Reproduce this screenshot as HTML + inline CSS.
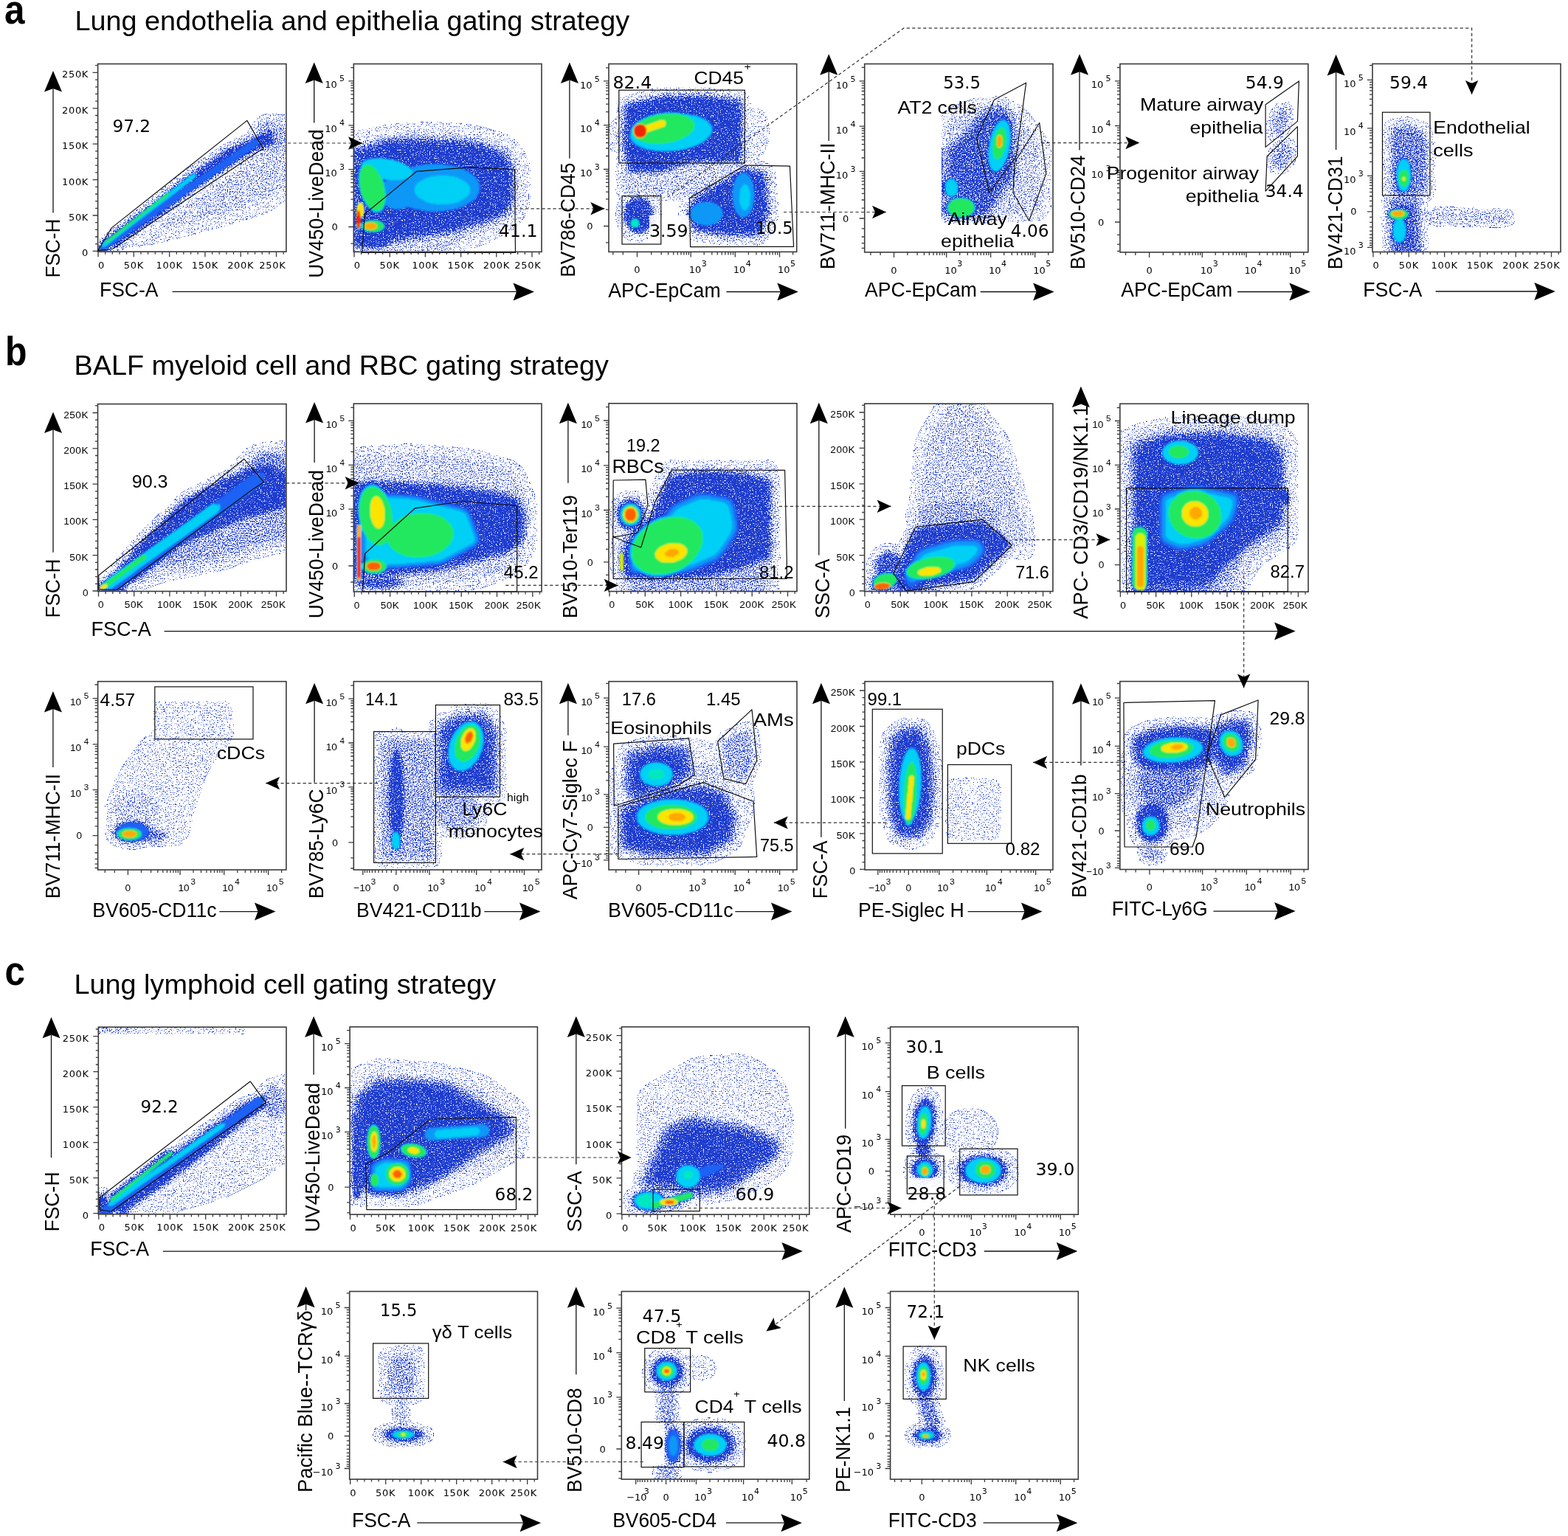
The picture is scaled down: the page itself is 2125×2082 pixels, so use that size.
<!DOCTYPE html>
<html><head><meta charset="utf-8"><title>Gating strategy</title><style>html,body{margin:0;padding:0;background:#fff;width:2125px;height:2082px;overflow:hidden}svg{display:block}</style></head><body>
<svg xmlns="http://www.w3.org/2000/svg" width="2125" height="2082" viewBox="0 0 2125 2082" font-family="'Liberation Sans', Arial, Helvetica, sans-serif">
<defs>
<filter id="spk" filterUnits="userSpaceOnUse" x="0" y="0" width="2125" height="2082" color-interpolation-filters="sRGB">
<feGaussianBlur in="SourceGraphic" stdDeviation="2" result="g"/>
<feColorMatrix in="g" type="matrix" values="0 0 0 0 0  0 0 0 0 0  0 0 0 0 0  1 0 0 0 0" result="ga"/>
<feTurbulence type="fractalNoise" baseFrequency="0.62" numOctaves="2" seed="11" result="n"/>
<feColorMatrix in="n" type="matrix" values="0 0 0 0 0  0 0 0 0 0  0 0 0 0 0  1 0 0 0 0" result="na"/>
<feComposite in="ga" in2="na" operator="arithmetic" k1="0" k2="1" k3="-1" k4="0" result="d"/>
<feComponentTransfer in="d" result="m"><feFuncA type="linear" slope="9" intercept="0"/></feComponentTransfer>
<feFlood flood-color="#1d3ccf" result="f"/>
<feComposite in="f" in2="m" operator="in"/>
</filter>
<filter id="sm" x="-2%" y="-2%" width="104%" height="104%"><feGaussianBlur stdDeviation="1.1"/></filter>
</defs>
<rect width="2125" height="2082" fill="#fff"/>
<clipPath id="fr"><rect x="133.4" y="87.4" width="253.7" height="253"/><rect x="480.1" y="87.4" width="253.1" height="253.2"/><rect x="825.8" y="87.4" width="253.1" height="253.2"/><rect x="1172.5" y="87.4" width="253.7" height="253.7"/><rect x="1518.7" y="87.4" width="253.3" height="253.7"/><rect x="1860.8" y="87.3" width="253.4" height="253.4"/><rect x="133.3" y="548.4" width="253.9" height="252.3"/><rect x="480.1" y="548" width="253.1" height="253.2"/><rect x="825.8" y="547.6" width="253.4" height="253.2"/><rect x="1172.4" y="548" width="253.7" height="252.8"/><rect x="1518.6" y="548.1" width="253.6" height="253.3"/><rect x="133.4" y="924.5" width="253.7" height="253.7"/><rect x="480.1" y="924.5" width="253.1" height="253.7"/><rect x="825.8" y="924.5" width="253.4" height="253.7"/><rect x="1172.8" y="924.5" width="253.3" height="253.7"/><rect x="1518.6" y="924.4" width="253.6" height="253.3"/><rect x="134.1" y="1393" width="253.1" height="252.1"/><rect x="474.9" y="1392.7" width="252.7" height="252.7"/><rect x="843.3" y="1392.7" width="252.7" height="252.7"/><rect x="1207.4" y="1392.7" width="253.1" height="252.7"/><rect x="474.5" y="1751.3" width="253.2" height="253"/><rect x="843.1" y="1751.3" width="252.9" height="253"/><rect x="1207.4" y="1751.3" width="253.1" height="253"/></clipPath>
<g clip-path="url(#fr)"><g filter="url(#spk)"><path d="M386 160 377 161 374 159 369 159 367 158 366 159 361 159 355 162 349 168 338 185 304 201 286 214 252 236 196 283 134 331 134 339 148 339 149 338 150 339 157 339 172 328 174 328 176 330 189 330 190 329 209 326 214 324 218 324 223 322 227 322 228 321 239 319 243 317 266 312 270 310 289 306 293 304 303 302 310 299 313 299 320 296 323 296 330 293 333 293 343 289 346 289 362 283 381 269 386 268z" fill="rgb(102,102,102)"/><path d="M386 173 380 166 372 162 363 162 358 164 352 169 349 174 348 180 345 183 306 201 250 239 200 281 152 318 143 326 134 332 134 335 135 336 134 339 147 339 149 337 157 337 161 335 211 300 266 258 335 214 337 215 331 225 323 233 268 269 222 304 219 307 219 309 226 309 227 308 231 308 232 307 247 304 251 302 289 293 323 282 326 282 333 279 336 279 351 274 359 270 374 258 378 256 386 255z" fill="rgb(117,117,117)"/><path d="M384 175 377 167 373 165 366 164 358 167 351 175 350 181 348 183 346 183 331 191 329 191 316 198 314 198 306 202 249 241 199 283 141 327 137 331 136 335 134 337 134 339 145 339 149 336 157 336 211 299 266 257 301 234 304 233 318 223 343 208 356 202 359 202 366 205 373 204 377 202 382 197 385 191 386 183 385 182z" fill="rgb(133,133,133)"/><path d="M370 178 369 177 365 177 359 179 342 187 340 187 305 204 287 217 256 237 221 266 140 328 137 331 137 334 134 338 135 339 144 339 150 335 157 335 162 331 209 299 264 257 279 247 282 246 316 223 346 205 372 195 373 194 373 190 372 189z" fill="rgb(148,148,148)"/><path d="M369 179 368 178 365 178 357 182 352 183 315 201 309 203 261 235 231 259 224 263 179 299 140 328 134 338 136 339 143 339 150 334 156 334 200 303 207 299 262 257 283 243 286 242 320 219 330 214 347 203 349 203 352 201 371 194 372 191 371 190z" fill="rgb(166,166,166)"/><path d="M368 181 367 180 364 180 356 184 351 185 307 206 265 235 260 236 139 329 137 332 137 334 134 337 136 339 143 339 151 333 157 332 210 295 241 271 308 225 311 224 319 218 344 203 363 195 368 194 370 192z" fill="rgb(184,184,184)"/><path d="M708 211 697 196 688 188 675 183 672 183 654 177 651 177 642 174 636 174 635 173 612 172 611 171 598 171 597 170 552 171 551 172 528 173 527 174 522 174 521 175 517 175 516 176 512 176 511 177 507 177 506 178 502 178 501 179 497 179 496 180 492 180 486 182 481 182 481 339 630 339 634 334 638 332 659 325 692 308 701 299 708 289 713 277 713 269 714 268 714 231 713 230 713 222z" fill="rgb(102,102,102)"/><path d="M700 216 688 200 681 195 669 191 666 191 662 189 659 189 655 187 652 187 648 185 640 184 639 183 632 183 631 182 591 180 590 179 542 181 541 182 525 183 524 184 500 188 499 189 481 193 481 339 608 339 609 336 612 333 623 327 656 316 682 303 688 299 693 294 700 284 704 274 704 226z" fill="rgb(117,117,117)"/><path d="M481 198 481 337 494 337 495 336 498 337 511 337 512 336 519 336 520 335 527 334 530 332 548 329 549 328 554 328 555 327 566 326 573 324 579 324 580 323 586 323 587 322 593 322 600 320 606 320 607 319 612 319 613 318 620 317 624 315 627 315 641 310 654 307 686 293 690 289 698 275 700 269 700 249 699 248 699 230 695 218 685 204 679 201 671 199 668 197 657 194 654 192 645 189 635 188 634 187 617 187 616 186 599 186 598 185 530 185 529 186 525 186 521 188 518 188 514 190 511 190 507 192 504 192 500 194 497 194 493 196 490 196 486 198z" fill="rgb(133,133,133)"/><path d="M481 201 481 334 488 334 489 335 495 335 496 336 513 336 514 335 520 335 521 334 524 334 532 329 542 328 543 327 558 325 559 324 564 324 565 323 571 323 578 321 584 321 585 320 591 320 592 319 610 317 611 316 615 316 623 313 626 313 640 308 643 308 650 305 653 305 685 291 690 285 693 278 696 274 698 268 697 232 696 231 696 226 693 219 686 208 678 203 670 201 667 199 653 195 644 191 631 190 630 189 594 188 593 187 531 187 530 188 526 188 522 190 519 190 515 192 512 192 508 194 505 194 501 196 498 196 494 198 491 198 484 201z" fill="rgb(148,148,148)"/><path d="M481 205 481 331 488 334 492 334 493 335 516 335 517 334 524 333 528 331 531 327 549 324 555 322 560 322 561 321 566 321 567 320 573 320 580 318 586 318 587 317 593 317 594 316 612 314 634 307 637 307 641 305 644 305 661 299 683 289 688 283 695 269 694 229 693 228 693 225 685 211 678 206 641 193 636 193 635 192 619 192 618 191 601 191 600 190 529 190 507 197 504 197 500 199 497 199z" fill="rgb(166,166,166)"/><path d="M481 330 486 333 494 334 495 335 514 335 515 334 519 334 520 333 523 333 529 329 529 326 526 323 527 322 532 322 533 321 537 321 538 320 542 320 548 318 553 318 559 316 565 316 572 314 578 314 579 313 585 313 586 312 592 312 599 310 611 309 652 297 678 286 681 284 685 278 690 267 689 231 684 219 678 212 640 198 634 198 633 197 616 197 615 196 598 196 597 195 531 195 492 206 490 208 489 219 487 222 487 228 485 233 485 252 486 253 487 261 489 265 489 272 485 275 483 280 483 307 484 308 484 311 486 313 488 311 489 312 489 321 481 325z" fill="rgb(184,184,184)"/><path d="M841 139 840 141 840 146 839 147 839 163 830 172 826 179 826 191 829 197 839 206 841 219 842 220 842 223 840 226 840 230 839 231 839 256 841 262 847 267 847 269 844 272 840 282 839 296 844 311 851 319 859 323 868 324 875 322 880 319 887 311 891 301 892 287 891 286 891 282 889 276 884 269 885 268 929 268 930 269 930 274 925 283 924 292 925 293 925 296 929 302 929 307 930 308 931 315 936 320 941 322 967 325 968 326 974 326 975 327 982 327 983 328 1025 328 1033 325 1036 322 1043 309 1043 307 1048 298 1050 292 1050 273 1049 272 1049 262 1048 261 1048 250 1047 249 1046 235 1045 232 1041 227 1034 224 1031 224 1025 219 1013 218 1012 216 1013 215 1013 198 1014 197 1018 204 1022 207 1027 207 1029 206 1033 201 1037 190 1037 182 1038 181 1037 169 1033 158 1031 155 1027 152 1022 152 1020 153 1016 158 1014 162 1013 161 1013 141 1011 134 1007 130 1000 129 999 128 994 128 993 127 966 124 965 123 896 123 895 124 886 125 872 129 868 129 863 131 850 133 845 135z" fill="rgb(102,102,102)"/><path d="M842 142 842 147 841 148 841 169 837 173 834 178 833 188 836 195 840 199 841 209 842 210 842 214 843 215 843 219 845 225 845 235 844 236 845 257 848 261 857 264 849 270 844 278 842 285 842 298 843 299 843 302 845 307 852 316 860 320 864 320 865 321 871 320 879 316 887 305 889 298 889 285 888 284 888 281 882 270 874 264 875 263 935 263 936 264 933 269 932 278 928 284 927 291 928 292 928 295 932 301 932 309 933 312 938 318 945 320 950 320 951 321 978 324 979 325 1026 325 1031 323 1034 320 1046 296 1047 289 1048 288 1044 238 1041 231 1035 227 1023 225 1022 224 1017 224 1016 223 1009 223 1008 222 1010 219 1010 212 1011 211 1011 145 1010 144 1010 137 1006 132 999 130 993 130 992 129 986 129 985 128 979 128 978 127 972 127 971 126 965 126 964 125 897 125 896 126 892 126 882 129 878 129 877 130 873 130 868 132 851 135 846 137z" fill="rgb(117,117,117)"/><path d="M861 265 852 270 848 275 844 285 844 298 848 308 852 313 861 318 870 318 879 313 883 308 887 298 887 285 883 275 879 270 870 265zM1040 234 1036 230 1030 228 1026 228 1020 226 1014 226 1013 225 1006 226 1001 228 999 230 994 232 992 234 942 262 936 268 934 275 934 279 930 285 930 294 934 300 934 306 936 313 942 317 960 319 961 320 967 320 968 321 974 321 975 322 982 322 983 323 1024 323 1029 321 1034 316 1045 291 1044 261 1043 260 1042 240zM844 143 844 146 843 147 843 172 839 180 839 189 842 194 842 204 843 205 848 232 852 236 856 236 857 237 891 237 892 236 898 236 938 223 1000 223 1006 221 1008 218 1008 215 1009 214 1009 142 1008 141 1008 137 1003 133 994 132 993 131 987 131 986 130 980 130 979 129 973 129 972 128 966 128 965 127 896 127 895 128 891 128 886 130 882 130 877 132 873 132 872 133 868 133 863 135 848 138z" fill="rgb(133,133,133)"/><path d="M862 267 855 270 851 274 847 281 845 292 846 293 847 302 851 309 855 313 859 315 869 316 876 313 880 309 884 302 886 291 885 290 884 281 880 274 876 270 872 268zM1038 236 1035 233 1027 230 1022 230 1016 228 1005 229 973 248 968 250 966 252 961 254 959 256 954 258 940 267 937 273 937 278 932 285 932 294 937 301 937 308 939 312 945 315 971 318 972 319 979 319 980 320 1025 320 1027 319 1032 314 1041 295 1042 288 1043 287 1042 269 1041 268 1041 257 1040 256 1040 246 1039 245zM846 144 846 148 845 149 845 176 844 177 844 203 845 204 850 231 854 234 859 234 860 235 888 235 889 234 897 234 938 221 997 221 998 220 1003 220 1006 217 1006 212 1007 211 1007 145 1006 144 1006 139 1005 137 1002 135 993 134 992 133 986 133 985 132 979 132 978 131 972 131 971 130 965 130 964 129 897 129 896 130 887 131 873 135 869 135 864 137 855 138 849 140z" fill="rgb(148,148,148)"/><path d="M865 268 858 270 855 272 850 278 847 285 847 298 850 305 855 311 860 314 866 315 873 313 876 311 881 305 884 298 884 285 881 278 876 272 871 269zM1034 236 1030 234 1017 232 1016 231 1005 231 998 237 993 239 991 241 986 243 984 245 979 247 972 252 945 267 941 271 940 277 935 282 933 287 934 295 940 302 940 307 941 309 946 312 964 314 965 315 971 315 972 316 978 316 979 317 1024 317 1029 313 1037 297 1040 287 1038 257 1037 256 1037 245zM848 146 846 200 847 201 847 206 848 207 852 229 856 232 895 232 919 224 922 224 932 220 940 219 941 218 1001 218 1004 215 1004 141 1003 139 1000 137 990 136 989 135 983 135 982 134 976 134 969 132 962 132 961 131 900 131 899 132 894 132 893 133 889 133 875 137 871 137 870 138 853 141 851 142z" fill="rgb(166,166,166)"/><path d="M865 269 858 271 855 273 851 278 848 285 848 298 851 305 855 310 860 313 866 314 873 312 876 310 880 305 883 298 883 285 880 278 876 273 871 270zM1031 239 1027 237 1014 235 1009 232 1006 232 1002 234 998 238 995 243 990 245 988 247 983 249 976 254 971 256 946 271 944 275 941 277 935 284 934 292 936 297 944 304 945 307 950 309 956 309 957 310 963 310 964 311 970 311 971 312 977 312 978 313 986 313 987 314 1019 314 1020 313 1023 313 1027 309 1036 288 1036 277 1035 276 1033 244zM851 147 849 200 850 201 850 206 851 207 854 225 857 229 895 229 925 219 928 219 935 216 940 216 941 215 999 215 1001 213 1001 142 999 140 990 139 989 138 983 138 982 137 976 137 975 136 969 136 968 135 962 135 961 134 900 134 899 135 894 135 889 137 885 137 884 138 880 138 875 140 871 140 866 142 854 144z" fill="rgb(184,184,184)"/><path d="M1364 136 1361 135 1351 135 1343 138 1342 137 1325 137 1324 138 1321 138 1307 144 1305 144 1295 149 1293 149 1287 152 1281 157 1281 297 1287 297 1288 298 1335 298 1336 297 1379 297 1380 296 1395 296 1396 295 1404 295 1410 293 1417 287 1420 279 1420 206 1417 196 1412 187 1391 157 1382 148 1377 145 1373 144z" fill="rgb(102,102,102)"/><path d="M1364 140 1359 138 1352 138 1339 142 1336 144 1326 144 1325 145 1322 145 1319 147 1314 148 1299 155 1297 155 1290 159 1286 163 1283 171 1283 193 1281 195 1281 297 1343 297 1348 291 1362 291 1363 290 1378 290 1379 289 1401 288 1408 285 1411 281 1412 278 1412 205 1411 204 1411 201 1408 194 1385 161 1377 154 1372 147z" fill="rgb(117,117,117)"/><path d="M1361 142 1353 141 1337 146 1329 150 1319 160 1307 175 1292 189 1281 201 1281 293 1285 297 1338 297 1344 292 1362 263 1373 250 1379 240 1379 237 1380 236 1380 200 1379 199 1379 168 1378 167 1378 162 1373 153z" fill="rgb(133,133,133)"/><path d="M1358 145 1348 146 1337 150 1330 154 1323 161 1311 176 1286 200 1284 204 1284 211 1283 212 1283 243 1281 246 1281 263 1283 266 1283 274 1281 277 1281 286 1282 288 1290 295 1296 297 1309 297 1313 295 1331 295 1337 293 1343 287 1356 265 1375 240 1376 237 1376 187 1375 186 1375 166 1374 165 1374 162 1370 155 1362 147z" fill="rgb(148,148,148)"/><path d="M1358 151 1350 151 1341 154 1332 159 1309 186 1291 202 1289 206 1289 240 1284 243 1281 247 1281 262 1284 266 1289 269 1282 277 1282 286 1287 292 1292 295 1301 296 1302 297 1304 296 1310 296 1315 294 1320 290 1328 290 1335 288 1344 276 1354 259 1370 238 1371 235 1371 174 1370 173 1369 164 1365 157z" fill="rgb(166,166,166)"/><path d="M1283 277 1282 283 1284 288 1288 292 1298 296 1307 296 1317 292 1321 288 1323 283 1323 280 1321 275 1317 271 1307 267 1294 268 1288 271zM1287 242 1285 243 1281 248 1281 261 1285 266 1287 267 1292 267 1294 266 1298 261 1299 251 1297 246 1292 242zM1362 160 1358 160 1352 164 1344 178 1341 187 1341 191 1339 197 1339 205 1338 206 1338 215 1339 216 1340 226 1343 232 1347 235 1351 235 1357 231 1365 217 1368 208 1368 204 1370 198 1370 190 1371 189 1371 180 1370 179 1369 169 1366 163z" fill="rgb(184,184,184)"/><path d="M1746 191 1739 191 1732 195 1724 206 1722 212 1722 224 1724 228 1729 232 1736 232 1743 228 1751 217 1753 211 1753 199 1751 195zM1743 142 1738 142 1733 145 1728 151 1723 161 1723 164 1721 169 1721 179 1723 184 1726 187 1731 187 1736 184 1741 178 1746 168 1746 165 1748 160 1748 150 1746 145z" fill="rgb(102,102,102)"/><path d="M1746 194 1741 193 1734 196 1729 201 1726 206 1724 212 1724 222 1725 225 1729 229 1734 230 1741 227 1746 222 1749 217 1751 211 1751 201 1750 198zM1742 145 1737 145 1735 146 1730 151 1725 160 1723 167 1723 179 1727 184 1732 184 1734 183 1739 178 1744 169 1746 162 1746 150z" fill="rgb(117,117,117)"/><path d="M1743 195 1734 198 1731 201 1726 210 1726 214 1725 215 1726 223 1732 228 1741 225 1744 222 1749 213 1749 209 1750 208 1749 200zM1741 147 1735 148 1730 153 1726 161 1724 168 1724 176 1725 179 1728 182 1734 181 1739 176 1743 168 1745 161 1745 153 1744 150z" fill="rgb(133,133,133)"/><path d="M1881 170 1878 179 1878 244 1879 245 1879 257 1880 258 1880 264 1881 265 1879 267 1877 273 1877 286 1875 290 1877 295 1877 339 1932 339 1932 326 1931 325 1931 302 1932 301 2042 304 2048 299 2049 295 2046 294 2046 291 2043 288 2037 288 2036 287 1998 287 1997 286 1931 285 1930 284 1929 271 1933 269 1939 263 1941 256 1941 201 1940 200 1940 194 1935 176 1933 173 1928 169 1907 163 1900 163 1899 164 1890 165 1883 168z" fill="rgb(102,102,102)"/><path d="M1883 173 1881 180 1881 244 1882 245 1882 257 1883 258 1883 264 1884 266 1880 271 1879 286 1877 289 1877 292 1879 295 1879 339 1930 339 1930 333 1929 332 1929 309 1928 308 1928 301 1929 300 2043 302 2047 298 2047 295 2045 294 2045 292 2042 289 2033 289 2032 288 1995 288 1994 287 1929 286 1927 284 1927 272 1926 269 1932 266 1935 263 1938 255 1938 201 1937 200 1937 195 1936 194 1936 190 1935 189 1932 177 1925 171 1912 167 1907 167 1906 166 1900 166 1899 167 1890 168z" fill="rgb(117,117,117)"/><path d="M1894 170 1889 172 1885 176 1885 179 1884 180 1884 221 1883 222 1883 228 1884 229 1885 257 1886 258 1886 263 1889 267 1884 269 1882 272 1882 285 1878 290 1879 293 1882 296 1882 339 1928 339 1927 336 1927 312 1926 311 1925 274 1924 271 1921 268 1928 265 1932 262 1935 255 1935 201 1934 200 1933 190 1930 180 1926 175 1919 172 1907 170 1906 169z" fill="rgb(133,133,133)"/><path d="M1887 271 1884 276 1884 284 1880 288 1880 293 1884 297 1884 339 1925 339 1924 306 1923 305 1923 282 1922 281 1922 274 1921 272 1916 270 1890 270zM1897 174 1892 176 1889 179 1889 188 1888 189 1888 239 1889 240 1890 259 1891 262 1894 264 1918 264 1924 262 1927 260 1930 256 1930 197 1928 192 1928 188 1926 182 1920 177 1910 175 1909 174z" fill="rgb(148,148,148)"/><path d="M1892 277 1891 278 1891 282 1884 285 1880 290 1881 293 1884 296 1888 297 1890 299 1887 305 1887 320 1891 328 1891 339 1919 339 1919 336 1918 335 1918 311 1917 310 1917 287 1916 286 1916 278 1915 277zM1900 213 1896 217 1892 228 1892 247 1896 258 1900 262 1905 262 1909 258 1913 247 1913 228 1909 217 1905 213z" fill="rgb(166,166,166)"/><path d="M1890 283 1883 286 1881 289 1881 292 1883 295 1890 298 1887 307 1887 318 1888 319 1888 322 1893 329 1898 330 1903 326 1906 318 1906 307 1905 306 1905 303 1902 298 1909 294 1910 289 1908 286 1901 283zM1900 214 1896 218 1894 222 1894 225 1892 230 1892 245 1896 257 1900 261 1905 261 1909 257 1911 253 1911 250 1913 245 1913 230 1909 218 1905 214z" fill="rgb(184,184,184)"/><path d="M386 602 351 605 341 609 336 613 312 640 284 653 282 655 259 666 257 668 247 673 192 727 143 783 134 791 134 799 188 799 190 796 196 793 223 784 306 767 353 751 356 751 360 749 363 749 372 746 385 745 386 746 386 752z" fill="rgb(102,102,102)"/><path d="M386 607 359 609 358 610 348 611 344 613 320 638 310 643 308 643 248 674 194 727 145 783 136 791 134 794 134 799 173 799 176 795 185 790 200 787 222 779 239 776 240 775 244 775 245 774 249 774 250 773 254 773 255 772 259 772 260 771 264 771 265 770 269 770 270 769 274 769 275 768 279 768 280 767 284 767 285 766 289 766 290 765 294 765 315 758 318 758 346 748 349 748 359 744 376 741 377 740 385 740 386 739z" fill="rgb(117,117,117)"/><path d="M386 617 381 618 375 614 368 613 367 612 362 612 361 613 354 614 344 621 341 625 338 632 336 632 320 640 309 644 249 675 195 728 154 775 145 784 137 790 134 795 134 799 171 799 175 794 191 785 216 766 217 767 216 769 223 769 228 767 232 767 233 766 237 766 238 765 242 765 243 764 247 764 248 763 252 763 253 762 257 762 258 761 292 755 316 747 319 747 347 737 350 737 357 734 374 731 375 730 386 729zM216 766 217 765 218 766 217 767zM217 765 218 764 219 765 218 766z" fill="rgb(133,133,133)"/><path d="M380 620 373 616 370 616 369 615 356 616 349 620 345 624 340 633 335 634 317 643 306 647 249 677 197 728 156 775 150 781 137 791 134 796 134 799 168 799 172 794 194 781 251 738 329 704 350 699 351 698 354 698 355 697 358 697 362 695 385 690 386 691 386 707 386 627z" fill="rgb(148,148,148)"/><path d="M386 640 379 637 370 631 359 631 358 632 351 632 350 633 340 634 312 647 310 647 255 675 249 679 201 726 155 778 144 785 143 787 135 794 134 796 135 799 166 799 171 793 190 782 248 738 327 703 344 699 348 697 367 693 371 691 386 688z" fill="rgb(166,166,166)"/><path d="M386 641 383 641 368 632 339 636 323 644 312 648 255 677 234 696 197 733 162 773 146 784 137 792 135 795 135 799 164 799 164 797 168 793 191 779 248 736 279 722 281 722 288 718 297 715 304 711 313 708 327 701 337 699 349 695 352 695 353 694 356 694 357 693 360 693 361 692 364 692 368 690 371 690 380 687 385 687 386 686z" fill="rgb(184,184,184)"/><path d="M481 611 481 800 615 800 617 798 625 797 626 796 646 794 670 786 697 774 708 764 718 749 722 740 722 736 723 735 723 682 722 681 722 677 720 671 707 642 703 636 697 631 691 628 682 625 679 625 672 622 669 622 662 619 659 619 652 616 640 614 639 613 634 613 633 612 624 612 623 611 601 610 600 609 590 609 589 608 579 608 578 607 565 607 564 606 535 607 534 608 519 608 518 609 504 609 503 610z" fill="rgb(102,102,102)"/><path d="M481 620 481 800 530 800 531 798 541 797 554 792 647 785 660 781 691 768 703 757 709 748 713 740 714 734 716 730 719 701 718 700 717 692 715 689 713 676 710 670 710 668 697 642 692 638 677 632 674 632 657 626 654 626 650 624 638 622 637 621 622 620 621 619 610 619 609 618 599 618 598 617 587 617 586 616 576 616 575 615 538 615 537 616 507 617 506 618 494 618 493 619 484 619z" fill="rgb(117,117,117)"/><path d="M481 651 481 785 482 786 481 787 481 792 486 795 489 795 494 797 499 797 500 798 529 798 530 797 535 797 536 796 543 795 549 791 549 788 543 784 545 782 554 782 555 781 564 781 565 780 574 780 575 779 584 779 585 778 600 777 601 776 605 776 609 774 616 773 620 771 627 770 631 768 638 767 642 765 657 762 661 760 680 756 689 753 705 742 711 736 713 732 714 722 715 721 715 713 716 712 716 697 707 675 703 671 699 669 692 667 688 667 683 665 679 665 674 663 670 663 665 661 661 661 660 660 645 659 644 658 637 658 636 657 628 657 627 656 619 656 618 655 611 655 610 654 602 654 601 653 590 653 589 652 576 652 575 651 562 651 561 650 548 650 547 649 532 649 531 648 512 649 508 647 498 647 493 650 483 650z" fill="rgb(133,133,133)"/><path d="M481 653 481 783 483 784 484 787 483 788 483 791 490 795 498 796 499 797 509 797 510 798 530 797 531 796 539 795 546 791 546 788 539 784 531 783 530 782 531 781 602 774 610 771 617 770 621 768 628 767 632 765 639 764 643 762 681 753 694 747 702 741 710 732 711 725 712 724 713 706 714 705 713 696 705 677 701 673 697 671 685 669 680 667 676 667 671 665 662 664 661 663 656 663 655 662 631 660 630 659 622 659 621 658 605 657 604 656 594 656 593 655 553 653 552 652 538 652 537 651 516 651 515 652 511 652 507 650 500 650 492 653z" fill="rgb(148,148,148)"/><path d="M481 657 481 779 483 780 483 786 485 788 485 790 488 793 493 795 504 796 505 797 524 797 525 796 531 796 532 795 539 794 541 793 544 789 539 785 532 784 531 783 525 783 524 782 505 782 504 783 498 783 491 785 490 784 490 781 491 780 498 780 499 779 518 779 519 778 536 778 537 777 548 777 549 776 558 776 559 775 568 775 569 774 578 774 579 773 588 773 589 772 601 771 602 770 613 768 617 766 624 765 628 763 635 762 639 760 642 760 643 759 654 757 658 755 684 749 690 746 701 738 706 733 708 729 709 717 710 716 710 707 711 706 710 697 703 679 700 676 693 673 685 672 684 671 676 670 666 667 662 667 661 666 656 666 655 665 631 663 630 662 623 662 622 661 614 661 613 660 605 660 604 659 595 659 594 658 581 658 580 657 567 657 566 656 553 656 552 655 539 655 538 654 515 654 512 655 509 653 499 653 492 656z" fill="rgb(166,166,166)"/><path d="M483 786 485 788 488 788 490 786 490 777 491 776 496 776 500 778 509 779 510 778 515 778 524 774 542 774 543 773 555 773 556 772 592 770 614 763 628 760 632 758 635 758 636 757 647 755 651 753 654 753 655 752 658 752 659 751 662 751 663 750 684 745 691 741 701 733 704 728 705 719 706 718 706 710 707 709 707 700 703 688 700 682 696 678 686 676 685 675 681 675 676 673 672 673 667 671 658 670 657 669 633 667 632 666 625 666 624 665 616 665 615 664 608 664 607 663 598 663 597 662 557 660 556 659 543 659 542 658 515 658 507 654 498 655 493 659 486 662 485 664 485 673 481 682 481 746 483 750z" fill="rgb(184,184,184)"/><path d="M834 681 830 691 830 704 834 714 841 721 836 728 831 740 830 749 829 750 829 759 830 760 830 765 834 774 836 784 839 788 839 799 1051 799 1051 760 1053 755 1053 652 1050 646 1050 637 1045 630 1040 628 910 628 903 631 898 637 877 685 875 681 867 673 860 670 849 670 842 673z" fill="rgb(102,102,102)"/><path d="M836 683 833 689 833 693 832 694 833 706 838 715 847 722 840 733 836 746 836 761 837 762 838 778 841 785 844 788 844 799 1046 799 1046 763 1050 757 1050 747 1051 746 1051 661 1050 660 1050 651 1045 644 1045 640 1042 635 1038 633 967 633 966 632 912 633 907 635 903 639 887 673 887 675 882 684 882 686 877 694 876 693 876 689 871 680 865 675 860 673 854 672 853 673 846 674 841 677z" fill="rgb(117,117,117)"/><path d="M1047 650 1043 646 1038 644 1021 641 1011 638 1007 638 1006 637 1001 637 1000 636 946 634 945 635 939 635 934 637 930 637 929 638 912 641 904 645 894 663 894 665 889 674 889 676 884 685 884 687 879 696 879 698 877 700 875 699 874 689 871 683 866 678 860 675 849 675 843 678 838 683 835 689 834 702 838 712 843 717 852 721 846 730 841 743 841 749 840 750 840 773 841 774 842 781 844 784 854 790 854 799 1036 799 1036 765 1043 762 1048 755 1048 653z" fill="rgb(133,133,133)"/><path d="M1045 652 1041 648 1036 646 1023 644 1022 643 1009 641 1008 640 1004 640 1003 639 996 639 995 638 943 637 942 638 937 638 932 640 928 640 923 642 911 644 907 646 902 652 880 701 873 706 872 705 873 703 873 692 870 685 867 681 860 677 857 677 856 676 849 677 841 682 836 692 836 703 839 710 842 714 849 718 856 719 857 721 852 727 847 738 844 742 844 748 840 750 840 773 844 775 844 778 848 783 855 786 880 787 881 788 919 787 920 786 929 786 934 784 956 784 957 783 964 783 965 782 996 775 1000 773 1003 773 1041 760 1044 757 1046 751 1046 657 1045 656zM856 719 857 718 858 719 857 720z" fill="rgb(148,148,148)"/><path d="M1042 653 1037 649 1029 648 1019 645 1015 645 1014 644 1010 644 1005 642 999 642 998 641 980 641 979 640 941 640 940 641 936 641 931 643 927 643 926 644 922 644 921 645 909 648 904 654 882 703 872 709 869 712 868 710 870 708 872 703 872 692 868 684 862 679 859 678 850 678 847 679 841 684 837 692 837 703 841 711 847 716 850 717 859 717 862 716 863 717 852 732 850 739 847 743 846 749 845 750 844 749 841 749 840 750 840 773 841 774 844 774 845 773 847 775 847 778 849 780 861 784 878 784 879 785 886 785 887 786 894 786 895 785 902 785 903 784 922 784 923 783 929 783 934 781 959 781 960 780 965 780 966 779 997 772 1039 758 1042 755 1043 752 1043 656zM862 716 863 715 864 716 863 717zM863 715 864 714 865 715 864 716zM867 712 868 711 869 712 868 713z" fill="rgb(166,166,166)"/><path d="M841 749 840 750 840 773 841 774 844 774 845 773 845 750 844 749zM850 679 844 682 840 687 838 692 838 703 842 711 847 715 850 716 859 716 865 713 869 708 871 703 871 692 867 684 862 680 859 679zM1039 654 1033 651 1029 651 1024 649 1020 649 1019 648 1015 648 1014 647 1006 646 1005 645 1000 645 999 644 956 643 955 642 941 643 940 644 936 644 935 645 931 645 926 647 914 649 910 651 908 653 902 665 902 667 897 676 897 678 892 687 892 689 887 698 886 702 868 714 859 724 852 736 850 743 850 747 849 748 849 774 850 776 857 781 877 782 883 784 899 784 906 782 919 782 920 781 933 780 937 778 960 778 961 777 965 777 966 776 997 769 1038 755 1040 751 1040 656z" fill="rgb(184,184,184)"/><path d="M1330 548 1271 548 1270 554 1265 564 1254 581 1247 595 1244 605 1243 618 1242 619 1242 628 1241 629 1241 639 1240 640 1240 650 1239 651 1239 661 1238 662 1238 672 1237 673 1237 684 1236 685 1236 690 1232 696 1232 703 1237 711 1234 714 1222 740 1222 742 1219 746 1212 742 1201 741 1191 745 1184 752 1179 765 1179 774 1181 780 1178 783 1175 790 1176 796 1179 799 1289 799 1296 796 1314 794 1321 792 1326 789 1371 749 1382 754 1389 754 1394 751 1397 745 1397 740 1398 739 1397 717 1396 716 1395 701 1394 700 1394 696 1393 695 1391 684 1380 650 1380 647 1377 640 1377 637 1374 630 1374 627 1371 620 1371 617 1362 595 1353 582 1335 560 1331 553z" fill="rgb(102,102,102)"/><path d="M1318 548 1282 548 1280 557 1262 586 1256 598 1253 608 1252 622 1251 623 1251 633 1250 634 1250 644 1249 645 1249 655 1248 656 1248 666 1247 667 1247 677 1246 678 1246 689 1243 691 1240 696 1240 703 1244 709 1239 712 1234 718 1234 720 1220 750 1214 746 1207 744 1202 744 1195 746 1186 754 1182 764 1182 775 1184 780 1181 782 1177 790 1178 795 1180 798 1182 799 1277 799 1279 797 1287 796 1288 795 1318 791 1324 788 1371 746 1374 739 1375 740 1382 741 1386 738 1387 736 1387 731 1388 730 1388 725 1387 724 1387 712 1386 711 1385 699 1359 611 1354 600 1348 591 1321 557z" fill="rgb(117,117,117)"/><path d="M1352 694 1347 689 1337 684 1323 680 1308 679 1307 678 1292 678 1291 679 1276 680 1262 684 1252 689 1246 696 1246 703 1252 710 1247 712 1243 712 1237 717 1220 754 1216 750 1210 747 1199 747 1193 750 1188 755 1184 764 1184 775 1186 779 1181 784 1179 788 1179 793 1181 797 1183 799 1207 799 1208 798 1210 799 1268 799 1269 797 1276 795 1314 790 1322 787 1360 754 1371 742 1371 735 1367 728 1344 712 1347 710 1353 703 1353 696z" fill="rgb(133,133,133)"/><path d="M1368 733 1366 730 1360 725 1335 708 1328 705 1300 707 1299 708 1290 708 1289 709 1281 709 1280 710 1273 710 1272 711 1265 711 1264 712 1256 712 1255 713 1244 714 1238 719 1225 748 1225 750 1221 757 1214 751 1210 749 1199 749 1195 751 1189 757 1186 764 1186 775 1188 779 1182 785 1180 789 1180 792 1182 795 1182 797 1185 799 1204 799 1210 796 1212 797 1212 799 1258 799 1261 796 1273 794 1274 793 1280 793 1281 792 1301 790 1308 788 1314 788 1324 783 1368 743 1369 741z" fill="rgb(148,148,148)"/><path d="M1367 737 1366 734 1362 729 1334 710 1327 707 1301 709 1300 710 1291 710 1290 711 1283 711 1282 712 1274 712 1273 713 1266 713 1265 714 1245 716 1240 720 1223 758 1223 760 1221 762 1219 758 1213 752 1208 750 1198 751 1190 758 1187 765 1187 774 1189 779 1182 786 1181 789 1182 796 1186 799 1202 799 1208 797 1214 792 1215 793 1215 799 1250 799 1254 795 1261 793 1272 792 1279 790 1285 790 1286 789 1292 789 1293 788 1299 788 1300 787 1306 787 1307 786 1313 786 1319 784 1348 758 1357 751 1366 742z" fill="rgb(166,166,166)"/><path d="M1364 736 1358 729 1329 710 1314 710 1313 711 1294 712 1293 713 1285 713 1284 714 1277 714 1276 715 1269 715 1268 716 1252 717 1251 718 1244 719 1239 727 1236 736 1232 743 1229 752 1219 773 1217 780 1216 781 1215 779 1209 776 1198 776 1192 778 1187 781 1182 788 1183 797 1186 799 1201 799 1209 796 1212 794 1216 789 1217 790 1217 799 1244 799 1248 794 1253 792 1315 783 1323 778 1340 762 1357 748 1364 741z" fill="rgb(184,184,184)"/><path d="M1749 592 1737 580 1724 574 1712 573 1711 572 1702 572 1701 571 1693 571 1692 570 1683 570 1682 569 1673 569 1672 568 1663 568 1662 567 1626 567 1625 568 1603 568 1602 569 1580 570 1579 571 1575 571 1574 572 1543 579 1539 581 1536 581 1519 589 1519 800 1688 800 1688 796 1690 790 1701 769 1711 759 1744 739 1751 732 1754 725 1754 720 1755 719 1755 609 1754 608 1754 603 1752 597z" fill="rgb(102,102,102)"/><path d="M1742 594 1735 587 1729 583 1720 580 1696 578 1695 577 1686 577 1685 576 1676 576 1675 575 1666 575 1665 574 1652 574 1651 573 1585 576 1584 577 1574 578 1573 579 1554 583 1550 585 1543 586 1530 592 1526 597 1524 604 1524 800 1681 800 1681 795 1684 789 1684 787 1697 763 1705 755 1742 732 1747 724 1747 721 1748 720 1748 682 1750 679 1750 670 1748 667 1748 608 1747 607 1747 603z" fill="rgb(117,117,117)"/><path d="M1740 607 1730 598 1718 591 1710 590 1709 589 1704 589 1703 588 1684 586 1683 585 1663 583 1662 582 1654 582 1653 581 1583 584 1582 585 1578 585 1577 586 1566 588 1548 594 1545 594 1536 598 1532 603 1532 606 1531 607 1531 800 1660 800 1660 798 1667 790 1672 782 1682 761 1686 755 1697 744 1731 723 1742 710 1743 707 1743 687 1746 684 1749 678 1749 671 1746 665 1743 662 1743 614z" fill="rgb(133,133,133)"/><path d="M1738 610 1730 602 1717 594 1709 593 1708 592 1703 592 1702 591 1675 588 1668 586 1662 586 1661 585 1651 585 1650 584 1584 587 1583 588 1579 588 1578 589 1567 591 1549 597 1546 597 1539 600 1536 603 1534 609 1534 719 1532 724 1532 790 1535 797 1535 800 1637 800 1638 797 1671 762 1698 739 1734 715 1737 712 1740 705 1740 687 1746 682 1748 677 1748 672 1746 667 1740 662 1740 616z" fill="rgb(148,148,148)"/><path d="M1734 611 1724 602 1714 597 1699 595 1698 594 1692 594 1691 593 1685 593 1684 592 1678 592 1677 591 1671 591 1664 589 1657 589 1656 588 1632 588 1631 589 1589 590 1588 591 1577 592 1573 594 1566 595 1562 597 1559 597 1555 599 1552 599 1543 602 1538 608 1538 715 1534 719 1533 722 1533 792 1534 795 1539 800 1609 800 1611 798 1614 798 1615 797 1628 796 1634 794 1637 792 1669 759 1690 741 1703 731 1732 712 1736 706 1737 687 1742 685 1745 682 1747 677 1747 672 1745 667 1742 664 1737 662 1737 621 1736 620 1736 615z" fill="rgb(166,166,166)"/><path d="M1729 612 1719 604 1712 601 1702 600 1701 599 1695 599 1694 598 1688 598 1687 597 1681 597 1674 595 1668 595 1667 594 1661 594 1660 593 1651 593 1650 592 1585 595 1584 596 1580 596 1568 600 1565 600 1561 602 1554 603 1546 606 1543 609 1542 612 1542 713 1535 718 1533 724 1533 790 1535 796 1540 800 1551 800 1555 795 1557 794 1562 794 1563 793 1582 792 1583 791 1598 791 1599 790 1620 790 1621 789 1631 789 1634 788 1645 778 1659 762 1689 736 1701 727 1726 711 1730 707 1732 703 1732 688 1735 686 1741 685 1746 679 1746 670 1745 668 1739 663 1733 663 1732 662 1732 618z" fill="rgb(184,184,184)"/><path d="M306 956 304 955 217 955 213 958 212 960 212 995 200 1003 195 1008 170 1042 158 1065 158 1067 153 1078 152 1084 150 1086 147 1094 147 1105 151 1114 151 1118 147 1124 147 1131 149 1135 154 1140 162 1144 169 1146 183 1147 184 1146 194 1145 198 1143 237 1142 243 1140 249 1134 253 1124 253 1121 254 1120 259 1097 262 1090 262 1087 275 1049 281 1037 287 1028 306 1005 312 994 312 983 310 980 310 965 309 964 309 960z" fill="rgb(102,102,102)"/><path d="M156 1086 152 1096 152 1103 153 1104 153 1107 158 1115 151 1122 150 1130 151 1133 157 1139 169 1144 184 1145 185 1144 190 1144 195 1142 216 1141 223 1139 230 1134 230 1131 227 1128 216 1124 210 1124 206 1120 213 1113 216 1107 217 1096 213 1086 203 1077 192 1073 177 1073 166 1077z" fill="rgb(117,117,117)"/><path d="M152 1126 153 1132 157 1137 164 1141 171 1143 188 1143 193 1141 209 1141 210 1140 215 1140 222 1138 227 1134 227 1131 224 1128 215 1125 207 1124 204 1120 199 1116 188 1112 171 1112 164 1114 157 1118 153 1123z" fill="rgb(133,133,133)"/><path d="M154 1126 154 1129 156 1133 160 1137 168 1141 172 1141 173 1142 186 1142 192 1140 210 1140 211 1139 215 1139 221 1137 224 1135 225 1133 224 1130 221 1128 215 1126 211 1126 210 1125 205 1125 203 1122 196 1116 186 1113 173 1113 163 1116 156 1122z" fill="rgb(148,148,148)"/><path d="M156 1125 157 1133 160 1136 172 1141 187 1141 188 1140 191 1140 200 1135 203 1130 203 1125 200 1120 191 1115 188 1115 187 1114 172 1114 171 1115 168 1115 159 1120z" fill="rgb(166,166,166)"/><path d="M157 1125 157 1131 161 1136 167 1139 175 1140 176 1141 183 1141 184 1140 192 1139 196 1137 202 1130 202 1125 196 1118 189 1115 184 1115 183 1114 176 1114 175 1115 167 1116 163 1118z" fill="rgb(184,184,184)"/><path d="M664 961 657 958 642 958 641 959 622 960 615 962 593 975 588 980 585 986 585 991 583 996 543 996 540 992 537 991 535 992 532 996 519 996 516 997 512 1001 511 1004 511 1163 512 1166 516 1170 523 1172 581 1172 582 1171 586 1171 591 1168 594 1159 594 1125 595 1124 601 1128 610 1131 617 1131 618 1132 629 1131 642 1126 653 1116 656 1111 658 1104 658 1095 655 1086 656 1085 668 1085 676 1082 679 1079 682 1071 682 993 681 992 680 985 670 967z" fill="rgb(102,102,102)"/><path d="M661 963 655 961 632 962 631 963 623 963 612 967 597 976 590 983 588 988 588 994 586 1001 581 999 523 999 522 1000 519 1000 515 1004 515 1007 514 1008 514 1159 517 1166 521 1168 583 1168 586 1167 589 1164 590 1161 590 1115 591 1114 592 1116 599 1122 612 1127 627 1127 634 1125 640 1122 647 1116 651 1110 653 1104 653 1095 651 1089 647 1083 648 1082 666 1082 667 1081 670 1081 676 1077 679 1069 679 994 678 993 677 986 668 970zM591 1078 594 1080 591 1085 590 1084 590 1079z" fill="rgb(117,117,117)"/><path d="M522 1004 519 1007 519 1013 518 1014 518 1153 519 1154 519 1160 522 1163 525 1164 579 1164 584 1162 586 1157 586 1010 585 1007 582 1004 576 1004 575 1003 529 1003 528 1004zM655 964 630 965 629 966 623 966 617 968 598 979 593 984 591 988 591 992 590 993 590 1067 592 1074 595 1077 599 1078 601 1080 596 1084 591 1092 590 1095 590 1104 593 1111 597 1116 601 1119 610 1123 613 1123 614 1124 625 1124 626 1123 629 1123 638 1119 642 1116 646 1111 649 1104 649 1095 646 1088 643 1084 638 1080 639 1079 666 1079 671 1077 674 1074 676 1069 676 994 675 993 674 986 666 972 660 966z" fill="rgb(133,133,133)"/><path d="M538 1012 535 1014 532 1021 532 1024 530 1029 530 1034 529 1035 528 1054 527 1055 527 1104 528 1105 529 1124 531 1131 530 1133 530 1146 533 1152 536 1154 540 1152 543 1146 543 1135 544 1134 545 1125 546 1124 547 1105 548 1104 548 1055 547 1054 547 1043 546 1042 546 1035 545 1034 545 1029 544 1028 543 1021 540 1014zM658 969 656 968 635 968 634 969 621 970 604 979 596 986 594 990 594 1069 596 1073 599 1075 603 1075 604 1076 662 1076 663 1075 667 1075 671 1072 673 1065 673 998 672 997 672 991 664 975z" fill="rgb(148,148,148)"/><path d="M539 1017 536 1017 535 1018 531 1030 530 1041 529 1042 529 1051 528 1052 528 1071 527 1072 528 1107 529 1108 530 1124 532 1130 530 1136 530 1143 533 1151 536 1153 540 1151 543 1143 543 1136 542 1134 544 1129 545 1118 546 1117 547 1088 548 1087 546 1042 545 1041 545 1035 544 1034 543 1026zM656 973 654 972 634 972 633 973 622 974 605 983 599 989 598 991 598 1067 600 1070 606 1072 660 1072 661 1071 665 1071 668 1068 668 1064 669 1063 669 998 668 997 667 989 663 981z" fill="rgb(166,166,166)"/><path d="M538 1019 535 1021 532 1029 531 1038 530 1039 530 1046 529 1047 529 1058 528 1059 528 1100 529 1101 530 1120 532 1127 530 1142 532 1149 535 1152 538 1152 541 1149 543 1142 542 1131 543 1130 544 1121 545 1120 546 1101 547 1100 547 1059 546 1058 546 1047 545 1046 545 1039 544 1038 543 1029 541 1023zM644 976 634 976 631 977 622 983 610 989 606 994 605 997 605 1060 606 1062 609 1064 658 1064 661 1061 661 996 660 995 660 992 655 983 652 980 650 980z" fill="rgb(184,184,184)"/><path d="M1021 987 1018 984 1012 983 1003 986 980 997 975 1003 974 1006 974 1016 973 1017 966 1013 949 1007 945 1007 939 1005 933 1005 932 1004 926 1004 925 1003 906 1002 905 1001 886 1001 885 1002 881 1002 851 1011 846 1014 841 1021 840 1031 839 1032 839 1038 834 1044 826 1059 826 1110 832 1121 832 1144 835 1152 840 1157 844 1159 874 1168 878 1168 879 1169 910 1169 911 1168 949 1168 950 1167 958 1167 965 1165 977 1159 995 1148 999 1144 1003 1136 1005 1124 1013 1110 1017 1096 1018 1081 1017 1080 1016 1068 1013 1060 1018 1053 1027 1032 1027 1019 1026 1018 1025 1003 1024 1002 1023 991z" fill="rgb(102,102,102)"/><path d="M1018 989 1015 987 1007 988 983 999 979 1003 977 1009 977 1013 978 1014 978 1027 979 1028 979 1039 978 1040 975 1037 966 1033 953 1033 944 1037 943 1036 943 1031 942 1030 942 1026 941 1025 941 1021 939 1015 937 1012 932 1008 925 1007 924 1006 903 1005 902 1004 887 1004 886 1005 882 1005 878 1007 871 1008 867 1010 864 1010 849 1016 846 1019 843 1026 842 1050 841 1051 841 1068 844 1076 849 1082 850 1085 839 1092 837 1095 835 1102 835 1142 837 1149 845 1156 857 1160 860 1160 867 1163 870 1163 875 1165 880 1165 881 1166 905 1166 906 1165 945 1165 946 1164 957 1164 964 1162 991 1147 997 1141 1000 1135 1002 1120 1003 1119 1003 1108 1000 1098 997 1093 994 1084 989 1075 984 1070 986 1066 986 1057 988 1056 998 1059 1007 1059 1012 1056 1019 1043 1024 1029 1024 1022 1023 1021 1021 999z" fill="rgb(117,117,117)"/><path d="M849 1020 846 1026 846 1032 845 1033 844 1068 847 1075 855 1086 846 1090 842 1093 838 1101 838 1142 840 1148 844 1152 860 1158 863 1158 867 1160 870 1160 879 1163 950 1162 951 1161 958 1161 972 1155 974 1153 989 1145 995 1139 997 1135 998 1127 999 1126 999 1121 1000 1120 1000 1107 997 1098 994 1093 994 1091 987 1077 983 1073 973 1068 952 1061 940 1061 933 1063 927 1063 926 1062 935 1056 939 1052 941 1048 941 1036 940 1035 938 1021 936 1016 931 1011 924 1009 916 1009 915 1008 887 1007 855 1016zM925 1063 926 1062 927 1063 926 1064zM1014 992 1008 992 1000 996 998 996 986 1002 982 1006 981 1016 982 1017 983 1042 984 1043 985 1050 989 1053 996 1054 997 1055 1006 1055 1010 1052 1018 1036 1020 1030 1020 1020 1019 1019 1019 1013 1018 1012 1017 998z" fill="rgb(133,133,133)"/><path d="M851 1024 849 1029 849 1037 848 1038 847 1065 848 1066 848 1069 853 1078 858 1083 863 1086 846 1094 842 1099 842 1102 841 1103 841 1140 843 1146 847 1150 861 1155 864 1155 868 1157 871 1157 875 1159 880 1159 881 1160 945 1159 946 1158 957 1158 963 1156 978 1148 990 1140 993 1136 995 1130 996 1119 997 1118 997 1109 991 1092 985 1080 980 1075 964 1068 950 1064 942 1064 941 1065 935 1065 934 1066 916 1068 915 1069 912 1069 911 1068 932 1054 937 1048 938 1039 937 1038 935 1023 933 1018 929 1014 922 1013 921 1012 890 1010 889 1011 884 1011 857 1019z" fill="rgb(148,148,148)"/><path d="M993 1107 982 1082 978 1078 959 1070 952 1068 939 1068 938 1069 933 1069 932 1070 926 1070 925 1071 903 1074 889 1079 867 1089 865 1089 860 1092 858 1092 850 1096 846 1100 845 1102 845 1141 848 1146 854 1149 878 1156 924 1156 925 1155 953 1155 954 1154 958 1154 981 1142 989 1135 991 1131 992 1122 993 1121zM929 1020 927 1018 921 1016 890 1014 858 1023 854 1027 853 1030 852 1053 851 1054 851 1064 855 1074 861 1080 864 1081 871 1080 900 1070 928 1052 932 1048 934 1044 932 1028z" fill="rgb(166,166,166)"/><path d="M989 1110 984 1096 979 1086 974 1081 970 1079 949 1072 943 1072 942 1073 936 1073 929 1075 911 1077 878 1087 868 1093 851 1101 849 1106 849 1138 851 1142 856 1145 877 1151 881 1151 882 1152 945 1151 946 1150 955 1150 967 1145 969 1143 979 1138 985 1133 988 1124zM923 1027 920 1024 915 1024 914 1023 889 1022 864 1029 861 1032 861 1035 860 1036 860 1049 859 1050 859 1064 862 1070 865 1072 870 1072 883 1067 898 1066 908 1061 912 1056 913 1053 923 1046 926 1041 925 1032z" fill="rgb(184,184,184)"/><path d="M1290 1062 1287 1067 1287 1080 1286 1081 1286 1113 1287 1114 1287 1127 1288 1130 1291 1133 1298 1135 1340 1135 1347 1133 1350 1130 1352 1123 1352 1071 1350 1064 1347 1061 1344 1060 1331 1060 1330 1059 1294 1060zM1226 978 1218 981 1210 987 1201 996 1199 1000 1198 1012 1197 1013 1197 1025 1196 1026 1196 1094 1197 1095 1197 1102 1200 1110 1200 1113 1206 1131 1209 1137 1216 1142 1220 1142 1221 1143 1224 1143 1229 1146 1236 1147 1237 1146 1240 1146 1246 1142 1249 1142 1253 1140 1259 1133 1269 1114 1271 1107 1272 1082 1273 1081 1273 1049 1272 1048 1271 1032 1270 1031 1270 1024 1269 1023 1269 1016 1268 1015 1267 1007 1257 986 1252 981 1248 979 1245 979 1244 978z" fill="rgb(102,102,102)"/><path d="M1225 981 1220 983 1208 992 1203 998 1201 1003 1200 1021 1199 1022 1199 1034 1198 1035 1199 1098 1200 1099 1201 1107 1207 1123 1207 1126 1211 1135 1214 1138 1219 1140 1246 1140 1251 1138 1255 1134 1260 1126 1268 1109 1269 1087 1270 1086 1270 1071 1271 1070 1271 1055 1270 1054 1270 1046 1269 1045 1269 1038 1268 1037 1268 1030 1267 1029 1267 1021 1266 1020 1265 1010 1259 997 1259 995 1255 988 1250 983 1245 981z" fill="rgb(117,117,117)"/><path d="M1227 983 1220 986 1213 991 1206 998 1203 1005 1202 1026 1201 1027 1201 1093 1202 1094 1202 1101 1205 1109 1205 1112 1213 1133 1216 1136 1223 1138 1242 1138 1249 1136 1254 1131 1259 1123 1265 1110 1266 1097 1267 1096 1267 1081 1268 1080 1268 1050 1267 1049 1267 1041 1266 1040 1266 1033 1265 1032 1263 1012 1260 1003 1253 989 1250 986 1242 983z" fill="rgb(133,133,133)"/><path d="M1227 986 1222 988 1215 993 1208 1000 1206 1005 1205 1023 1204 1024 1204 1038 1203 1039 1203 1050 1204 1051 1204 1096 1205 1097 1206 1106 1215 1131 1217 1133 1222 1135 1243 1135 1248 1133 1252 1129 1258 1119 1263 1107 1264 1084 1265 1083 1265 1067 1266 1066 1265 1048 1264 1047 1264 1040 1263 1039 1263 1031 1262 1030 1262 1023 1261 1022 1260 1011 1252 993 1248 988 1243 986z" fill="rgb(148,148,148)"/><path d="M1229 989 1219 994 1211 1002 1209 1007 1208 1028 1207 1029 1207 1091 1208 1092 1209 1104 1213 1114 1215 1123 1218 1129 1225 1132 1240 1132 1241 1131 1245 1131 1250 1126 1259 1109 1259 1106 1260 1105 1260 1095 1261 1094 1261 1079 1262 1078 1262 1051 1261 1050 1261 1043 1260 1042 1260 1034 1259 1033 1257 1013 1251 1000 1251 998 1248 993 1244 990 1241 990 1240 989z" fill="rgb(166,166,166)"/><path d="M1228 996 1222 1000 1217 1005 1215 1010 1214 1034 1213 1035 1214 1097 1223 1124 1225 1125 1241 1125 1245 1122 1253 1106 1253 1102 1254 1101 1254 1088 1255 1087 1256 1055 1255 1054 1255 1047 1254 1046 1252 1022 1251 1021 1251 1016 1249 1009 1244 999 1241 996z" fill="rgb(184,184,184)"/><path d="M1696 971 1692 969 1683 969 1682 968 1663 969 1652 973 1641 979 1629 978 1628 977 1616 977 1615 976 1590 976 1589 977 1567 979 1566 980 1561 980 1552 983 1534 992 1529 997 1527 1002 1527 1021 1524 1025 1519 1037 1519 1082 1524 1094 1533 1107 1532 1117 1533 1118 1533 1124 1535 1131 1541 1141 1546 1146 1551 1149 1546 1155 1546 1160 1550 1165 1558 1168 1565 1168 1573 1165 1577 1160 1577 1155 1572 1149 1577 1146 1582 1141 1587 1133 1604 1132 1620 1127 1636 1117 1647 1106 1655 1094 1659 1085 1661 1075 1662 1074 1662 1069 1663 1068 1663 1059 1669 1057 1690 1046 1694 1042 1697 1036 1703 1010 1704 1009 1704 1005 1705 1004 1705 994 1704 993 1704 988 1703 987 1703 983 1701 977z" fill="rgb(102,102,102)"/><path d="M1548 1155 1548 1160 1549 1162 1556 1166 1567 1166 1573 1163 1575 1160 1575 1155 1574 1153 1567 1149 1556 1149 1550 1152zM1694 973 1688 971 1668 971 1667 972 1662 972 1644 980 1641 983 1632 980 1608 979 1607 978 1597 978 1596 979 1587 979 1586 980 1564 982 1554 985 1545 990 1539 992 1531 999 1530 1001 1530 1026 1531 1027 1532 1035 1527 1050 1527 1069 1531 1083 1539 1097 1535 1111 1536 1124 1540 1134 1548 1143 1556 1147 1567 1147 1575 1143 1581 1137 1588 1122 1604 1121 1613 1118 1626 1111 1638 1100 1643 1093 1648 1083 1652 1069 1652 1052 1653 1051 1656 1054 1661 1056 1667 1055 1687 1045 1692 1040 1696 1030 1696 1027 1701 1010 1701 1006 1702 1005 1702 992 1701 991 1700 982 1698 977z" fill="rgb(117,117,117)"/><path d="M1549 1156 1550 1161 1556 1165 1567 1165 1571 1163 1574 1159 1573 1154 1567 1150 1556 1150 1552 1152zM1694 976 1690 974 1664 974 1647 981 1642 986 1636 983 1617 982 1616 981 1590 981 1589 982 1567 984 1566 985 1561 985 1555 987 1537 996 1534 999 1532 1003 1533 1030 1536 1036 1545 1043 1542 1046 1540 1052 1540 1072 1543 1081 1549 1088 1542 1096 1538 1106 1538 1123 1542 1133 1548 1140 1555 1144 1563 1145 1572 1142 1578 1137 1581 1133 1585 1123 1585 1106 1583 1100 1586 1098 1589 1098 1598 1094 1614 1083 1619 1078 1630 1059 1630 1057 1632 1054 1632 1044 1636 1042 1643 1036 1645 1036 1656 1051 1660 1053 1665 1053 1684 1044 1689 1040 1693 1032 1693 1029 1699 1008 1699 1004 1700 1003 1700 995 1699 994 1698 984z" fill="rgb(133,133,133)"/><path d="M1690 977 1686 977 1685 976 1670 976 1669 977 1664 977 1653 982 1651 982 1648 984 1643 990 1639 987 1632 985 1608 984 1607 983 1597 983 1596 984 1588 984 1587 985 1565 987 1555 990 1539 998 1535 1003 1535 1025 1536 1026 1536 1030 1541 1037 1556 1046 1550 1048 1548 1050 1546 1056 1546 1070 1547 1071 1547 1074 1549 1079 1556 1087 1548 1092 1544 1097 1540 1106 1540 1112 1539 1113 1541 1126 1548 1137 1557 1142 1566 1142 1571 1140 1577 1135 1582 1126 1583 1117 1584 1116 1583 1106 1577 1094 1578 1093 1587 1092 1596 1088 1609 1079 1615 1073 1619 1067 1624 1056 1624 1049 1621 1047 1619 1047 1618 1046 1619 1045 1622 1045 1631 1042 1645 1031 1656 1047 1661 1050 1668 1049 1682 1042 1687 1038 1690 1032 1690 1029 1692 1025 1692 1022 1696 1009 1696 1005 1697 1004 1697 993 1696 992 1694 981z" fill="rgb(148,148,148)"/><path d="M1556 1089 1552 1091 1545 1098 1543 1102 1541 1109 1541 1120 1545 1131 1552 1138 1556 1140 1567 1140 1571 1138 1578 1131 1580 1127 1582 1120 1582 1109 1578 1098 1571 1091 1567 1089zM1691 983 1687 980 1666 980 1651 986 1647 991 1647 996 1646 997 1640 991 1636 989 1633 989 1632 988 1622 988 1621 987 1608 987 1607 986 1596 986 1595 987 1587 987 1586 988 1579 988 1578 989 1571 989 1570 990 1561 991 1543 999 1538 1004 1538 1025 1539 1026 1539 1029 1541 1033 1546 1037 1562 1045 1604 1045 1605 1044 1622 1042 1628 1040 1640 1032 1644 1028 1646 1024 1650 1033 1657 1043 1661 1046 1666 1046 1683 1037 1686 1033 1691 1012 1692 1011 1692 1008 1693 1007 1693 1002 1694 1001z" fill="rgb(166,166,166)"/><path d="M1557 1090 1551 1093 1547 1097 1544 1102 1542 1108 1542 1121 1545 1129 1551 1136 1557 1139 1566 1139 1572 1136 1576 1132 1579 1127 1581 1121 1581 1108 1578 1100 1572 1093 1566 1090zM1645 1003 1643 999 1639 995 1633 992 1612 991 1611 990 1594 990 1593 991 1585 991 1584 992 1564 994 1558 996 1544 1003 1542 1005 1541 1008 1542 1026 1543 1029 1550 1035 1559 1040 1566 1041 1567 1042 1596 1042 1597 1041 1605 1041 1606 1040 1612 1040 1613 1039 1622 1038 1631 1034 1640 1027 1642 1024 1644 1017 1644 1012 1645 1011zM1683 986 1669 986 1668 987 1665 987 1659 990 1657 990 1653 995 1652 1003 1651 1004 1652 1006 1652 1011 1653 1012 1653 1024 1657 1032 1660 1036 1664 1039 1676 1034 1681 1028 1682 1021 1685 1016 1685 1012 1686 1011 1685 1009 1687 1004 1687 993 1686 992 1686 989z" fill="rgb(184,184,184)"/><path d="M386 1461 378 1462 365 1467 356 1475 351 1483 340 1488 338 1488 333 1491 331 1491 322 1496 287 1522 240 1554 233 1560 229 1561 154 1620 148 1626 145 1618 141 1614 138 1614 135 1617 135 1644 233 1644 236 1640 242 1637 254 1633 257 1633 261 1631 264 1631 268 1629 271 1629 275 1627 278 1627 282 1625 285 1625 289 1623 292 1623 303 1619 355 1593 364 1587 378 1575 382 1573 385 1573 386 1572zM135 1396 135 1397 329 1397 329 1396z" fill="rgb(102,102,102)"/><path d="M382 1475 377 1471 374 1470 366 1471 361 1475 356 1484 351 1484 326 1495 285 1525 238 1557 234 1561 231 1560 186 1596 153 1621 149 1625 148 1628 143 1617 141 1616 136 1617 135 1619 135 1644 176 1644 180 1639 227 1607 280 1567 329 1527 356 1507 358 1508 361 1514 366 1518 374 1519 380 1516 386 1507 386 1482zM135 1396 135 1397 189 1397 189 1396z" fill="rgb(117,117,117)"/><path d="M382 1479 378 1475 374 1473 369 1473 365 1475 357 1485 349 1486 325 1497 235 1561 230 1561 218 1571 151 1623 150 1626 147 1629 144 1620 141 1617 138 1617 135 1620 135 1644 174 1644 178 1639 225 1607 261 1580 327 1527 358 1504 361 1510 365 1514 369 1516 374 1516 378 1514 382 1510 386 1500 386 1489z" fill="rgb(133,133,133)"/><path d="M359 1485 358 1484 354 1487 348 1487 345 1490 343 1490 326 1498 236 1562 230 1561 150 1624 150 1626 147 1630 145 1627 145 1624 143 1620 140 1618 137 1619 135 1622 135 1641 136 1642 135 1644 150 1644 153 1642 156 1644 172 1644 177 1638 227 1604 281 1563 330 1523 361 1501 364 1498 364 1495 363 1493 360 1491z" fill="rgb(148,148,148)"/><path d="M358 1485 356 1485 353 1488 349 1487 341 1493 327 1499 299 1520 292 1524 236 1564 234 1561 230 1561 188 1595 150 1624 150 1627 148 1628 147 1631 145 1630 145 1625 143 1621 140 1619 137 1620 135 1623 135 1640 136 1641 135 1644 149 1644 154 1640 160 1642 161 1644 170 1644 176 1637 230 1600 234 1596 276 1565 325 1525 361 1499 363 1496 359 1492 359 1487zM208 1585 209 1584 210 1585 209 1586zM213 1581 214 1580 215 1581 214 1582zM218 1577 219 1576 220 1577 219 1578zM223 1573 224 1572 225 1573 224 1574zM234 1564 235 1563 236 1564 235 1565z" fill="rgb(166,166,166)"/><path d="M358 1485 356 1485 353 1488 350 1487 347 1488 337 1496 326 1502 298 1523 244 1560 232 1570 219 1579 217 1578 234 1564 234 1561 233 1562 232 1561 229 1562 154 1621 150 1625 150 1627 148 1628 147 1631 145 1630 145 1626 143 1622 141 1620 138 1620 135 1624 135 1639 136 1640 135 1644 149 1644 155 1639 163 1640 167 1644 174 1636 224 1602 273 1565 322 1525 360 1497 360 1495 358 1493 359 1491zM208 1585 209 1584 210 1585 209 1586zM209 1584 210 1583 211 1584 210 1585zM211 1583 212 1582 213 1583 212 1584zM212 1582 213 1581 214 1582 213 1583zM213 1581 214 1580 215 1581 214 1582zM214 1580 215 1579 217 1580 216 1581zM216 1579 217 1578 218 1579 217 1580z" fill="rgb(184,184,184)"/><path d="M475 1454 475 1628 482 1629 483 1630 488 1630 489 1631 555 1631 556 1630 565 1629 640 1601 703 1566 711 1557 713 1550 713 1514 710 1504 703 1496 665 1467 655 1462 643 1458 640 1458 636 1456 633 1456 629 1454 626 1454 622 1452 619 1452 598 1446 582 1445 581 1444 571 1444 570 1443 560 1443 559 1442 549 1442 548 1441 538 1441 537 1440 526 1440 525 1439 515 1439 514 1440 506 1441 493 1447 491 1447 480 1453z" fill="rgb(102,102,102)"/><path d="M475 1485 475 1613 477 1615 477 1621 478 1623 482 1626 487 1625 491 1620 498 1621 500 1623 508 1624 509 1625 542 1625 543 1624 551 1623 556 1619 562 1619 563 1618 571 1617 610 1598 614 1595 627 1591 642 1584 644 1582 687 1559 693 1555 698 1548 698 1544 701 1536 701 1523 696 1510 689 1503 657 1479 649 1475 640 1472 637 1472 633 1470 630 1470 626 1468 619 1467 607 1462 588 1460 587 1459 578 1459 577 1458 534 1455 533 1454 513 1454 504 1457 493 1463 490 1468 489 1474z" fill="rgb(117,117,117)"/><path d="M478 1622 481 1625 486 1625 489 1622 489 1618 491 1617 492 1618 497 1618 503 1622 508 1622 509 1623 542 1623 543 1622 548 1622 555 1617 565 1616 572 1614 607 1597 651 1567 691 1545 695 1542 698 1537 698 1533 699 1532 698 1522 693 1515 683 1508 648 1487 643 1485 631 1477 626 1475 619 1470 609 1465 599 1464 598 1463 589 1463 588 1462 578 1462 577 1461 564 1461 563 1460 514 1460 511 1461 486 1479 481 1484 477 1492 477 1607 478 1608z" fill="rgb(133,133,133)"/><path d="M478 1621 479 1623 482 1625 487 1624 489 1621 489 1615 490 1614 491 1615 499 1616 502 1619 509 1621 542 1621 551 1618 555 1614 566 1613 572 1611 610 1592 652 1563 690 1542 695 1537 695 1534 696 1533 695 1522 691 1517 673 1505 609 1468 600 1467 599 1466 591 1466 590 1465 569 1464 568 1463 514 1463 505 1468 488 1481 482 1488 482 1491 481 1492 481 1509 478 1513z" fill="rgb(148,148,148)"/><path d="M479 1622 481 1624 486 1624 488 1622 488 1612 489 1611 498 1612 500 1613 503 1617 508 1619 543 1619 551 1616 555 1611 568 1609 575 1605 577 1605 605 1591 649 1561 687 1540 692 1535 692 1524 688 1519 670 1507 665 1505 619 1477 607 1471 597 1470 596 1469 577 1468 576 1467 561 1467 560 1466 516 1466 513 1467 492 1482 486 1488 485 1490 485 1509 484 1510 481 1510 479 1512z" fill="rgb(166,166,166)"/><path d="M481 1510 479 1512 479 1622 481 1624 486 1624 488 1622 488 1512 486 1510zM491 1602 493 1605 500 1606 503 1615 506 1617 546 1617 550 1615 559 1604 568 1602 601 1586 645 1556 683 1535 686 1531 686 1528 681 1522 669 1514 605 1477 593 1476 592 1475 583 1475 582 1474 572 1474 571 1473 537 1473 536 1472 520 1472 519 1473 516 1473 496 1487 491 1494z" fill="rgb(184,184,184)"/><path d="M1056 1464 1047 1455 1019 1438 1008 1434 992 1433 991 1434 977 1434 976 1435 953 1436 952 1437 947 1437 937 1440 878 1475 871 1482 868 1489 868 1495 867 1496 867 1586 861 1599 861 1603 860 1604 862 1612 853 1618 849 1625 849 1630 853 1637 857 1640 866 1644 893 1644 902 1640 905 1637 918 1636 925 1631 943 1629 944 1628 958 1628 959 1627 964 1627 965 1626 970 1626 971 1625 986 1623 1004 1617 1007 1615 1012 1614 1026 1608 1036 1602 1056 1587 1064 1578 1067 1571 1068 1562 1069 1561 1069 1552 1070 1551 1070 1539 1071 1538 1071 1517 1070 1516 1069 1506 1068 1505 1062 1478z" fill="rgb(102,102,102)"/><path d="M1061 1549 1059 1545 1054 1540 1027 1526 1012 1521 990 1518 989 1517 984 1517 983 1516 978 1516 977 1515 955 1512 954 1511 949 1511 948 1510 940 1510 939 1509 937 1510 931 1510 912 1517 902 1522 895 1529 866 1595 864 1601 864 1607 867 1612 865 1614 859 1616 853 1622 852 1625 853 1633 859 1639 869 1643 873 1643 874 1644 885 1644 886 1643 890 1643 896 1641 903 1636 915 1636 922 1633 925 1629 935 1627 938 1625 956 1625 957 1624 963 1624 964 1623 980 1621 981 1620 985 1620 991 1618 1052 1577 1059 1570 1061 1566 1061 1562 1062 1561zM905 1621 906 1620 909 1621 908 1622z" fill="rgb(117,117,117)"/><path d="M1058 1550 1056 1546 1050 1541 1022 1527 1016 1525 1008 1524 1007 1523 1002 1523 1001 1522 996 1522 990 1520 985 1520 984 1519 979 1519 978 1518 973 1518 972 1517 967 1517 966 1516 961 1516 960 1515 955 1515 949 1513 942 1513 941 1512 931 1513 904 1524 898 1530 868 1598 868 1601 867 1602 868 1608 871 1611 874 1612 864 1615 859 1618 854 1625 854 1630 856 1634 864 1640 870 1642 882 1643 883 1642 889 1642 895 1640 901 1636 912 1636 919 1634 922 1632 924 1629 937 1626 941 1622 957 1622 958 1621 963 1621 964 1620 969 1620 970 1619 975 1619 976 1618 988 1616 996 1612 1022 1593 1051 1574 1056 1569 1058 1565 1058 1562 1059 1561zM898 1617 899 1616 903 1616 904 1617 910 1617 911 1618 917 1618 918 1619 904 1623 903 1621z" fill="rgb(133,133,133)"/><path d="M1055 1552 1050 1545 1018 1529 1006 1527 1005 1526 982 1523 976 1521 947 1517 946 1516 933 1516 924 1519 906 1527 900 1533 883 1571 883 1573 880 1578 880 1580 877 1585 877 1587 874 1592 874 1594 871 1600 871 1604 874 1608 880 1610 906 1613 907 1614 913 1614 914 1615 920 1615 926 1617 922 1619 919 1619 915 1621 912 1621 903 1624 899 1619 888 1614 882 1614 881 1613 871 1614 863 1617 858 1621 856 1624 856 1631 860 1636 865 1639 871 1641 881 1642 882 1641 888 1641 894 1639 900 1635 905 1635 907 1636 908 1635 917 1634 923 1629 937 1625 940 1621 939 1619 940 1618 942 1619 954 1619 955 1618 967 1617 968 1616 978 1615 979 1614 983 1614 989 1612 1048 1572 1053 1567 1055 1563z" fill="rgb(148,148,148)"/><path d="M857 1630 863 1637 867 1639 875 1640 876 1641 883 1641 884 1640 892 1639 899 1635 913 1635 920 1632 922 1629 937 1625 939 1623 939 1618 937 1616 931 1616 916 1621 902 1624 896 1618 892 1616 884 1615 883 1614 876 1614 875 1615 870 1615 863 1618 858 1623 857 1625zM876 1603 878 1605 885 1606 886 1607 892 1607 893 1608 899 1608 900 1609 906 1609 907 1610 913 1610 914 1611 920 1611 921 1612 927 1612 928 1613 941 1614 942 1615 954 1615 955 1614 961 1614 967 1612 982 1610 995 1604 1012 1591 1044 1570 1051 1562 1051 1553 1050 1551 1044 1546 1014 1532 1006 1531 1005 1530 1000 1530 999 1529 994 1529 993 1528 988 1528 987 1527 982 1527 981 1526 976 1526 975 1525 965 1524 964 1523 959 1523 958 1522 953 1522 952 1521 947 1521 946 1520 934 1520 933 1521 930 1521 909 1530 906 1532 903 1536 890 1565 890 1567 883 1581 883 1583 880 1588 880 1590 877 1595z" fill="rgb(166,166,166)"/><path d="M858 1630 863 1636 869 1639 872 1639 873 1640 886 1640 899 1635 912 1635 913 1634 916 1634 918 1633 921 1629 937 1625 939 1623 939 1618 937 1616 932 1616 920 1620 917 1620 913 1622 901 1624 896 1619 890 1616 887 1616 886 1615 873 1615 863 1619 858 1625zM886 1598 892 1600 915 1603 917 1606 930 1611 935 1611 942 1608 957 1607 958 1606 982 1602 990 1598 1013 1581 1039 1564 1042 1561 1043 1556 1037 1551 1021 1543 1010 1539 995 1537 994 1536 989 1536 988 1535 983 1535 982 1534 977 1534 976 1533 960 1531 959 1530 954 1530 953 1529 948 1529 947 1528 934 1528 920 1534 918 1534 914 1536 910 1540 888 1589 888 1591 886 1594z" fill="rgb(184,184,184)"/><path d="M1293 1513 1285 1521 1282 1527 1282 1530 1281 1531 1282 1542 1285 1548 1293 1556 1298 1559 1307 1561 1309 1563 1298 1569 1292 1575 1289 1581 1289 1592 1292 1598 1298 1604 1304 1608 1314 1612 1323 1613 1324 1614 1341 1614 1342 1613 1347 1613 1359 1609 1367 1604 1373 1598 1376 1592 1376 1581 1373 1575 1367 1569 1359 1564 1347 1560 1334 1559 1333 1558 1344 1548 1347 1542 1348 1531 1344 1521 1333 1511 1321 1507 1308 1507 1298 1510zM1252 1478 1247 1481 1242 1487 1237 1497 1234 1507 1233 1518 1232 1519 1232 1537 1233 1538 1233 1543 1234 1544 1235 1551 1239 1558 1239 1563 1241 1567 1237 1569 1232 1574 1229 1580 1229 1589 1232 1595 1237 1600 1245 1604 1257 1605 1258 1604 1262 1604 1270 1600 1275 1595 1278 1589 1278 1580 1275 1574 1270 1569 1265 1567 1263 1565 1264 1563 1264 1556 1263 1555 1268 1546 1270 1540 1271 1532 1272 1531 1272 1525 1273 1524 1273 1506 1272 1505 1272 1500 1271 1499 1270 1492 1266 1484 1261 1479 1259 1478z" fill="rgb(102,102,102)"/><path d="M1293 1583 1294 1593 1297 1598 1301 1602 1309 1607 1323 1611 1342 1611 1356 1607 1364 1602 1368 1598 1372 1590 1371 1580 1368 1575 1364 1571 1356 1566 1342 1562 1323 1562 1309 1566 1301 1571 1297 1575zM1253 1482 1249 1484 1242 1492 1239 1498 1235 1512 1234 1535 1235 1536 1235 1541 1238 1551 1241 1555 1240 1557 1240 1562 1244 1567 1234 1575 1232 1579 1231 1586 1234 1594 1238 1598 1246 1602 1256 1603 1257 1602 1264 1601 1269 1598 1273 1594 1275 1590 1276 1583 1273 1575 1269 1571 1264 1568 1262 1568 1260 1566 1263 1562 1263 1557 1261 1553 1266 1545 1270 1531 1270 1525 1271 1524 1271 1508 1270 1507 1270 1502 1267 1492 1264 1487 1260 1483z" fill="rgb(117,117,117)"/><path d="M1296 1584 1297 1592 1299 1596 1304 1601 1313 1606 1319 1608 1323 1608 1324 1609 1341 1609 1342 1608 1346 1608 1352 1606 1361 1601 1366 1596 1369 1589 1368 1581 1366 1577 1361 1572 1352 1567 1346 1565 1342 1565 1341 1564 1324 1564 1323 1565 1319 1565 1313 1567 1304 1572 1299 1577zM1256 1485 1251 1486 1248 1488 1242 1496 1238 1506 1237 1515 1236 1516 1236 1537 1237 1538 1237 1542 1239 1548 1243 1554 1241 1557 1241 1562 1242 1564 1247 1568 1241 1571 1235 1577 1233 1582 1233 1587 1235 1592 1241 1598 1248 1601 1259 1601 1266 1598 1272 1592 1274 1587 1274 1582 1272 1577 1266 1571 1260 1569 1258 1567 1262 1562 1262 1557 1259 1552 1264 1545 1268 1533 1268 1528 1269 1527 1269 1506 1264 1491 1259 1486z" fill="rgb(133,133,133)"/><path d="M1299 1584 1300 1592 1305 1599 1313 1604 1323 1607 1342 1607 1352 1604 1362 1597 1366 1589 1365 1581 1360 1574 1352 1569 1342 1566 1323 1566 1313 1569 1303 1576zM1253 1488 1249 1490 1244 1496 1239 1508 1238 1517 1237 1518 1237 1534 1238 1535 1238 1540 1241 1548 1245 1553 1242 1557 1242 1562 1245 1566 1250 1569 1242 1572 1237 1577 1235 1581 1235 1588 1237 1592 1242 1597 1250 1600 1257 1600 1265 1597 1270 1592 1272 1588 1272 1581 1270 1577 1265 1572 1254 1568 1258 1566 1261 1562 1261 1557 1257 1552 1261 1547 1266 1535 1267 1526 1268 1525 1268 1509 1267 1508 1267 1503 1265 1497 1262 1492 1256 1488z" fill="rgb(148,148,148)"/><path d="M1239 1576 1236 1582 1236 1587 1239 1593 1244 1597 1250 1599 1257 1599 1266 1595 1270 1590 1271 1587 1270 1579 1268 1576 1263 1572 1257 1570 1250 1570 1244 1572zM1301 1585 1302 1592 1308 1599 1317 1604 1320 1604 1325 1606 1340 1606 1341 1605 1348 1604 1357 1599 1363 1592 1363 1589 1364 1588 1363 1581 1357 1574 1348 1569 1345 1569 1340 1567 1325 1567 1324 1568 1317 1569 1308 1574 1302 1581 1302 1584zM1255 1490 1251 1491 1245 1497 1241 1505 1239 1512 1239 1517 1238 1518 1238 1533 1239 1534 1239 1539 1242 1547 1247 1552 1243 1556 1243 1563 1248 1567 1255 1567 1260 1563 1260 1556 1256 1553 1255 1551 1260 1546 1264 1538 1266 1531 1266 1526 1267 1525 1267 1510 1266 1509 1266 1504 1264 1498 1258 1491z" fill="rgb(166,166,166)"/><path d="M1239 1577 1237 1581 1237 1588 1239 1592 1246 1597 1249 1598 1258 1598 1265 1595 1270 1588 1270 1581 1268 1577 1261 1572 1258 1571 1249 1571 1242 1574zM1303 1582 1303 1591 1304 1593 1311 1600 1317 1603 1324 1604 1325 1605 1340 1605 1341 1604 1348 1603 1354 1600 1362 1591 1362 1582 1361 1580 1354 1573 1348 1570 1341 1569 1340 1568 1325 1568 1324 1569 1317 1570 1311 1573zM1257 1492 1252 1492 1246 1497 1241 1507 1240 1515 1239 1516 1239 1535 1240 1536 1240 1540 1244 1548 1249 1552 1245 1554 1243 1557 1243 1562 1245 1565 1249 1567 1254 1567 1258 1565 1260 1562 1260 1557 1258 1554 1253 1551 1255 1550 1261 1543 1264 1536 1265 1528 1266 1527 1266 1508 1265 1507 1265 1503 1261 1495z" fill="rgb(184,184,184)"/><path d="M560 1828 548 1828 547 1829 528 1830 523 1832 518 1839 518 1843 517 1844 517 1885 518 1886 518 1890 522 1896 529 1899 535 1899 536 1900 537 1928 538 1929 537 1932 521 1935 512 1940 510 1943 510 1946 512 1949 521 1954 524 1954 529 1956 534 1956 535 1957 558 1957 559 1956 564 1956 565 1955 572 1954 581 1949 583 1946 583 1943 581 1940 572 1935 569 1935 564 1933 559 1933 558 1932 552 1932 551 1931 552 1926 551 1925 550 1900 551 1899 559 1899 565 1897 569 1893 571 1887 571 1839 568 1832 564 1829 561 1829z" fill="rgb(102,102,102)"/><path d="M532 1834 526 1836 524 1838 522 1843 522 1886 525 1892 529 1894 535 1894 537 1897 538 1928 540 1932 537 1934 531 1934 519 1938 515 1941 514 1946 515 1948 519 1951 531 1955 537 1955 538 1956 555 1956 556 1955 566 1954 572 1952 578 1948 579 1946 578 1941 574 1938 566 1935 550 1933 549 1932 551 1928 550 1925 550 1910 549 1909 549 1895 550 1894 559 1894 563 1892 566 1887 566 1839 565 1837 560 1833z" fill="rgb(117,117,117)"/><path d="M517 1942 517 1947 519 1949 528 1953 538 1954 539 1955 561 1954 568 1952 576 1947 576 1942 574 1940 565 1936 555 1935 554 1934 532 1935 525 1937zM557 1840 554 1839 536 1840 535 1841 532 1841 529 1844 529 1847 528 1848 528 1881 531 1887 534 1888 554 1888 559 1885 560 1882 560 1844z" fill="rgb(133,133,133)"/><path d="M519 1943 519 1946 522 1949 528 1952 537 1953 538 1954 555 1954 556 1953 561 1953 571 1949 574 1946 574 1943 571 1940 565 1937 556 1936 555 1935 538 1935 537 1936 532 1936 522 1940z" fill="rgb(148,148,148)"/><path d="M521 1943 521 1946 524 1949 536 1953 557 1953 558 1952 565 1951 572 1946 572 1943 569 1940 557 1936 536 1936 535 1937 528 1938z" fill="rgb(166,166,166)"/><path d="M522 1943 522 1946 525 1949 539 1953 554 1953 555 1952 560 1952 568 1949 571 1946 571 1943 568 1940 554 1936 539 1936 538 1937 533 1937 525 1940z" fill="rgb(184,184,184)"/><path d="M887 1837 878 1847 878 1849 876 1852 875 1861 876 1862 876 1867 880 1875 887 1882 892 1885 892 1931 894 1935 901 1940 900 1941 899 1950 898 1951 898 1968 899 1969 900 1978 902 1981 901 1984 893 1987 889 1991 889 1998 895 2003 914 2003 916 2002 920 1998 920 1991 919 1989 922 1985 924 1979 926 1977 932 1982 941 1987 947 1989 951 1989 952 1990 959 1990 960 1991 978 1989 990 1984 997 1979 1004 1970 1004 1968 1006 1965 1006 1952 1004 1949 1004 1947 999 1940 990 1933 978 1928 960 1926 959 1927 952 1927 951 1928 947 1928 941 1930 932 1935 925 1941 922 1934 917 1928 917 1885 922 1882 929 1875 934 1865 939 1867 950 1867 957 1865 962 1862 966 1856 966 1853 964 1849 959 1845 950 1842 939 1842 930 1845 919 1835 910 1832 899 1832 892 1834z" fill="rgb(102,102,102)"/><path d="M889 1839 882 1846 880 1850 878 1857 878 1862 882 1873 889 1880 894 1883 894 1931 899 1937 903 1939 900 1948 899 1963 900 1964 901 1975 905 1984 894 1988 891 1991 891 1998 898 2003 911 2003 915 2001 918 1998 918 1991 916 1988 921 1983 924 1975 924 1972 926 1970 927 1972 937 1981 943 1984 953 1987 972 1987 982 1984 991 1979 998 1972 1002 1963 1002 1954 998 1945 991 1938 982 1933 972 1930 953 1930 943 1933 934 1938 925 1948 924 1947 924 1944 921 1936 915 1930 915 1883 920 1880 927 1873 931 1862 930 1853 927 1846 920 1839 911 1835 898 1835z" fill="rgb(117,117,117)"/><path d="M890 1841 884 1847 881 1853 881 1866 884 1872 890 1878 896 1881 895 1882 895 1930 898 1935 905 1938 901 1949 900 1962 901 1963 901 1970 903 1977 908 1985 907 1986 902 1986 896 1988 892 1993 893 1998 896 2001 902 2003 911 2002 916 1998 917 1993 913 1987 916 1986 919 1983 923 1974 924 1963 926 1961 930 1971 936 1977 945 1982 951 1984 955 1984 956 1985 969 1985 970 1984 974 1984 980 1982 989 1977 995 1971 998 1965 998 1962 999 1961 998 1952 995 1946 989 1940 980 1935 974 1933 970 1933 969 1932 956 1932 955 1933 951 1933 945 1935 936 1940 930 1946 927 1952 927 1955 925 1957 924 1956 924 1949 922 1942 919 1936 916 1933 913 1932 914 1930 914 1882 913 1881 919 1878 925 1872 928 1866 928 1853 925 1847 919 1841 910 1837 899 1837zM907 1986 908 1985 909 1986 908 1987z" fill="rgb(133,133,133)"/><path d="M932 1948 929 1955 929 1962 932 1969 940 1977 952 1982 967 1983 968 1982 973 1982 985 1977 993 1969 996 1962 996 1955 993 1948 985 1940 973 1935 968 1935 967 1934 952 1935 940 1940zM912 1934 908 1936 904 1942 902 1949 901 1963 902 1964 902 1970 905 1979 908 1983 913 1985 917 1983 921 1977 923 1970 924 1956 923 1955 923 1949 920 1940 917 1936zM898 1839 889 1844 885 1849 882 1858 883 1866 887 1873 892 1877 898 1880 911 1880 920 1875 924 1870 927 1861 926 1853 922 1846 917 1842 911 1839z" fill="rgb(148,148,148)"/><path d="M933 1950 931 1956 931 1961 935 1970 942 1976 955 1981 970 1981 983 1976 990 1970 994 1961 994 1956 990 1947 983 1941 970 1936 955 1936 948 1938 939 1943zM911 1936 907 1939 903 1948 903 1952 902 1953 902 1966 903 1967 903 1971 905 1977 907 1980 911 1983 914 1983 918 1980 922 1971 922 1967 923 1966 923 1953 922 1952 922 1948 920 1942 918 1939 914 1936zM900 1840 893 1843 888 1847 884 1855 884 1864 888 1872 893 1876 900 1879 909 1879 916 1876 921 1872 925 1864 925 1855 921 1847 916 1843 909 1840z" fill="rgb(166,166,166)"/><path d="M934 1951 933 1954 933 1963 935 1968 944 1976 955 1980 970 1980 977 1978 984 1974 990 1968 992 1963 992 1954 990 1949 981 1941 970 1937 955 1937 948 1939 941 1943zM910 1937 907 1940 904 1946 902 1961 903 1962 904 1973 907 1979 910 1982 915 1982 918 1979 921 1973 923 1958 922 1957 921 1946 918 1940 915 1937zM899 1841 893 1844 887 1850 885 1855 885 1864 887 1869 893 1875 899 1878 910 1878 916 1875 922 1869 924 1864 924 1855 922 1850 916 1844 910 1841z" fill="rgb(184,184,184)"/><path d="M1248 1829 1244 1831 1239 1836 1235 1843 1231 1857 1231 1876 1235 1890 1244 1903 1252 1932 1237 1937 1232 1942 1231 1946 1232 1949 1239 1955 1249 1958 1266 1958 1278 1954 1283 1949 1284 1946 1283 1942 1276 1936 1276 1927 1267 1899 1267 1895 1270 1890 1274 1876 1274 1857 1270 1843 1266 1836 1261 1831 1257 1829z" fill="rgb(102,102,102)"/><path d="M1251 1832 1243 1836 1236 1847 1234 1854 1234 1858 1233 1859 1233 1874 1234 1875 1234 1879 1236 1886 1239 1892 1244 1898 1254 1933 1239 1938 1235 1942 1234 1947 1239 1953 1243 1955 1250 1956 1251 1957 1264 1957 1276 1953 1280 1949 1281 1944 1280 1942 1274 1937 1275 1929 1269 1911 1267 1901 1264 1894 1269 1886 1271 1879 1271 1875 1272 1874 1272 1859 1271 1858 1270 1850 1266 1841 1262 1836 1257 1833z" fill="rgb(117,117,117)"/><path d="M1250 1835 1246 1837 1241 1842 1238 1847 1235 1857 1235 1876 1239 1888 1245 1895 1245 1900 1247 1904 1247 1907 1252 1921 1255 1934 1240 1939 1237 1942 1236 1947 1240 1952 1247 1955 1250 1955 1251 1956 1264 1956 1275 1952 1279 1947 1278 1942 1272 1937 1274 1934 1274 1929 1272 1925 1270 1915 1263 1894 1263 1892 1267 1886 1270 1876 1270 1857 1267 1847 1264 1842 1259 1837 1255 1835z" fill="rgb(133,133,133)"/><path d="M1249 1838 1241 1845 1237 1855 1237 1859 1236 1860 1236 1873 1241 1888 1247 1894 1246 1895 1246 1900 1248 1904 1250 1914 1257 1935 1256 1936 1251 1936 1242 1939 1238 1943 1238 1948 1242 1952 1247 1954 1250 1954 1251 1955 1264 1955 1273 1952 1277 1948 1277 1943 1271 1938 1273 1934 1273 1929 1266 1908 1264 1898 1261 1892 1264 1888 1268 1878 1268 1874 1269 1873 1269 1860 1264 1845 1256 1838z" fill="rgb(148,148,148)"/><path d="M1239 1944 1239 1947 1242 1951 1249 1954 1256 1954 1257 1955 1269 1953 1273 1951 1276 1947 1276 1944 1273 1940 1266 1937 1259 1937 1258 1936 1246 1938 1242 1940zM1249 1840 1242 1846 1238 1856 1238 1860 1237 1861 1237 1872 1242 1887 1249 1893 1256 1893 1263 1887 1267 1877 1267 1873 1268 1872 1268 1861 1263 1846 1256 1840z" fill="rgb(166,166,166)"/><path d="M1240 1943 1240 1948 1243 1951 1251 1954 1264 1954 1272 1951 1275 1948 1275 1943 1272 1940 1264 1937 1251 1937 1243 1940zM1249 1841 1243 1846 1240 1852 1238 1859 1238 1874 1243 1887 1249 1892 1256 1892 1262 1887 1265 1881 1267 1874 1267 1859 1262 1846 1256 1841z" fill="rgb(184,184,184)"/></g>
<g filter="url(#sm)"><path d="M351 189 350 188 348 190 344 189 256 250 254 249 266 239 266 236 265 235 264 236 260 236 230 260 224 263 174 303 139 329 137 332 138 334 134 337 137 339 142 339 147 336 150 333 163 325 166 322 179 314 182 311 195 303 198 300 211 292 214 289 227 281 230 278 243 270 246 267 349 197 351 194zM242 258 243 257 244 258 243 259zM243 257 244 256 245 257 244 258zM245 256 246 255 247 256 246 257zM246 255 247 254 248 255 247 256zM247 254 248 253 250 254 249 255zM249 253 250 252 251 253 250 254zM253 250 254 251 251 253 250 252zM253 250 254 249 255 250 254 251z" fill="#1c62f4"/><path d="M265 235 263 237 262 236 259 237 234 257 219 267 152 320 143 326 139 330 138 334 141 335 146 332 180 305 232 266 236 262 245 256 249 252 258 246 265 240 266 238z" fill="#0898f8"/><path d="M265 235 263 237 262 236 259 237 238 254 219 267 156 317 147 323 139 330 138 334 141 335 146 332 150 328 263 242 266 238z" fill="#00d0f6"/><path d="M230 262 227 261 144 326 143 329 145 330 152 325 161 317 226 267z" fill="#00e8c0"/><path d="M230 262 227 261 214 272 144 326 143 329 145 330 212 277 226 267z" fill="#20e860"/><path d="M487 274 485 276 483 282 483 287 484 288 483 289 483 306 485 312 487 312 489 307 493 312 501 315 510 315 518 312 521 309 522 306 518 301 514 299 501 298 493 301 490 304 489 303 489 296 493 291 494 282 492 276 490 274zM486 233 486 240 485 241 486 253 490 267 498 281 503 286 510 289 513 289 517 287 521 282 522 279 524 279 531 283 535 283 536 284 543 284 544 283 548 283 551 281 554 281 558 283 570 285 571 286 577 286 578 287 601 287 602 286 613 285 629 280 641 273 647 267 651 259 651 250 647 242 641 236 635 232 624 227 614 225 613 224 609 224 608 223 602 223 601 222 578 222 577 223 571 223 570 224 566 224 556 227 542 219 536 218 532 216 520 215 519 214 506 214 492 218 489 221 489 226zM519 244 521 243 522 245 521 246z" fill="#1c62f4"/><path d="M487 274 484 278 484 282 483 283 483 286 484 287 483 289 483 306 484 307 484 310 486 312 488 310 488 307 489 306 490 309 493 312 498 314 508 315 518 312 521 309 521 304 518 301 513 299 503 298 502 299 495 300 490 304 489 303 489 296 493 291 494 283 492 276 490 274zM486 236 486 250 487 251 488 260 491 266 491 268 498 280 503 285 509 288 513 288 517 286 519 284 522 277 526 280 534 283 545 283 552 280 555 280 562 283 570 284 571 285 577 285 578 286 601 286 602 285 613 284 626 280 640 272 645 267 649 259 649 250 645 242 640 237 626 229 613 225 602 224 601 223 578 223 577 224 571 224 570 225 566 225 556 228 551 224 543 220 530 216 525 216 524 215 502 215 501 216 498 216 491 220 490 226 488 229zM519 245 520 243 524 243 525 244 521 247z" fill="#0898f8"/><path d="M487 274 485 276 484 283 483 284 484 286 484 289 483 290 483 305 485 311 486 312 487 311 489 305 491 310 498 314 504 314 506 315 507 314 513 314 519 311 521 308 521 305 519 302 513 299 507 299 506 298 504 299 498 299 492 302 490 305 489 304 489 296 492 293 494 284 493 283 492 276 490 274zM562 254 562 261 566 267 578 274 585 276 590 276 591 277 608 277 609 276 614 276 621 274 633 267 637 261 637 254 633 248 621 241 614 239 609 239 608 238 591 238 590 239 585 239 578 241 566 248zM552 225 542 220 533 217 523 216 522 215 505 215 504 216 497 217 491 221 486 239 487 254 488 255 490 265 495 275 504 285 508 287 514 287 519 283 521 279 522 271 523 270 523 262 522 261 522 255 521 254 520 247 518 243 520 242 527 244 544 244 556 240 558 238 559 234 558 231z" fill="#00d0f6"/><path d="M491 304 491 309 493 311 500 314 511 314 518 311 520 309 520 304 518 302 511 299 500 299 493 302zM489 274 486 275 484 279 483 305 485 311 487 311 488 309 488 306 489 305 489 295 491 294 493 290 493 279 491 275zM495 223 491 226 487 236 487 251 488 252 489 260 491 266 497 277 504 284 508 286 514 286 518 283 522 273 522 258 521 257 520 249 518 243 512 232 505 225 501 223z" fill="#00e8c0"/><path d="M491 305 492 310 500 314 511 314 518 311 520 308 519 303 511 299 500 299 493 302zM490 275 487 275 484 280 483 304 486 311 489 304 489 295 492 292 493 289 493 280zM498 223 493 225 491 227 488 234 487 248 488 249 489 259 491 265 499 279 505 284 511 286 516 284 518 282 521 275 522 261 521 260 520 250 518 244 510 230 504 225z" fill="#20e860"/><path d="M494 305 494 308 498 311 507 311 511 308 511 305 507 302 498 302zM490 275 487 275 484 280 483 303 484 304 484 308 486 311 488 308 488 304 489 303 489 295 492 292 493 289 493 280z" fill="#78f020"/><path d="M494 305 494 308 499 311 506 311 511 308 511 305 506 302 499 302zM490 275 487 275 484 280 483 303 484 304 484 308 486 311 488 308 488 304 489 303 489 295 493 289 493 280z" fill="#d8f000"/><path d="M494 305 494 308 499 311 506 311 511 308 511 305 506 302 499 302zM490 275 487 275 484 281 483 303 485 310 487 310 488 308 489 295 491 293 493 288 493 281z" fill="#fde400"/><path d="M494 305 494 308 499 311 506 311 511 308 511 305 506 302 499 302zM485 285 484 292 483 293 483 302 484 303 485 310 487 310 488 303 489 302 489 293 488 292 487 285z" fill="#ffa800"/><path d="M486 285 484 288 484 292 483 293 483 302 484 303 484 307 486 310 488 307 488 303 489 302 489 293 488 292 488 288z" fill="#ff6000"/><path d="M486 285 484 288 484 292 483 293 483 302 484 303 484 307 486 310 488 307 488 303 489 302 489 293 488 292 488 288z" fill="#f42800"/><path d="M860 296 855 299 854 303 857 308 861 309 866 306 867 302 864 297zM938 281 935 287 935 292 940 300 950 305 959 306 960 305 968 304 975 300 980 292 980 287 977 281 972 277 965 274 960 274 959 273 950 274 943 277zM1005 234 998 240 996 244 993 254 992 266 993 267 994 279 998 289 1003 294 1005 295 1010 295 1017 289 1019 285 1022 275 1023 263 1022 262 1021 250 1017 240 1012 235 1010 234zM852 185 855 192 858 195 869 201 879 204 884 204 885 205 908 206 909 205 918 205 919 204 929 203 949 196 957 191 964 184 966 181 967 174 964 167 961 164 950 158 944 156 935 155 934 154 919 153 918 152 900 152 899 153 893 153 892 154 888 154 884 156 881 156 864 164 860 167 855 173 853 178z" fill="#1c62f4"/><path d="M856 298 855 300 855 305 856 307 858 308 863 308 865 307 866 305 866 300 865 298 863 297 858 297zM936 286 936 293 938 297 944 302 952 305 963 305 964 304 967 304 974 300 979 293 979 286 977 282 971 277 963 274 952 274 951 275 948 275 941 279zM1005 235 999 240 995 248 994 256 993 257 993 272 994 273 995 281 999 289 1005 294 1010 294 1016 289 1020 281 1021 273 1022 272 1022 257 1021 256 1020 248 1016 240 1010 235zM854 187 860 195 869 200 875 202 883 203 884 204 890 204 891 205 911 205 912 204 919 204 920 203 925 203 942 198 954 192 958 189 963 183 965 179 965 172 959 164 950 159 944 157 936 156 935 155 929 155 928 154 922 154 921 153 897 153 896 154 891 154 877 158 864 165 857 172 855 176z" fill="#0898f8"/><path d="M858 297 855 300 855 305 858 308 863 308 866 305 866 300 863 297zM1008 250 1003 257 1002 273 1005 282 1008 285 1011 285 1016 278 1017 262 1014 253 1011 250zM855 186 857 190 863 196 877 202 887 203 888 204 916 204 917 203 922 203 923 202 927 202 935 199 938 199 951 193 962 183 964 178 964 173 962 169 956 163 942 157 932 156 931 155 925 155 918 153 900 153 899 154 893 154 892 155 888 155 884 157 881 157 865 165 860 169 856 175z" fill="#00d0f6"/><path d="M858 297 855 300 855 305 858 308 863 308 866 305 866 300 863 297zM942 167 939 162 935 159 925 155 921 155 920 154 898 154 897 155 892 155 873 161 865 166 859 172 857 176 857 182 860 187 864 190 874 194 878 194 879 195 901 195 902 194 907 194 926 188 934 183 940 177 942 173z" fill="#00e8c0"/><path d="M941 167 935 160 926 156 917 155 916 154 894 155 893 156 889 156 879 159 866 166 860 171 858 176 858 182 864 189 873 193 882 194 883 195 905 194 906 193 910 193 920 190 933 183 939 177 941 173z" fill="#20e860"/><path d="M902 165 900 163 895 163 876 170 873 170 870 168 865 168 859 173 859 176 858 177 859 182 865 187 870 187 876 182 877 179 891 174 900 172 902 170z" fill="#78f020"/><path d="M902 166 901 164 899 163 895 163 876 170 873 170 870 168 865 168 863 169 859 174 859 181 863 186 865 187 870 187 875 183 877 179 901 171z" fill="#d8f000"/><path d="M902 166 901 164 896 163 876 170 873 170 869 168 863 169 859 174 859 181 863 186 866 187 872 186 877 179 901 171z" fill="#fde400"/><path d="M866 168 860 172 859 174 859 181 862 185 866 187 869 187 875 183 876 181 876 174 873 170 869 168z" fill="#ffa800"/><path d="M867 168 861 171 859 175 859 180 862 185 868 187 874 184 876 180 876 175 873 170z" fill="#ff6000"/><path d="M864 169 861 171 859 175 859 180 862 185 864 186 871 186 874 184 876 180 876 175 873 170 871 169z" fill="#f42800"/><path d="M1283 279 1283 284 1285 288 1289 292 1296 295 1309 295 1316 292 1320 288 1322 284 1322 279 1320 275 1316 271 1309 268 1296 268 1289 271 1285 275zM1289 242 1286 243 1281 249 1281 260 1286 266 1290 267 1293 266 1298 260 1298 249 1293 243zM1363 162 1357 162 1351 167 1344 180 1343 186 1341 190 1340 202 1339 203 1339 216 1340 217 1340 222 1342 228 1346 233 1352 233 1358 228 1365 215 1366 209 1368 205 1369 193 1370 192 1370 179 1369 178 1369 173 1367 167z" fill="#1c62f4"/><path d="M1284 278 1284 285 1285 287 1290 292 1298 295 1311 294 1315 292 1321 285 1321 278 1320 276 1315 271 1307 268 1294 269 1290 271zM1287 243 1283 246 1281 250 1281 259 1285 265 1287 266 1292 266 1296 263 1298 259 1298 250 1294 244 1292 243zM1362 163 1357 163 1351 168 1345 179 1341 192 1341 197 1340 198 1340 220 1343 228 1345 231 1347 232 1352 232 1358 227 1364 216 1368 203 1368 198 1369 197 1369 175 1366 167 1364 164z" fill="#0898f8"/><path d="M1284 279 1284 284 1286 288 1289 291 1295 294 1299 294 1300 295 1310 294 1316 291 1321 284 1321 279 1319 275 1316 272 1310 269 1306 269 1305 268 1295 269 1289 272zM1287 243 1284 245 1282 248 1281 258 1284 264 1287 266 1292 266 1295 264 1297 261 1298 251 1295 245 1292 243zM1360 163 1356 164 1350 170 1345 180 1342 189 1341 199 1340 200 1340 217 1341 218 1341 222 1344 229 1349 232 1353 231 1359 225 1364 215 1367 206 1368 196 1369 195 1369 178 1368 177 1368 173 1365 166z" fill="#00d0f6"/><path d="M1285 278 1285 285 1286 287 1290 291 1297 294 1308 294 1315 291 1320 285 1320 278 1319 276 1315 272 1308 269 1297 269 1290 272zM1360 173 1356 173 1352 176 1349 181 1346 190 1345 207 1346 208 1346 211 1349 216 1353 216 1357 213 1360 208 1363 199 1364 182 1363 181 1363 178z" fill="#00e8c0"/><path d="M1285 279 1285 284 1287 288 1292 292 1298 294 1307 294 1313 292 1318 288 1320 284 1320 279 1318 275 1313 271 1307 269 1298 269 1292 271 1287 275zM1359 173 1356 173 1351 178 1346 191 1345 205 1346 206 1347 213 1350 216 1353 216 1358 211 1363 198 1364 184 1363 183 1362 176z" fill="#20e860"/><path d="M1353 183 1351 187 1351 196 1353 200 1356 200 1358 196 1358 187 1356 183z" fill="#78f020"/><path d="M1353 183 1351 187 1351 196 1353 200 1356 200 1358 196 1358 187 1356 183z" fill="#d8f000"/><path d="M1354 183 1351 187 1351 196 1352 198 1355 200 1358 196 1358 187 1357 185z" fill="#fde400"/><path d="M1354 183 1351 188 1351 195 1352 198 1355 200 1358 195 1358 188 1357 185z" fill="#ffa800"/><path d="M1892 283 1884 286 1882 288 1882 293 1884 295 1892 298 1889 302 1888 309 1887 310 1888 320 1890 325 1894 329 1899 329 1903 325 1906 315 1905 305 1903 300 1901 298 1909 293 1909 288 1903 284zM1900 215 1897 218 1894 224 1892 239 1893 240 1894 251 1897 257 1900 260 1905 260 1908 257 1911 251 1913 236 1912 235 1911 224 1908 218 1905 215z" fill="#1c62f4"/><path d="M1894 283 1893 284 1886 285 1882 289 1882 292 1886 296 1892 298 1888 306 1888 319 1892 327 1897 329 1901 327 1905 319 1905 306 1901 298 1903 296 1905 296 1909 292 1909 289 1905 285zM1900 216 1897 219 1894 225 1894 229 1893 230 1893 245 1894 246 1894 250 1897 256 1900 259 1905 259 1908 256 1911 250 1911 246 1912 245 1912 230 1911 229 1911 225 1908 219 1905 216z" fill="#0898f8"/><path d="M1889 284 1882 289 1882 292 1885 295 1893 298 1890 301 1888 307 1888 318 1890 324 1894 328 1899 328 1903 324 1905 318 1905 307 1903 301 1900 298 1906 295 1909 292 1909 289 1902 284zM1901 216 1898 218 1894 226 1894 230 1893 231 1893 244 1894 245 1895 252 1898 257 1901 259 1904 259 1907 257 1911 249 1911 245 1912 244 1912 231 1911 230 1910 223 1907 218 1904 216z" fill="#00d0f6"/><path d="M1883 288 1883 293 1890 297 1901 297 1908 293 1908 288 1901 284 1890 284zM1900 230 1898 232 1896 237 1896 246 1898 251 1900 253 1905 253 1907 251 1909 246 1909 237 1907 232 1905 230z" fill="#00e8c0"/><path d="M1883 289 1883 292 1886 295 1891 297 1900 297 1905 295 1908 292 1908 289 1905 286 1900 284 1891 284 1886 286zM1901 230 1897 234 1896 237 1896 246 1897 249 1901 253 1904 253 1908 249 1909 246 1909 237 1908 234 1904 230z" fill="#20e860"/><path d="M1886 288 1886 291 1890 293 1899 293 1903 291 1903 288 1899 286 1890 286zM1901 240 1900 242 1901 245 1904 245 1905 243 1904 240z" fill="#78f020"/><path d="M1886 288 1886 291 1890 293 1899 293 1903 291 1903 288 1899 286 1890 286zM1902 240 1900 243 1903 245 1905 242z" fill="#d8f000"/><path d="M1886 288 1886 291 1890 293 1899 293 1903 291 1903 288 1899 286 1890 286zM1902 240 1901 241 1901 244 1903 245 1904 244 1904 241z" fill="#fde400"/><path d="M1886 289 1886 290 1890 293 1899 293 1903 290 1903 289 1899 286 1890 286z" fill="#ffa800"/><path d="M357 641 355 640 349 645 346 643 343 643 338 646 295 678 145 785 139 790 135 795 135 799 159 799 233 745 255 730 262 724 284 709 291 703 313 688 320 682 342 667 349 661 353 659 358 652 358 643z" fill="#1c62f4"/><path d="M298 684 296 683 294 685 291 683 288 683 280 688 241 717 145 785 143 789 135 795 135 799 151 798 178 778 296 694 298 691z" fill="#0898f8"/><path d="M297 683 294 685 291 683 288 683 283 686 276 692 144 786 143 789 135 795 135 799 142 799 144 797 145 798 150 798 179 778 186 772 293 696 298 690 298 685z" fill="#00d0f6"/><path d="M198 752 197 753 196 752 193 752 156 780 152 782 135 795 135 799 141 799 184 767 188 765 198 757 199 755z" fill="#00e8c0"/><path d="M198 752 197 753 196 752 193 752 148 786 144 788 135 795 135 799 141 799 192 761 196 759 199 755z" fill="#20e860"/><path d="M145 792 139 793 136 796 136 799 142 798 145 795z" fill="#78f020"/><path d="M145 792 139 793 136 796 136 799 142 798 145 795z" fill="#d8f000"/><path d="M145 792 139 793 136 796 136 799 142 798 145 795z" fill="#fde400"/><path d="M488 669 486 675 486 679 485 680 485 701 486 702 487 710 484 712 483 714 483 785 484 787 486 788 489 787 490 785 490 772 491 771 495 775 502 778 513 778 520 775 524 771 540 771 541 770 554 770 555 769 567 769 568 768 580 768 581 767 596 766 602 764 644 742 650 735 650 729 640 701 636 693 633 690 627 687 581 676 580 675 577 675 576 674 573 674 572 673 569 673 568 672 564 672 563 671 543 670 542 669 523 669 514 659 507 656 501 656 495 659zM491 758 494 761 491 764 490 763 490 759z" fill="#1c62f4"/><path d="M489 669 486 679 486 686 485 687 486 703 488 710 484 712 483 714 483 785 484 787 486 788 489 787 490 785 490 771 491 770 492 772 497 776 504 778 511 778 518 776 521 774 525 768 543 768 544 767 556 767 557 766 570 766 571 765 592 764 602 761 631 746 633 744 643 739 647 734 647 729 637 701 634 695 627 690 581 679 580 678 577 678 576 677 573 677 572 676 569 676 568 675 565 675 564 674 548 673 547 672 525 672 514 660 507 657 502 657 497 659 492 664zM491 720 492 721 492 749 493 750 493 754 496 759 491 765 490 764 490 721z" fill="#0898f8"/><path d="M483 785 484 787 486 788 489 787 490 785 490 771 491 770 493 773 500 777 510 778 511 777 515 777 522 773 524 770 524 766 525 765 550 764 551 763 563 763 564 762 576 762 577 761 594 760 600 758 641 736 643 733 643 728 632 699 630 696 622 692 619 692 618 691 615 691 614 690 611 690 610 689 607 689 606 688 603 688 602 687 599 687 598 686 595 686 566 678 555 677 554 676 526 675 522 669 514 661 508 658 501 658 497 660 490 668 486 682 486 700 487 701 488 710 484 712 483 714zM491 719 496 728 496 750 497 751 497 754 500 757 499 759 493 762 491 765 490 764 490 720zM487 711 488 710 489 711 488 712z" fill="#00d0f6"/><path d="M492 765 492 770 495 774 502 777 513 777 520 774 523 770 523 765 520 761 513 758 502 758 495 761zM492 667 489 673 488 680 487 681 487 702 488 703 489 711 484 713 484 786 485 787 488 787 489 786 489 715 490 714 496 727 499 731 507 738 516 740 525 735 528 741 537 749 543 752 553 755 557 755 558 756 574 756 575 755 580 755 590 752 603 745 611 737 615 728 615 718 611 710 602 702 596 699 586 696 582 696 581 695 565 695 564 696 555 697 544 701 533 709 532 708 532 697 531 696 530 688 528 682 520 668 512 661 506 659 503 659 495 663zM488 712 489 711 490 712 489 713z" fill="#00e8c0"/><path d="M492 765 492 770 497 775 503 777 516 776 523 770 523 765 518 760 512 758 499 759zM492 668 489 675 488 683 487 684 487 698 488 699 488 705 490 712 489 713 488 712 485 712 484 713 484 786 485 787 488 787 489 786 489 713 490 712 495 724 499 730 505 736 512 739 517 739 524 735 525 733 528 739 533 745 537 748 551 754 555 754 556 755 576 755 577 754 585 753 599 747 610 737 614 728 614 718 609 709 602 703 594 699 588 697 584 697 583 696 563 696 562 697 558 697 548 700 540 704 533 710 532 709 532 701 531 700 530 690 527 681 520 669 514 663 507 660 502 660 495 664z" fill="#20e860"/><path d="M496 767 497 770 502 773 511 773 515 771 517 768 516 765 511 762 502 762 498 764zM485 712 484 713 484 786 485 787 488 787 489 786 489 713 488 712zM510 672 507 673 503 679 503 682 502 683 502 700 507 713 510 716 513 717 516 716 520 710 520 707 521 706 521 689 516 676 513 673z" fill="#78f020"/><path d="M497 765 497 770 502 773 511 773 516 770 516 765 511 762 502 762zM485 712 484 713 484 786 485 787 488 787 489 786 489 713 488 712zM508 673 505 676 502 684 502 699 506 711 511 716 515 716 518 713 521 705 521 690 517 678 512 673z" fill="#d8f000"/><path d="M497 766 497 769 502 773 511 773 516 769 516 766 511 762 502 762zM485 712 484 713 484 786 485 787 488 787 489 786 489 713 488 712zM509 673 505 676 503 680 503 683 502 684 502 699 505 709 510 715 514 716 518 713 520 709 520 706 521 705 521 690 518 680 513 674z" fill="#fde400"/><path d="M497 766 497 769 500 772 503 773 510 773 513 772 516 769 516 766 513 763 510 762 503 762 500 763zM485 712 484 713 484 786 485 787 488 787 489 786 489 713 488 712z" fill="#ffa800"/><path d="M497 766 497 769 500 772 503 773 510 773 513 772 516 769 516 766 513 763 510 762 503 762 500 763zM485 728 484 730 484 781 485 783 488 783 489 781 489 730 488 728z" fill="#ff6000"/><path d="M485 728 484 730 484 781 485 783 488 783 489 781 489 730 488 728z" fill="#f42800"/><path d="M842 749 840 751 840 772 843 774 845 772 845 751zM852 682 847 684 841 691 840 700 841 701 841 704 847 711 852 713 857 713 862 711 868 704 869 695 868 694 868 691 862 684 857 682zM994 680 990 676 983 673 966 670 965 669 950 668 937 672 911 685 906 690 900 699 893 701 876 710 862 723 858 729 854 737 852 744 852 766 855 775 858 777 871 778 883 782 900 782 901 781 910 780 914 778 923 778 924 777 933 776 952 769 955 767 957 767 960 765 962 765 972 760 981 751 997 727 1000 720 1000 717 1001 716 1000 703 999 702 998 693z" fill="#1c62f4"/><path d="M842 749 840 751 840 772 843 774 845 772 845 751zM850 683 845 686 842 690 841 693 841 702 844 708 850 712 859 712 864 709 867 705 868 702 868 693 865 687 859 683zM990 681 988 679 981 676 963 673 962 672 948 672 947 673 944 673 919 684 913 688 903 700 900 700 891 703 875 712 869 717 862 725 858 731 854 741 853 753 856 762 856 768 858 772 862 774 866 774 879 780 883 780 884 781 900 781 901 780 913 778 921 774 927 774 940 770 970 757 979 748 993 727 997 718 997 706 996 705 993 687z" fill="#0898f8"/><path d="M842 749 840 751 840 772 843 774 845 772 845 751zM851 683 847 685 843 689 841 694 841 701 843 706 847 710 851 712 858 712 862 710 866 706 868 701 868 694 866 689 862 685 858 683zM987 686 983 682 977 680 973 680 972 679 963 678 962 677 948 677 922 688 917 691 910 699 893 703 881 709 875 713 863 725 857 735 855 741 855 745 854 746 854 754 858 765 862 770 867 774 875 778 882 779 883 780 901 780 921 774 932 767 937 766 967 753 971 750 978 741 989 724 992 717 992 706 991 705 991 700z" fill="#00d0f6"/><path d="M842 749 840 751 840 772 843 774 845 772 845 751zM948 713 939 705 924 700 904 701 891 705 883 709 872 717 867 722 859 734 856 743 856 755 859 763 861 766 870 774 885 779 905 778 918 774 926 770 937 762 942 757 950 745 953 736 953 724 952 723 952 720zM852 685 845 690 843 695 843 700 845 705 848 708 852 710 857 710 864 705 866 700 866 695 864 690 861 687 857 685z" fill="#00e8c0"/><path d="M842 749 840 751 840 772 843 774 845 772 845 751zM946 712 937 705 924 701 908 701 907 702 903 702 893 705 883 710 877 714 865 726 859 737 857 743 857 755 859 761 863 767 872 774 885 778 901 778 902 777 906 777 916 774 926 769 932 765 944 753 950 742 952 736 952 724 950 718zM853 685 848 687 844 692 843 699 844 700 844 703 848 708 853 710 856 710 861 708 865 703 866 696 865 695 865 692 861 687 856 685z" fill="#20e860"/><path d="M842 749 840 751 840 772 843 774 845 772 845 751zM931 744 928 740 922 737 910 736 909 737 901 738 895 741 889 747 888 749 888 755 891 759 897 762 909 763 910 762 918 761 924 758 930 752 931 750zM853 687 850 688 847 691 845 695 845 700 850 707 856 708 859 707 862 704 864 700 864 695 859 688z" fill="#78f020"/><path d="M841 750 840 752 840 771 841 773 844 773 845 771 845 752 844 750zM888 750 889 756 895 761 898 762 913 762 925 757 929 753 931 749 931 745 926 739 921 737 906 737 894 742 890 746zM853 687 847 691 845 696 845 699 847 704 849 706 853 708 856 708 862 704 864 699 864 696 862 691 860 689 856 687z" fill="#d8f000"/><path d="M888 750 889 756 896 761 899 762 913 762 926 756 931 749 931 745 927 740 920 737 906 737 893 743zM854 687 849 689 847 691 845 698 847 704 849 706 855 708 860 706 862 704 864 697 862 691 860 689z" fill="#fde400"/><path d="M901 752 905 755 913 755 920 750 920 747 916 744 908 744 901 749zM852 689 850 690 847 694 847 701 850 705 852 706 857 706 859 705 862 701 862 694 859 690 857 689z" fill="#ffa800"/><path d="M852 689 849 691 847 695 847 700 850 705 852 706 857 706 860 704 862 700 862 695 859 690 857 689z" fill="#ff6000"/><path d="M1216 782 1212 778 1205 776 1194 778 1188 781 1184 785 1183 787 1183 793 1184 794 1183 796 1187 799 1200 799 1211 794 1215 790 1216 788zM1332 736 1329 733 1324 731 1292 731 1291 732 1282 733 1278 735 1275 735 1268 738 1265 738 1250 743 1245 746 1241 750 1233 765 1227 771 1226 773 1226 780 1225 781 1226 786 1231 794 1235 797 1241 792 1249 788 1258 785 1263 785 1264 784 1271 783 1283 778 1286 778 1290 776 1293 776 1297 774 1310 771 1318 767 1324 762 1333 752 1335 747 1335 743z" fill="#1c62f4"/><path d="M1215 781 1209 777 1198 777 1197 778 1194 778 1190 780 1184 786 1183 788 1183 792 1184 793 1183 796 1188 799 1200 799 1209 795 1215 789 1216 787zM1331 742 1327 736 1322 734 1294 734 1293 735 1288 735 1287 736 1280 737 1276 739 1273 739 1266 742 1263 742 1254 745 1248 748 1243 753 1239 761 1228 771 1227 773 1227 778 1229 780 1229 784 1230 786 1234 789 1238 789 1244 786 1252 786 1253 785 1266 784 1276 781 1292 772 1299 771 1311 767 1319 762 1329 752 1331 748z" fill="#0898f8"/><path d="M1214 780 1208 777 1198 777 1189 781 1185 785 1183 790 1184 791 1184 797 1188 799 1199 799 1205 797 1210 794 1214 790 1216 785zM1325 744 1324 742 1321 740 1292 740 1257 750 1251 753 1245 760 1243 760 1233 766 1228 772 1228 778 1230 781 1240 785 1259 785 1260 784 1264 784 1265 783 1275 781 1284 777 1290 773 1297 765 1306 763 1315 758 1323 750z" fill="#00d0f6"/><path d="M1214 781 1212 779 1206 777 1200 777 1193 779 1187 783 1184 788 1184 792 1185 793 1184 796 1189 799 1202 798 1212 792 1215 787zM1294 761 1290 757 1284 755 1280 755 1279 754 1268 754 1267 755 1256 756 1242 761 1234 766 1229 772 1229 778 1233 782 1239 784 1243 784 1244 785 1255 785 1256 784 1267 783 1281 778 1289 773 1294 767z" fill="#00e8c0"/><path d="M1214 782 1209 778 1204 778 1203 777 1202 778 1194 779 1190 781 1185 786 1184 789 1185 794 1184 796 1189 799 1202 798 1209 794 1214 789 1215 786zM1294 763 1290 758 1283 755 1263 755 1262 756 1254 757 1239 763 1231 770 1229 776 1233 781 1240 784 1260 784 1261 783 1269 782 1284 776 1292 769z" fill="#20e860"/><path d="M1184 795 1185 797 1190 799 1197 799 1204 797 1207 794 1206 792 1201 790 1194 790 1187 792zM1275 771 1272 769 1267 769 1266 768 1256 769 1247 772 1244 775 1244 778 1247 780 1252 780 1253 781 1263 780 1272 777 1275 774z" fill="#78f020"/><path d="M1185 797 1190 799 1197 799 1205 796 1206 795 1206 792 1201 790 1194 790 1186 793 1185 794zM1244 777 1248 780 1263 780 1273 776 1275 774 1275 772 1271 769 1256 769 1246 773 1244 775z" fill="#d8f000"/><path d="M1185 794 1185 796 1187 798 1190 798 1191 799 1201 798 1206 795 1206 793 1204 791 1201 791 1200 790 1190 791zM1244 777 1248 780 1262 780 1273 776 1275 774 1275 772 1271 769 1257 769 1246 773 1244 775z" fill="#fde400"/><path d="M1185 794 1185 796 1187 798 1190 798 1191 799 1201 798 1206 795 1206 793 1204 791 1201 791 1200 790 1190 791z" fill="#ffa800"/><path d="M1185 794 1185 796 1187 798 1191 798 1192 799 1201 798 1206 795 1206 793 1204 791 1200 791 1199 790 1190 791z" fill="#ff6000"/><path d="M1542 714 1539 715 1535 719 1534 722 1534 792 1535 795 1540 800 1551 800 1555 792 1555 722 1554 719 1550 715zM1675 669 1670 667 1653 664 1643 661 1639 661 1638 660 1634 660 1633 659 1629 659 1628 658 1614 658 1613 659 1609 659 1601 662 1587 665 1577 669 1573 673 1572 680 1571 681 1571 724 1572 725 1572 730 1574 734 1577 737 1586 742 1599 746 1612 745 1613 744 1628 741 1639 736 1664 715 1672 706 1676 696 1678 684 1679 683 1679 674zM1575 609 1575 618 1576 620 1581 625 1594 630 1605 630 1612 628 1618 625 1624 618 1624 609 1623 607 1618 602 1605 597 1594 597 1587 599 1581 602z" fill="#1c62f4"/><path d="M1543 714 1538 716 1536 718 1534 723 1534 791 1536 796 1539 798 1540 800 1551 800 1555 791 1555 723 1553 718 1551 716 1546 714zM1675 675 1672 672 1664 669 1660 669 1655 667 1646 666 1645 665 1632 663 1631 662 1625 662 1624 661 1612 662 1611 663 1596 666 1592 668 1589 668 1579 672 1577 674 1575 679 1575 727 1577 732 1582 736 1597 742 1610 742 1611 741 1626 738 1637 733 1660 714 1669 704 1675 686zM1576 609 1575 615 1577 620 1582 625 1591 629 1598 629 1600 630 1601 629 1611 628 1617 625 1622 620 1624 615 1624 612 1622 607 1617 602 1608 598 1601 598 1599 597 1598 598 1588 599 1582 602z" fill="#0898f8"/><path d="M1544 714 1543 715 1540 715 1535 720 1535 723 1534 724 1534 790 1535 791 1535 794 1541 800 1550 800 1552 798 1555 790 1555 724 1554 723 1554 720 1549 715zM1669 677 1663 674 1651 672 1646 670 1642 670 1641 669 1637 669 1632 666 1625 664 1610 664 1609 665 1606 665 1597 669 1592 673 1583 676 1580 680 1580 726 1581 728 1585 732 1597 737 1610 737 1628 732 1642 726 1651 718 1654 712 1656 711 1665 701 1670 686 1670 679zM1576 610 1576 617 1579 622 1583 625 1593 629 1606 629 1607 628 1610 628 1619 623 1623 617 1623 610 1620 605 1616 602 1606 598 1593 598 1592 599 1589 599 1580 604z" fill="#00d0f6"/><path d="M1541 715 1539 716 1535 721 1535 793 1541 800 1550 800 1552 798 1552 796 1554 793 1554 721 1553 719 1548 715zM1599 669 1588 679 1584 687 1584 691 1583 692 1583 699 1584 700 1585 707 1592 718 1601 725 1607 728 1614 729 1615 730 1629 730 1636 728 1643 724 1651 716 1655 708 1655 704 1656 703 1656 696 1655 695 1654 688 1647 677 1638 670 1632 667 1625 666 1624 665 1610 665zM1584 610 1584 615 1585 617 1592 621 1603 621 1609 618 1611 615 1611 610 1610 608 1603 604 1592 604 1586 607z" fill="#00e8c0"/><path d="M1542 715 1538 717 1535 722 1535 792 1537 796 1539 797 1541 800 1550 800 1554 792 1554 722 1551 717 1547 715zM1597 671 1587 682 1584 691 1585 704 1589 713 1593 718 1599 723 1607 727 1613 729 1620 729 1621 730 1623 729 1630 729 1642 724 1652 713 1655 704 1654 691 1650 682 1646 677 1640 672 1632 668 1626 666 1619 666 1618 665 1616 666 1609 666zM1584 610 1584 615 1588 619 1593 621 1602 621 1607 619 1611 615 1611 610 1607 606 1602 604 1593 604 1588 606z" fill="#20e860"/><path d="M1543 723 1541 724 1539 727 1539 797 1541 800 1550 800 1552 797 1552 727 1551 725 1548 723zM1617 679 1609 682 1604 687 1602 691 1602 701 1606 708 1614 713 1622 714 1630 711 1635 706 1637 702 1637 692 1633 685 1625 680z" fill="#78f020"/><path d="M1543 723 1539 727 1539 797 1542 800 1549 800 1552 797 1552 727 1548 723zM1608 683 1603 689 1602 692 1602 700 1603 703 1609 710 1615 713 1625 713 1631 710 1636 704 1637 701 1637 693 1636 690 1630 683 1624 680 1614 680z" fill="#d8f000"/><path d="M1544 740 1542 741 1541 743 1541 793 1542 795 1547 796 1549 795 1550 793 1550 743 1549 741zM1614 680 1608 683 1605 686 1602 693 1602 699 1605 706 1609 710 1616 713 1625 713 1631 710 1634 707 1637 700 1637 694 1634 687 1630 683 1623 680z" fill="#fde400"/><path d="M1544 740 1542 741 1541 743 1541 793 1542 795 1547 796 1549 795 1550 793 1550 743 1549 741zM1618 687 1613 691 1612 693 1612 698 1616 703 1618 704 1623 704 1628 700 1629 698 1629 693 1625 688 1623 687z" fill="#ffa800"/><path d="M158 1125 158 1132 162 1136 174 1140 185 1140 192 1138 196 1136 201 1130 201 1125 196 1119 185 1115 174 1115 167 1117 163 1119z" fill="#1c62f4"/><path d="M159 1128 159 1133 161 1135 167 1138 172 1138 173 1139 184 1138 192 1133 192 1128 190 1126 184 1123 179 1123 178 1122 167 1123z" fill="#0898f8"/><path d="M159 1129 160 1134 168 1138 174 1138 175 1139 186 1137 191 1134 192 1132 191 1127 183 1123 177 1123 176 1122 165 1124 160 1127z" fill="#00d0f6"/><path d="M160 1128 160 1133 162 1135 169 1138 182 1138 189 1135 191 1133 191 1128 189 1126 182 1123 169 1123 162 1126z" fill="#00e8c0"/><path d="M160 1129 161 1134 166 1137 169 1137 170 1138 181 1138 182 1137 185 1137 190 1134 191 1132 190 1127 185 1124 182 1124 181 1123 170 1123 169 1124 166 1124 161 1127z" fill="#20e860"/><path d="M166 1129 166 1132 171 1135 180 1135 185 1132 185 1129 180 1126 171 1126z" fill="#78f020"/><path d="M166 1129 166 1132 171 1135 180 1135 185 1132 185 1129 180 1126 171 1126z" fill="#d8f000"/><path d="M166 1129 166 1132 171 1135 180 1135 185 1132 185 1129 180 1126 171 1126z" fill="#fde400"/><path d="M166 1129 166 1132 172 1135 179 1135 185 1132 185 1129 179 1126 172 1126z" fill="#ffa800"/><path d="M536 1127 533 1129 531 1134 531 1145 533 1150 537 1152 540 1150 542 1145 542 1134 540 1129zM641 977 632 978 625 982 615 993 608 1009 608 1013 607 1014 607 1028 608 1029 608 1032 613 1041 622 1046 631 1045 638 1041 648 1030 655 1014 655 1010 656 1009 656 995 655 994 655 991 650 982z" fill="#1c62f4"/><path d="M535 1128 533 1130 531 1135 531 1144 533 1149 535 1151 538 1151 540 1149 542 1144 542 1135 540 1130 538 1128zM644 979 636 978 635 979 632 979 625 983 615 994 611 1002 608 1012 608 1029 612 1038 619 1044 627 1045 628 1044 631 1044 638 1040 648 1029 652 1021 655 1011 655 994 651 985z" fill="#0898f8"/><path d="M535 1128 533 1130 531 1135 531 1144 533 1149 535 1151 538 1151 540 1149 542 1144 542 1135 540 1130 538 1128zM642 979 634 979 626 983 617 992 610 1006 609 1014 608 1015 608 1026 609 1027 609 1030 612 1037 617 1042 621 1044 629 1044 637 1040 646 1031 653 1017 654 1009 655 1008 655 997 654 996 654 993 651 986 646 981z" fill="#00d0f6"/><path d="M641 982 637 982 629 986 624 991 618 1002 618 1005 616 1010 616 1020 617 1021 617 1024 619 1028 623 1032 626 1033 630 1033 638 1029 643 1024 649 1013 649 1010 651 1005 651 995 650 994 650 991 648 987 644 983z" fill="#00e8c0"/><path d="M642 983 635 983 631 985 623 993 619 1001 617 1007 617 1012 616 1013 617 1023 619 1027 625 1032 632 1032 636 1030 644 1022 648 1014 650 1008 650 1003 651 1002 650 992 648 988z" fill="#20e860"/><path d="M640 987 637 987 633 989 630 992 625 1002 625 1013 629 1018 632 1018 636 1016 639 1013 644 1003 644 992z" fill="#78f020"/><path d="M638 987 631 991 628 995 625 1003 625 1013 628 1017 631 1018 638 1014 641 1010 644 1002 644 992 641 988z" fill="#d8f000"/><path d="M641 988 635 988 632 990 626 1000 625 1003 625 1012 628 1017 634 1017 637 1015 643 1005 644 1002 644 993z" fill="#fde400"/><path d="M638 991 633 994 630 1001 631 1007 633 1008 638 1005 641 998 640 992z" fill="#ffa800"/><path d="M638 991 633 994 630 1001 630 1004 633 1008 638 1005 641 998 641 995z" fill="#ff6000"/><path d="M861 1105 862 1113 870 1122 882 1128 892 1130 893 1131 898 1131 899 1132 924 1132 925 1131 930 1131 931 1130 941 1128 953 1122 959 1116 962 1110 961 1102 953 1093 941 1087 931 1085 930 1084 925 1084 924 1083 899 1083 898 1084 893 1084 892 1085 882 1087 870 1093 864 1099zM867 1046 867 1053 869 1057 874 1062 885 1066 894 1066 901 1064 905 1062 910 1057 912 1053 912 1046 910 1042 905 1037 894 1033 885 1033 878 1035 874 1037 869 1042z" fill="#1c62f4"/><path d="M863 1104 864 1114 869 1120 875 1124 888 1129 896 1130 897 1131 905 1131 906 1132 926 1131 944 1126 954 1120 957 1117 960 1111 959 1101 954 1095 948 1091 935 1086 927 1085 926 1084 918 1084 917 1083 897 1084 879 1089 869 1095 866 1098zM869 1043 867 1048 867 1051 869 1056 875 1062 882 1065 897 1065 904 1062 910 1056 912 1051 912 1048 910 1043 904 1037 897 1034 882 1034 875 1037z" fill="#0898f8"/><path d="M864 1104 865 1114 868 1118 873 1122 886 1128 889 1128 894 1130 900 1130 901 1131 922 1131 923 1130 929 1130 930 1129 940 1127 950 1122 955 1118 959 1111 958 1101 955 1097 950 1093 937 1087 934 1087 929 1085 923 1085 922 1084 901 1084 900 1085 894 1085 893 1086 883 1088 873 1093 868 1097zM868 1046 868 1053 870 1057 874 1061 884 1065 895 1065 896 1064 899 1064 905 1061 909 1057 911 1053 911 1046 909 1042 905 1038 895 1034 884 1034 883 1035 880 1035 874 1038 870 1042z" fill="#00d0f6"/><path d="M874 1105 874 1110 877 1115 887 1121 893 1123 897 1123 898 1124 921 1124 922 1123 926 1123 938 1118 942 1115 945 1110 945 1105 942 1100 932 1094 926 1092 922 1092 921 1091 898 1091 897 1092 893 1092 881 1097 877 1100zM878 1048 879 1053 881 1055 886 1057 896 1056 898 1055 901 1051 900 1046 898 1044 893 1042 883 1043 881 1044z" fill="#00e8c0"/><path d="M875 1104 875 1111 879 1116 888 1121 895 1123 900 1123 901 1124 918 1124 919 1123 928 1122 940 1116 944 1111 944 1104 940 1099 931 1094 924 1092 919 1092 918 1091 901 1091 900 1092 891 1093 879 1099z" fill="#20e860"/><path d="M891 1106 891 1109 894 1113 897 1115 907 1118 924 1118 925 1117 928 1117 934 1115 937 1113 940 1109 940 1106 937 1102 934 1100 924 1097 907 1097 906 1098 903 1098 897 1100 894 1102z" fill="#78f020"/><path d="M892 1105 892 1110 896 1114 908 1118 923 1118 924 1117 928 1117 935 1114 939 1110 939 1105 935 1101 923 1097 908 1097 907 1098 903 1098 896 1101z" fill="#d8f000"/><path d="M892 1106 892 1109 895 1113 898 1115 904 1117 908 1117 909 1118 922 1118 923 1117 927 1117 933 1115 936 1113 939 1109 939 1106 936 1102 933 1100 927 1098 923 1098 922 1097 909 1097 908 1098 904 1098 898 1100 895 1102z" fill="#fde400"/><path d="M906 1106 906 1109 908 1111 913 1113 922 1113 927 1111 929 1109 929 1106 927 1104 922 1102 913 1102 908 1104z" fill="#ffa800"/><path d="M1237 1012 1233 1013 1229 1017 1225 1025 1222 1034 1220 1049 1219 1050 1219 1058 1218 1059 1218 1086 1219 1087 1220 1099 1223 1109 1228 1118 1231 1121 1234 1119 1242 1104 1245 1095 1247 1080 1248 1079 1248 1071 1249 1070 1249 1043 1248 1042 1247 1030 1242 1016z" fill="#1c62f4"/><path d="M1238 1014 1232 1015 1226 1024 1221 1041 1221 1045 1220 1046 1219 1066 1218 1067 1219 1090 1220 1091 1221 1101 1223 1107 1227 1113 1228 1117 1230 1119 1233 1119 1241 1105 1246 1088 1246 1084 1247 1083 1248 1063 1249 1062 1248 1039 1247 1038 1246 1028 1242 1018z" fill="#0898f8"/><path d="M1238 1015 1232 1016 1227 1023 1222 1038 1221 1048 1220 1049 1220 1056 1219 1057 1219 1087 1220 1088 1220 1094 1221 1095 1221 1099 1223 1106 1227 1112 1228 1116 1231 1119 1234 1117 1242 1101 1245 1091 1246 1081 1247 1080 1247 1073 1248 1072 1248 1042 1247 1041 1247 1035 1246 1034 1246 1030 1244 1023 1242 1019z" fill="#00d0f6"/><path d="M1237 1032 1235 1032 1231 1037 1228 1046 1227 1056 1226 1057 1226 1064 1225 1065 1225 1081 1224 1082 1225 1102 1226 1103 1226 1108 1230 1117 1232 1117 1236 1112 1239 1103 1240 1093 1241 1092 1241 1085 1242 1084 1242 1068 1243 1067 1242 1047 1241 1046 1241 1041z" fill="#00e8c0"/><path d="M1237 1033 1234 1033 1230 1040 1230 1043 1227 1052 1227 1057 1226 1058 1226 1066 1225 1067 1225 1100 1226 1101 1227 1110 1230 1116 1233 1116 1237 1109 1237 1106 1240 1097 1240 1092 1241 1091 1241 1083 1242 1082 1242 1049 1241 1048 1240 1039z" fill="#20e860"/><path d="M1236 1051 1233 1052 1232 1054 1231 1074 1230 1075 1229 1095 1228 1096 1228 1106 1227 1107 1228 1110 1230 1111 1233 1110 1234 1108 1235 1088 1236 1087 1237 1067 1238 1066 1238 1056 1239 1055 1238 1052z" fill="#78f020"/><path d="M1236 1051 1233 1052 1232 1054 1232 1064 1231 1065 1231 1074 1230 1075 1229 1096 1228 1097 1228 1106 1227 1107 1228 1110 1230 1111 1233 1110 1234 1108 1234 1098 1235 1097 1235 1088 1236 1087 1237 1066 1238 1065 1238 1056 1239 1055 1238 1052z" fill="#d8f000"/><path d="M1237 1052 1234 1052 1232 1055 1231 1075 1230 1076 1229 1096 1228 1097 1228 1109 1229 1110 1232 1110 1234 1107 1235 1087 1236 1086 1237 1066 1238 1065 1238 1053z" fill="#fde400"/><path d="M1558 1106 1553 1108 1549 1112 1547 1121 1549 1127 1553 1131 1558 1133 1561 1133 1566 1131 1570 1127 1572 1118 1570 1112 1566 1108 1561 1106zM1548 1022 1553 1028 1562 1032 1570 1033 1571 1034 1594 1034 1595 1033 1601 1033 1602 1032 1609 1031 1623 1025 1627 1022 1631 1016 1631 1011 1626 1005 1617 1001 1609 1000 1608 999 1585 999 1584 1000 1578 1000 1577 1001 1570 1002 1556 1008 1552 1011 1548 1017zM1662 990 1658 992 1653 999 1652 1002 1653 1011 1656 1017 1662 1023 1667 1025 1675 1025 1679 1023 1684 1016 1685 1013 1684 1004 1681 998 1675 992 1670 990z" fill="#1c62f4"/><path d="M1556 1107 1552 1109 1548 1115 1548 1124 1552 1130 1556 1132 1563 1132 1567 1130 1571 1124 1571 1115 1567 1109 1563 1107zM1630 1011 1626 1006 1615 1001 1604 1000 1603 999 1581 1000 1580 1001 1576 1001 1566 1004 1556 1009 1550 1015 1549 1017 1549 1022 1553 1027 1564 1032 1575 1033 1576 1034 1598 1033 1599 1032 1603 1032 1613 1029 1623 1024 1629 1018 1630 1016zM1664 990 1659 992 1655 996 1653 1000 1653 1010 1659 1020 1665 1024 1673 1025 1678 1023 1682 1019 1684 1015 1684 1005 1678 995 1672 991z" fill="#0898f8"/><path d="M1557 1107 1554 1108 1550 1112 1548 1116 1548 1123 1550 1127 1554 1131 1562 1132 1565 1131 1569 1127 1571 1123 1571 1116 1569 1112 1565 1108zM1550 1022 1554 1027 1566 1032 1570 1032 1571 1033 1595 1033 1596 1032 1601 1032 1602 1031 1609 1030 1619 1026 1626 1021 1629 1016 1629 1011 1625 1006 1613 1001 1609 1001 1608 1000 1584 1000 1583 1001 1578 1001 1577 1002 1570 1003 1560 1007 1553 1012 1550 1017zM1662 991 1658 993 1654 998 1653 1001 1654 1012 1657 1017 1662 1022 1666 1024 1675 1024 1679 1022 1683 1017 1684 1014 1683 1003 1680 998 1675 993 1671 991z" fill="#00d0f6"/><path d="M1557 1111 1553 1115 1553 1122 1557 1126 1562 1126 1566 1122 1566 1115 1562 1111zM1618 1012 1615 1008 1604 1004 1597 1004 1596 1003 1581 1004 1580 1005 1572 1006 1563 1010 1559 1013 1557 1019 1560 1023 1571 1027 1578 1027 1579 1028 1594 1027 1595 1026 1603 1025 1612 1021 1616 1018zM1664 994 1658 999 1657 1002 1658 1010 1660 1014 1665 1018 1673 1019 1679 1014 1680 1011 1679 1003 1677 999 1672 995z" fill="#00e8c0"/><path d="M1557 1111 1553 1116 1553 1121 1557 1126 1562 1126 1566 1121 1566 1116 1562 1111zM1558 1020 1561 1023 1572 1027 1593 1027 1594 1026 1598 1026 1605 1024 1613 1020 1617 1015 1617 1011 1614 1008 1603 1004 1582 1004 1581 1005 1577 1005 1570 1007 1562 1011 1558 1016zM1666 994 1661 996 1659 998 1657 1003 1657 1006 1659 1012 1664 1017 1671 1019 1676 1017 1678 1015 1680 1010 1680 1007 1678 1001 1673 996z" fill="#20e860"/><path d="M1574 1017 1580 1020 1596 1020 1597 1019 1601 1019 1607 1016 1609 1014 1609 1010 1603 1007 1587 1007 1586 1008 1582 1008 1576 1011 1574 1013zM1666 1000 1663 1002 1663 1009 1667 1013 1671 1013 1674 1011 1674 1004 1670 1000z" fill="#78f020"/><path d="M1574 1016 1576 1018 1581 1020 1596 1020 1607 1016 1609 1014 1609 1011 1607 1009 1602 1007 1587 1007 1576 1011 1574 1013zM1666 1000 1664 1001 1663 1003 1663 1009 1666 1012 1671 1013 1673 1012 1674 1010 1674 1004 1671 1001z" fill="#d8f000"/><path d="M1574 1016 1576 1018 1582 1020 1595 1020 1605 1017 1608 1015 1609 1011 1607 1009 1601 1007 1588 1007 1578 1010 1575 1012zM1666 1000 1663 1003 1663 1009 1666 1012 1671 1013 1674 1010 1674 1004 1671 1001z" fill="#fde400"/><path d="M1587 1012 1587 1014 1590 1016 1598 1016 1604 1013 1604 1011 1601 1009 1593 1009zM1666 1000 1663 1003 1663 1008 1666 1012 1671 1013 1674 1010 1674 1005 1671 1001z" fill="#ffa800"/><path d="M358 1486 356 1485 353 1488 349 1487 305 1519 298 1523 295 1526 288 1530 285 1533 278 1537 275 1540 268 1544 219 1579 217 1578 234 1564 234 1561 233 1562 232 1561 229 1562 173 1607 154 1621 150 1625 150 1627 148 1630 139 1637 140 1639 138 1640 135 1644 148 1644 175 1624 182 1620 227 1587 234 1583 279 1550 286 1546 356 1496 358 1493zM201 1590 202 1589 203 1590 202 1591zM204 1588 205 1587 206 1588 205 1589zM205 1587 206 1586 207 1587 206 1588zM208 1585 209 1584 210 1585 209 1586zM209 1584 210 1583 211 1584 210 1585zM210 1583 211 1582 213 1583 212 1584zM212 1582 213 1581 214 1582 213 1583zM217 1578 218 1579 214 1582 213 1581z" fill="#1c62f4"/><path d="M304 1522 301 1524 299 1523 291 1528 288 1531 281 1535 278 1538 271 1542 215 1582 213 1581 234 1564 234 1561 233 1562 232 1561 229 1562 215 1574 153 1622 150 1625 150 1627 146 1633 149 1635 154 1633 203 1598 210 1594 213 1591 220 1587 223 1584 230 1580 233 1577 240 1573 243 1570 250 1566 253 1563 260 1559 263 1556 270 1552 273 1549 280 1545 283 1542 290 1538 293 1535 300 1531 305 1525zM201 1590 202 1589 203 1590 202 1591zM204 1588 205 1587 206 1588 205 1589zM205 1587 206 1586 207 1587 206 1588zM206 1586 207 1585 209 1586 208 1587zM208 1585 209 1584 210 1585 209 1586zM209 1584 210 1583 211 1584 210 1585zM213 1581 214 1582 211 1584 210 1583z" fill="#0898f8"/><path d="M304 1522 301 1524 299 1523 291 1528 288 1531 281 1535 278 1538 271 1542 215 1582 213 1581 217 1577 234 1564 234 1561 233 1562 231 1561 153 1622 150 1625 150 1627 146 1633 149 1635 154 1633 210 1593 217 1589 220 1586 227 1582 230 1579 237 1575 240 1572 247 1568 250 1565 257 1561 260 1558 267 1554 270 1551 277 1547 280 1544 287 1540 290 1537 297 1533 304 1527 305 1525zM197 1593 198 1592 199 1593 198 1594zM201 1590 202 1589 203 1590 202 1591zM204 1588 205 1587 206 1588 205 1589zM205 1587 206 1586 207 1587 206 1588zM206 1586 207 1585 209 1586 208 1587zM208 1585 209 1584 210 1585 209 1586zM209 1584 210 1583 211 1584 210 1585zM213 1581 214 1582 211 1584 210 1583z" fill="#00d0f6"/><path d="M234 1561 233 1562 231 1561 158 1619 153 1622 150 1625 150 1628 153 1628 213 1580 234 1564z" fill="#00e8c0"/><path d="M234 1561 233 1562 231 1561 186 1597 152 1623 150 1625 150 1628 153 1628 171 1613 234 1564z" fill="#20e860"/><path d="M504 1578 503 1580 503 1593 502 1594 501 1601 502 1602 502 1605 504 1607 504 1611 506 1614 509 1615 544 1615 548 1613 553 1608 558 1600 559 1591 558 1590 557 1579 555 1574 552 1572 549 1572 548 1571 538 1571 537 1570 519 1570 511 1574 509 1574zM542 1556 542 1558 546 1564 551 1567 558 1569 571 1569 576 1567 579 1563 579 1561 575 1555 570 1552 563 1550 550 1550 545 1552zM663 1529 662 1527 658 1524 643 1524 642 1525 629 1525 628 1526 587 1528 586 1529 581 1529 577 1532 576 1534 576 1541 577 1543 581 1546 596 1546 597 1545 610 1545 611 1544 652 1542 653 1541 658 1541 662 1538 663 1536zM504 1524 500 1529 498 1535 498 1539 497 1540 497 1555 498 1556 498 1560 500 1566 504 1571 509 1571 513 1566 515 1560 515 1556 516 1555 516 1540 515 1539 515 1535 513 1529 509 1524z" fill="#1c62f4"/><path d="M505 1582 505 1591 502 1595 502 1604 508 1612 511 1613 541 1613 542 1612 545 1612 551 1607 556 1599 556 1586 555 1585 555 1581 554 1580 554 1577 550 1574 546 1574 545 1573 533 1573 532 1572 521 1572 509 1577zM543 1555 543 1560 548 1565 555 1568 558 1568 559 1569 570 1569 575 1567 578 1564 578 1559 573 1554 566 1551 563 1551 562 1550 551 1550 546 1552zM663 1530 662 1528 657 1524 582 1529 577 1533 576 1535 576 1540 577 1542 582 1546 657 1541 662 1537 663 1535zM505 1524 501 1528 498 1536 497 1552 498 1553 498 1559 501 1567 505 1571 508 1571 512 1567 515 1559 516 1543 515 1542 515 1536 512 1528 508 1524z" fill="#0898f8"/><path d="M502 1595 502 1604 505 1608 513 1608 514 1609 540 1609 545 1607 552 1601 555 1595 555 1588 552 1582 548 1578 542 1576 535 1576 534 1577 532 1576 522 1576 512 1580 509 1584 509 1590 508 1591 505 1591zM543 1556 544 1561 550 1566 552 1566 555 1568 569 1569 576 1566 578 1563 577 1558 571 1553 569 1553 566 1551 552 1550 545 1553zM650 1532 649 1530 646 1528 626 1529 625 1530 613 1530 612 1531 601 1531 600 1532 593 1532 591 1533 589 1536 589 1539 590 1541 593 1543 613 1542 614 1541 626 1541 627 1540 638 1540 639 1539 646 1539 648 1538 650 1535zM504 1525 499 1533 497 1550 498 1551 499 1562 502 1568 504 1570 509 1570 514 1562 516 1545 515 1544 514 1533 511 1527 509 1525z" fill="#00d0f6"/><path d="M506 1591 504 1592 502 1596 502 1603 504 1607 509 1608 511 1607 513 1603 513 1596 511 1592zM533 1577 529 1579 525 1583 523 1587 523 1596 525 1600 529 1604 533 1606 544 1606 548 1604 552 1600 554 1596 554 1587 552 1583 548 1579 544 1577zM544 1555 544 1560 549 1565 557 1568 566 1569 567 1568 574 1567 577 1564 577 1559 572 1554 564 1551 555 1550 554 1551 547 1552zM506 1525 502 1528 499 1535 499 1538 498 1539 498 1556 502 1567 507 1570 511 1567 514 1560 514 1557 515 1556 515 1539 511 1528z" fill="#00e8c0"/><path d="M506 1591 502 1596 502 1603 506 1608 509 1608 513 1603 513 1596 509 1591zM534 1577 527 1581 524 1585 523 1595 526 1601 534 1606 543 1606 550 1602 553 1598 554 1588 551 1582 543 1577zM544 1556 544 1559 548 1564 557 1568 571 1568 575 1566 577 1563 577 1560 573 1555 564 1551 550 1551 546 1553zM505 1526 501 1530 498 1540 498 1555 501 1565 505 1569 508 1569 512 1565 515 1555 515 1540 512 1530 508 1526z" fill="#20e860"/><path d="M535 1582 529 1586 528 1588 528 1595 531 1599 535 1601 542 1601 548 1597 549 1595 549 1588 546 1584 542 1582zM553 1557 553 1560 557 1563 564 1564 568 1562 568 1559 564 1556 557 1555zM506 1534 503 1539 502 1550 503 1551 504 1559 506 1561 508 1561 511 1556 512 1545 511 1544 510 1536 508 1534z" fill="#78f020"/><path d="M535 1582 530 1585 528 1589 528 1594 530 1598 535 1601 542 1601 547 1598 549 1594 549 1589 547 1585 542 1582zM553 1557 553 1560 557 1563 564 1564 568 1562 568 1559 564 1556 557 1555zM506 1534 503 1539 502 1549 503 1550 503 1556 505 1560 508 1561 511 1556 512 1546 511 1545 511 1539 509 1535z" fill="#d8f000"/><path d="M535 1582 529 1587 528 1589 528 1594 533 1600 535 1601 542 1601 548 1596 549 1594 549 1589 544 1583 542 1582zM553 1558 553 1560 555 1562 561 1564 564 1564 568 1561 568 1559 566 1557 560 1555 557 1555zM506 1534 503 1540 503 1555 505 1560 508 1561 511 1555 511 1540 509 1535z" fill="#fde400"/><path d="M536 1586 533 1589 532 1592 536 1597 541 1597 544 1594 545 1591 541 1586zM506 1539 504 1548 505 1549 505 1554 506 1556 508 1556 510 1547 509 1546 509 1541 508 1539z" fill="#ffa800"/><path d="M536 1586 533 1589 532 1592 536 1597 541 1597 544 1594 545 1591 541 1586z" fill="#ff6000"/><path d="M859 1630 864 1636 868 1638 876 1639 877 1640 882 1640 883 1639 888 1639 901 1634 903 1635 915 1634 919 1632 919 1631 923 1628 926 1628 938 1624 939 1619 938 1617 933 1616 932 1617 929 1617 921 1620 900 1625 895 1619 891 1617 883 1616 882 1615 877 1615 876 1616 871 1616 864 1619 859 1625zM982 1580 980 1579 974 1579 973 1578 972 1579 963 1579 962 1580 955 1581 946 1585 939 1580 929 1579 922 1582 918 1586 916 1591 916 1598 918 1603 922 1607 929 1610 936 1610 943 1607 947 1603 948 1599 951 1595 956 1595 962 1592 964 1592 979 1584z" fill="#1c62f4"/><path d="M860 1631 865 1636 869 1638 872 1638 873 1639 886 1639 901 1634 909 1635 910 1634 917 1633 920 1629 929 1627 933 1625 936 1625 939 1622 939 1619 936 1616 933 1616 918 1621 900 1625 894 1619 890 1617 887 1617 886 1616 873 1616 865 1619 860 1624zM931 1579 923 1582 918 1587 916 1596 918 1602 923 1607 927 1609 934 1610 942 1607 947 1602 949 1593 947 1587 942 1582 938 1580z" fill="#0898f8"/><path d="M860 1630 864 1635 870 1638 873 1638 874 1639 885 1639 901 1634 904 1634 905 1635 914 1634 918 1632 919 1630 922 1628 936 1625 939 1622 939 1619 936 1616 933 1616 911 1623 899 1625 895 1620 889 1617 886 1617 885 1616 874 1616 864 1620 860 1625zM925 1581 919 1586 917 1590 917 1599 919 1603 922 1606 928 1609 937 1609 940 1608 946 1603 948 1599 948 1590 946 1586 943 1583 937 1580 928 1580z" fill="#00d0f6"/><path d="M939 1620 937 1617 934 1616 926 1619 912 1622 908 1624 900 1625 886 1630 885 1629 885 1625 882 1621 878 1619 871 1619 865 1623 864 1625 864 1630 867 1634 871 1636 878 1636 881 1634 883 1634 885 1637 888 1638 900 1634 913 1634 916 1633 922 1628 937 1624zM927 1589 926 1594 928 1597 930 1598 935 1598 938 1596 939 1591 937 1588 935 1587 930 1587z" fill="#00e8c0"/><path d="M939 1620 937 1617 934 1616 912 1623 900 1625 894 1628 887 1629 884 1631 883 1634 884 1636 887 1638 900 1634 913 1634 917 1632 921 1628 924 1628 928 1626 937 1624z" fill="#20e860"/><path d="M895 1628 895 1631 901 1634 912 1634 918 1631 918 1628 912 1625 901 1625z" fill="#78f020"/><path d="M895 1628 895 1631 901 1634 912 1634 918 1631 918 1628 912 1625 901 1625z" fill="#d8f000"/><path d="M895 1628 895 1631 902 1634 911 1634 918 1631 918 1628 911 1625 902 1625z" fill="#fde400"/><path d="M901 1629 901 1630 904 1632 911 1632 914 1630 914 1629 911 1627 904 1627z" fill="#ffa800"/><path d="M901 1629 901 1630 904 1632 911 1632 914 1630 914 1629 911 1627 904 1627z" fill="#ff6000"/><path d="M1252 1574 1247 1576 1244 1579 1242 1584 1242 1587 1244 1592 1247 1595 1252 1597 1255 1597 1260 1595 1263 1592 1265 1587 1265 1584 1263 1579 1260 1576 1255 1574zM1308 1582 1308 1591 1311 1596 1316 1600 1327 1604 1338 1604 1345 1602 1352 1598 1357 1591 1357 1582 1354 1577 1349 1573 1338 1569 1327 1569 1320 1571 1313 1575zM1256 1499 1252 1499 1249 1501 1243 1514 1243 1520 1242 1521 1243 1535 1245 1540 1249 1544 1253 1544 1256 1542 1262 1529 1262 1523 1263 1522 1262 1508 1260 1503z" fill="#1c62f4"/><path d="M1250 1575 1244 1580 1243 1582 1243 1589 1248 1595 1250 1596 1257 1596 1263 1591 1264 1589 1264 1582 1259 1576 1257 1575zM1308 1585 1308 1588 1311 1595 1317 1600 1325 1603 1340 1603 1346 1601 1354 1595 1357 1588 1357 1585 1354 1578 1348 1573 1340 1570 1325 1570 1319 1572 1311 1578zM1254 1499 1251 1500 1248 1503 1243 1516 1243 1533 1244 1534 1244 1537 1246 1541 1251 1544 1254 1543 1257 1540 1262 1527 1262 1510 1261 1509 1261 1506 1259 1502z" fill="#0898f8"/><path d="M1250 1575 1244 1580 1243 1582 1243 1589 1248 1595 1250 1596 1257 1596 1263 1591 1264 1589 1264 1582 1259 1576 1257 1575zM1309 1583 1309 1590 1311 1594 1316 1599 1327 1603 1338 1603 1345 1601 1349 1599 1354 1594 1356 1590 1356 1583 1354 1579 1349 1574 1338 1570 1327 1570 1320 1572 1316 1574 1311 1579zM1256 1500 1252 1500 1247 1505 1243 1517 1243 1532 1246 1540 1249 1543 1253 1543 1258 1538 1262 1526 1262 1511 1259 1503z" fill="#00d0f6"/><path d="M1251 1579 1247 1583 1247 1590 1251 1594 1256 1594 1260 1590 1260 1583 1256 1579zM1328 1575 1322 1582 1322 1589 1323 1591 1328 1596 1331 1597 1340 1597 1343 1596 1349 1589 1349 1582 1348 1580 1343 1575 1340 1574 1331 1574zM1254 1509 1251 1509 1249 1511 1246 1519 1246 1533 1249 1538 1252 1538 1254 1536 1257 1528 1257 1514z" fill="#00e8c0"/><path d="M1251 1579 1247 1584 1247 1589 1251 1594 1256 1594 1260 1589 1260 1584 1256 1579zM1323 1580 1322 1583 1323 1591 1329 1596 1339 1597 1344 1595 1348 1591 1349 1588 1348 1580 1342 1575 1332 1574 1327 1576zM1254 1509 1251 1509 1248 1513 1246 1520 1246 1532 1249 1538 1252 1538 1255 1534 1257 1527 1257 1515z" fill="#20e860"/><path d="M1253 1582 1251 1583 1250 1585 1250 1590 1251 1592 1254 1593 1256 1592 1257 1590 1257 1585 1256 1583zM1329 1583 1329 1588 1333 1591 1338 1591 1342 1588 1342 1583 1338 1580 1333 1580zM1251 1517 1249 1520 1249 1527 1250 1529 1252 1530 1254 1527 1254 1520 1253 1518z" fill="#78f020"/><path d="M1253 1582 1250 1585 1250 1590 1254 1593 1257 1590 1257 1585zM1329 1583 1329 1588 1333 1591 1338 1591 1342 1588 1342 1583 1338 1580 1333 1580zM1251 1517 1249 1520 1249 1527 1250 1529 1252 1530 1254 1527 1254 1520 1253 1518z" fill="#d8f000"/><path d="M1253 1582 1250 1585 1250 1590 1254 1593 1257 1590 1257 1585zM1330 1582 1329 1587 1331 1590 1333 1591 1338 1591 1341 1589 1342 1584 1340 1581 1338 1580 1333 1580zM1251 1517 1249 1520 1249 1527 1250 1529 1252 1530 1254 1527 1254 1520 1253 1518z" fill="#fde400"/><path d="M1252 1583 1250 1585 1250 1590 1252 1592 1255 1592 1257 1590 1257 1585 1255 1583zM1330 1582 1329 1587 1331 1590 1333 1591 1338 1591 1341 1589 1342 1584 1340 1581 1338 1580 1333 1580z" fill="#ffa800"/><path d="M531 1944 532 1947 539 1950 554 1950 561 1947 562 1945 561 1942 554 1939 539 1939 532 1942z" fill="#1c62f4"/><path d="M532 1943 532 1946 534 1948 540 1950 553 1950 554 1949 557 1949 561 1946 561 1943 559 1941 553 1939 540 1939 539 1940 536 1940z" fill="#0898f8"/><path d="M532 1943 532 1946 533 1947 541 1950 552 1950 553 1949 556 1949 561 1946 561 1943 560 1942 552 1939 541 1939 540 1940 537 1940z" fill="#00d0f6"/><path d="M539 1943 539 1946 543 1948 550 1948 554 1946 554 1943 550 1941 543 1941z" fill="#00e8c0"/><path d="M539 1943 539 1946 543 1948 550 1948 554 1946 554 1943 550 1941 543 1941z" fill="#20e860"/><path d="M546 1942 544 1943 544 1946 547 1947 549 1946 549 1943z" fill="#78f020"/><path d="M544 1944 545 1946 548 1946 549 1945 548 1943 545 1943z" fill="#d8f000"/><path d="M544 1944 545 1946 548 1946 549 1945 548 1943 545 1943z" fill="#fde400"/><path d="M940 1955 940 1962 943 1967 951 1972 958 1974 967 1974 974 1972 981 1968 985 1962 985 1955 982 1950 974 1945 967 1943 958 1943 951 1945 944 1949zM911 1938 908 1940 904 1948 904 1952 903 1953 903 1966 904 1967 905 1974 908 1979 911 1981 914 1981 917 1979 921 1971 921 1967 922 1966 922 1953 921 1952 920 1945 917 1940 914 1938zM901 1845 894 1848 892 1850 889 1856 889 1861 890 1864 894 1869 901 1872 906 1872 913 1869 915 1867 918 1861 918 1856 917 1853 913 1848 906 1845z" fill="#1c62f4"/><path d="M911 1946 909 1948 907 1954 907 1965 909 1971 911 1973 914 1973 916 1971 918 1965 918 1954 916 1948 914 1946zM940 1958 941 1963 946 1969 955 1973 970 1973 979 1969 982 1966 985 1959 984 1954 979 1948 970 1944 955 1944 946 1948 943 1951zM899 1846 895 1848 891 1852 890 1854 890 1863 895 1869 899 1871 908 1871 912 1869 916 1865 917 1863 917 1854 912 1848 908 1846z" fill="#0898f8"/><path d="M941 1955 941 1962 942 1964 947 1969 957 1973 968 1973 969 1972 972 1972 978 1969 984 1962 984 1955 983 1953 978 1948 968 1944 957 1944 956 1945 953 1945 947 1948zM897 1847 892 1851 890 1855 890 1862 892 1866 897 1870 900 1871 910 1870 915 1866 917 1862 917 1855 915 1851 910 1847 907 1846z" fill="#00d0f6"/><path d="M952 1954 951 1956 951 1961 954 1965 958 1967 967 1967 971 1965 974 1961 974 1956 973 1954 967 1950 958 1950zM900 1850 894 1855 894 1862 900 1867 907 1867 913 1862 913 1855 907 1850z" fill="#00e8c0"/><path d="M951 1956 951 1961 953 1964 959 1967 969 1966 972 1964 974 1961 974 1956 972 1953 966 1950 956 1951 953 1953zM898 1851 894 1856 894 1861 898 1866 901 1867 909 1866 913 1861 913 1856 909 1851 906 1850z" fill="#20e860"/><path d="M902 1853 898 1856 898 1861 902 1864 905 1864 909 1861 909 1856 905 1853z" fill="#78f020"/><path d="M903 1853 899 1855 898 1860 900 1863 904 1864 908 1862 909 1857 907 1854z" fill="#d8f000"/><path d="M903 1853 899 1855 898 1860 900 1863 904 1864 908 1862 909 1857 907 1854z" fill="#fde400"/><path d="M903 1855 900 1857 900 1860 904 1862 907 1860 907 1857z" fill="#ffa800"/><path d="M900 1857 900 1860 901 1861 906 1861 907 1860 907 1857 906 1856 901 1856z" fill="#ff6000"/><path d="M1244 1945 1245 1948 1250 1951 1261 1951 1265 1949 1267 1946 1266 1943 1261 1940 1250 1940 1246 1942zM1249 1846 1245 1850 1243 1854 1241 1867 1242 1868 1242 1874 1245 1881 1249 1885 1254 1885 1258 1881 1260 1877 1262 1864 1261 1863 1261 1857 1258 1850 1254 1846z" fill="#1c62f4"/><path d="M1245 1944 1245 1947 1248 1950 1251 1951 1260 1951 1263 1950 1266 1947 1266 1944 1263 1941 1260 1940 1251 1940 1248 1941zM1249 1847 1247 1848 1243 1855 1243 1858 1242 1859 1242 1872 1243 1873 1243 1876 1247 1883 1249 1884 1254 1884 1256 1883 1260 1876 1260 1873 1261 1872 1261 1859 1260 1858 1260 1855 1256 1848 1254 1847z" fill="#0898f8"/><path d="M1245 1944 1245 1947 1251 1951 1260 1951 1266 1947 1266 1944 1260 1940 1251 1940zM1249 1847 1245 1851 1243 1856 1243 1859 1242 1860 1242 1871 1245 1880 1249 1884 1254 1884 1258 1880 1260 1875 1260 1872 1261 1871 1261 1860 1258 1851 1254 1847z" fill="#00d0f6"/><path d="M1248 1945 1248 1948 1251 1950 1258 1950 1261 1948 1261 1945 1258 1943 1251 1943zM1249 1852 1245 1859 1245 1870 1249 1877 1254 1877 1258 1870 1258 1859 1254 1852z" fill="#00e8c0"/><path d="M1248 1945 1248 1948 1252 1950 1257 1950 1261 1948 1261 1945 1257 1943 1252 1943zM1250 1852 1247 1855 1245 1860 1245 1869 1247 1874 1250 1877 1253 1877 1256 1874 1258 1869 1258 1860 1256 1855 1253 1852z" fill="#20e860"/><path d="M1251 1946 1252 1948 1257 1948 1258 1947 1257 1945 1252 1945zM1250 1857 1248 1860 1248 1867 1250 1870 1253 1870 1255 1867 1255 1860 1253 1857z" fill="#78f020"/><path d="M1251 1946 1252 1948 1257 1948 1258 1947 1257 1945 1252 1945zM1250 1857 1248 1860 1248 1867 1250 1870 1253 1870 1255 1867 1255 1860 1253 1857z" fill="#d8f000"/><path d="M1251 1946 1252 1948 1257 1948 1258 1947 1257 1945 1252 1945zM1250 1857 1248 1861 1248 1866 1250 1870 1253 1870 1255 1866 1255 1861 1253 1857z" fill="#fde400"/><path d="M1251 1946 1252 1948 1257 1948 1258 1947 1257 1945 1252 1945zM1251 1859 1249 1863 1250 1865 1252 1866 1254 1862 1253 1860z" fill="#ffa800"/></g></g>
<rect x="880" y="291.6" width="53.5" height="39.4" fill="#fff" fill-opacity="0.85"/><rect x="1229" y="1596.7" width="53" height="30.9" fill="#fff" fill-opacity="0.85"/><rect x="869.1" y="1929" width="31.5" height="56.5" fill="#fff" fill-opacity="0.85"/>
<text x="6" y="32.4" font-size="56" textLength="27.5" lengthAdjust="spacingAndGlyphs" font-weight="bold">a</text>
<text x="101.5" y="40.7" font-size="37.6" textLength="751.7" lengthAdjust="spacingAndGlyphs">Lung endothelia and epithelia gating strategy</text>
<text x="7" y="495" font-size="56" textLength="29.5" lengthAdjust="spacingAndGlyphs" font-weight="bold">b</text>
<text x="100.5" y="508.2" font-size="37.6" textLength="724.3" lengthAdjust="spacingAndGlyphs">BALF myeloid cell and RBC gating strategy</text>
<text x="6.5" y="1335" font-size="56" textLength="27.5" lengthAdjust="spacingAndGlyphs" font-weight="bold">c</text>
<text x="100.5" y="1347.1" font-size="37.6" textLength="571.6" lengthAdjust="spacingAndGlyphs">Lung lymphoid cell gating strategy</text>
<rect x="132.6" y="86.6" width="255.3" height="254.6" fill="none" stroke="#3a3a3a" stroke-width="1.6"/>
<text x="120.1" y="347.4" font-size="13" font-family="'DejaVu Sans', 'Liberation Sans', sans-serif" text-anchor="end" letter-spacing="0.7">0</text>
<text x="120.1" y="299" font-size="13" font-family="'DejaVu Sans', 'Liberation Sans', sans-serif" text-anchor="end" letter-spacing="0.7">50K</text>
<text x="120.1" y="250.6" font-size="13" font-family="'DejaVu Sans', 'Liberation Sans', sans-serif" text-anchor="end" letter-spacing="0.7">100K</text>
<text x="120.1" y="202.2" font-size="13" font-family="'DejaVu Sans', 'Liberation Sans', sans-serif" text-anchor="end" letter-spacing="0.7">150K</text>
<text x="120.1" y="153.8" font-size="13" font-family="'DejaVu Sans', 'Liberation Sans', sans-serif" text-anchor="end" letter-spacing="0.7">200K</text>
<text x="120.1" y="105.4" font-size="13" font-family="'DejaVu Sans', 'Liberation Sans', sans-serif" text-anchor="end" letter-spacing="0.7">250K</text>
<text x="133.1" y="363.7" font-size="13" font-family="'DejaVu Sans', 'Liberation Sans', sans-serif">0</text>
<text x="181.3" y="363.7" font-size="13" font-family="'DejaVu Sans', 'Liberation Sans', sans-serif" text-anchor="middle" letter-spacing="0.7">50K</text>
<text x="229.6" y="363.7" font-size="13" font-family="'DejaVu Sans', 'Liberation Sans', sans-serif" text-anchor="middle" letter-spacing="0.7">100K</text>
<text x="277.9" y="363.7" font-size="13" font-family="'DejaVu Sans', 'Liberation Sans', sans-serif" text-anchor="middle" letter-spacing="0.7">150K</text>
<text x="326.2" y="363.7" font-size="13" font-family="'DejaVu Sans', 'Liberation Sans', sans-serif" text-anchor="middle" letter-spacing="0.7">200K</text>
<text x="387.4" y="363.7" font-size="13" font-family="'DejaVu Sans', 'Liberation Sans', sans-serif" text-anchor="end" letter-spacing="0.7">250K</text>
<path d="M125.6 340.4h7M125.6 292h7M125.6 243.6h7M125.6 195.2h7M125.6 146.8h7M125.6 98.4h7M129.1 330.7h3.5M129.1 321h3.5M129.1 311.4h3.5M129.1 301.7h3.5M129.1 282.3h3.5M129.1 272.6h3.5M129.1 263h3.5M129.1 253.3h3.5M129.1 233.9h3.5M129.1 224.2h3.5M129.1 214.6h3.5M129.1 204.9h3.5M129.1 185.5h3.5M129.1 175.8h3.5M129.1 166.2h3.5M129.1 156.5h3.5M129.1 137.1h3.5M129.1 127.4h3.5M129.1 117.8h3.5M129.1 108.1h3.5M129.1 88.7h3.5M133 341.2v7M181.3 341.2v7M229.6 341.2v7M277.9 341.2v7M326.2 341.2v7M374.5 341.2v7M142.7 341.2v3.5M152.3 341.2v3.5M162 341.2v3.5M171.6 341.2v3.5M191 341.2v3.5M200.6 341.2v3.5M210.3 341.2v3.5M219.9 341.2v3.5M239.3 341.2v3.5M248.9 341.2v3.5M258.6 341.2v3.5M268.2 341.2v3.5M287.6 341.2v3.5M297.2 341.2v3.5M306.9 341.2v3.5M316.5 341.2v3.5M335.9 341.2v3.5M345.5 341.2v3.5M355.2 341.2v3.5M364.8 341.2v3.5M384.2 341.2v3.5" stroke="#3a3a3a" stroke-width="1.3" fill="none"/>
<text x="81.1" y="376.5" font-size="26.8" textLength="79.8" lengthAdjust="spacingAndGlyphs" transform="rotate(-90 81.1 376.5)">FSC-H</text>
<polygon points="72,95.9 84,124.4 72,119.9 60,124.4" fill="#000"/>
<line x1="72" y1="117.9" x2="72" y2="288.5" stroke="#111" stroke-width="1.3"/>
<text x="135" y="402.2" font-size="26.8" textLength="79.4" lengthAdjust="spacingAndGlyphs">FSC-A</text>
<polygon points="724,395.4 695.5,407.4 700,395.4 695.5,383.4" fill="#000"/>
<line x1="233.5" y1="395.4" x2="702" y2="395.4" stroke="#111" stroke-width="1.3"/>
<polygon points="132.6,339.8 151.2,308.9 334.8,163.4 357,201.9 350,205.5 152.5,337.5" fill="none" stroke="#111" stroke-width="1.2" stroke-linejoin="round"/>
<text x="152.4" y="179.3" font-size="23" font-family="'DejaVu Sans', 'Liberation Sans', sans-serif" textLength="51.7" lengthAdjust="spacingAndGlyphs">97.2</text>
<rect x="479.3" y="86.6" width="254.7" height="254.8" fill="none" stroke="#3a3a3a" stroke-width="1.6"/>
<text x="457.8" y="312.1" font-size="13" font-family="'DejaVu Sans', 'Liberation Sans', sans-serif" text-anchor="end">0</text>
<text x="456.8" y="239.3" font-size="13" font-family="'DejaVu Sans', 'Liberation Sans', sans-serif" text-anchor="end">10</text>
<text x="467" y="230.3" font-size="11" font-family="'DejaVu Sans', 'Liberation Sans', sans-serif" text-anchor="end">3</text>
<text x="456.8" y="179.4" font-size="13" font-family="'DejaVu Sans', 'Liberation Sans', sans-serif" text-anchor="end">10</text>
<text x="467" y="170.4" font-size="11" font-family="'DejaVu Sans', 'Liberation Sans', sans-serif" text-anchor="end">4</text>
<text x="456.8" y="119.4" font-size="13" font-family="'DejaVu Sans', 'Liberation Sans', sans-serif" text-anchor="end">10</text>
<text x="467" y="110.4" font-size="11" font-family="'DejaVu Sans', 'Liberation Sans', sans-serif" text-anchor="end">5</text>
<text x="479.8" y="363.9" font-size="13" font-family="'DejaVu Sans', 'Liberation Sans', sans-serif">0</text>
<text x="528.2" y="363.9" font-size="13" font-family="'DejaVu Sans', 'Liberation Sans', sans-serif" text-anchor="middle" letter-spacing="0.7">50K</text>
<text x="576.4" y="363.9" font-size="13" font-family="'DejaVu Sans', 'Liberation Sans', sans-serif" text-anchor="middle" letter-spacing="0.7">100K</text>
<text x="624.6" y="363.9" font-size="13" font-family="'DejaVu Sans', 'Liberation Sans', sans-serif" text-anchor="middle" letter-spacing="0.7">150K</text>
<text x="672.8" y="363.9" font-size="13" font-family="'DejaVu Sans', 'Liberation Sans', sans-serif" text-anchor="middle" letter-spacing="0.7">200K</text>
<text x="733.5" y="363.9" font-size="13" font-family="'DejaVu Sans', 'Liberation Sans', sans-serif" text-anchor="end" letter-spacing="0.7">250K</text>
<path d="M472.3 307.5h7M472.3 229.7h7M472.3 169.8h7M472.3 109.8h7M475.3 284.8h4M475.3 270.2h4M475.3 260.5h4M475.3 253.3h4M475.3 247.6h4M475.3 242.9h4M475.3 239h4M475.3 235.5h4M475.3 232.5h4M475.3 211.7h4M475.3 201.2h4M475.3 193.7h4M475.3 187.9h4M475.3 183.1h4M475.3 179.1h4M475.3 175.6h4M475.3 172.6h4M475.3 330.2h4M475.3 151.7h4M475.3 141.2h4M475.3 133.7h4M475.3 127.9h4M475.3 123.1h4M475.3 119.1h4M475.3 115.6h4M475.3 112.6h4M475.3 91.7h4M480 341.4v7M528.2 341.4v7M576.4 341.4v7M624.6 341.4v7M672.8 341.4v7M721 341.4v7M489.6 341.4v3.5M499.3 341.4v3.5M508.9 341.4v3.5M518.6 341.4v3.5M537.8 341.4v3.5M547.5 341.4v3.5M557.1 341.4v3.5M566.8 341.4v3.5M586 341.4v3.5M595.7 341.4v3.5M605.3 341.4v3.5M615 341.4v3.5M634.2 341.4v3.5M643.9 341.4v3.5M653.5 341.4v3.5M663.2 341.4v3.5M682.4 341.4v3.5M692.1 341.4v3.5M701.7 341.4v3.5M711.4 341.4v3.5M730.6 341.4v3.5" stroke="#3a3a3a" stroke-width="1.3" fill="none"/>
<text x="438" y="376.7" font-size="26.8" textLength="201.3" lengthAdjust="spacingAndGlyphs" transform="rotate(-90 438 376.7)">UV450-LiveDead</text>
<polygon points="425.7,84.5 437.7,113 425.7,108.5 413.7,113" fill="#000"/>
<line x1="425.7" y1="106.5" x2="425.7" y2="166.5" stroke="#111" stroke-width="1.3"/>
<polygon points="490.6,342.5 494.3,290 564.7,232.3 638.8,226.6 697.5,229.9 698.5,342.5" fill="none" stroke="#111" stroke-width="1.2" stroke-linejoin="round"/>
<text x="675.8" y="320.9" font-size="23" font-family="'DejaVu Sans', 'Liberation Sans', sans-serif" textLength="52.7" lengthAdjust="spacingAndGlyphs">41.1</text>
<rect x="825" y="86.6" width="254.7" height="254.8" fill="none" stroke="#3a3a3a" stroke-width="1.6"/>
<text x="803.5" y="311.1" font-size="13" font-family="'DejaVu Sans', 'Liberation Sans', sans-serif" text-anchor="end">0</text>
<text x="802.5" y="239.1" font-size="13" font-family="'DejaVu Sans', 'Liberation Sans', sans-serif" text-anchor="end">10</text>
<text x="812.7" y="230.1" font-size="11" font-family="'DejaVu Sans', 'Liberation Sans', sans-serif" text-anchor="end">3</text>
<text x="802.5" y="179.3" font-size="13" font-family="'DejaVu Sans', 'Liberation Sans', sans-serif" text-anchor="end">10</text>
<text x="812.7" y="170.3" font-size="11" font-family="'DejaVu Sans', 'Liberation Sans', sans-serif" text-anchor="end">4</text>
<text x="802.5" y="119.5" font-size="13" font-family="'DejaVu Sans', 'Liberation Sans', sans-serif" text-anchor="end">10</text>
<text x="812.7" y="110.5" font-size="11" font-family="'DejaVu Sans', 'Liberation Sans', sans-serif" text-anchor="end">5</text>
<text x="863.5" y="370.2" font-size="13" font-family="'DejaVu Sans', 'Liberation Sans', sans-serif" text-anchor="middle">0</text>
<text x="933.7" y="370.2" font-size="13" font-family="'DejaVu Sans', 'Liberation Sans', sans-serif">10</text>
<text x="950.7" y="360.9" font-size="11" font-family="'DejaVu Sans', 'Liberation Sans', sans-serif">3</text>
<text x="993.8" y="370.2" font-size="13" font-family="'DejaVu Sans', 'Liberation Sans', sans-serif">10</text>
<text x="1010.8" y="360.9" font-size="11" font-family="'DejaVu Sans', 'Liberation Sans', sans-serif">4</text>
<text x="1054" y="370.2" font-size="13" font-family="'DejaVu Sans', 'Liberation Sans', sans-serif">10</text>
<text x="1071" y="360.9" font-size="11" font-family="'DejaVu Sans', 'Liberation Sans', sans-serif">5</text>
<path d="M818 306.5h7M818 229.5h7M818 169.7h7M818 109.9h7M821 284.2h4M821 269.8h4M821 260.1h4M821 252.9h4M821 247.3h4M821 242.6h4M821 238.7h4M821 235.2h4M821 232.2h4M821 211.5h4M821 201h4M821 193.5h4M821 187.7h4M821 183h4M821 179h4M821 175.5h4M821 172.4h4M821 328.8h4M821 151.7h4M821 141.2h4M821 133.7h4M821 127.9h4M821 123.1h4M821 119.1h4M821 115.7h4M821 112.6h4M821 91.9h4M863.5 341.4v7M936.2 341.4v7M996.3 341.4v7M1056.5 341.4v7M882.7 341.4v4M896.2 341.4v4M905.6 341.4v4M912.7 341.4v4M918.3 341.4v4M923 341.4v4M926.9 341.4v4M930.4 341.4v4M933.4 341.4v4M954.2 341.4v4M964.8 341.4v4M972.3 341.4v4M978.2 341.4v4M982.9 341.4v4M987 341.4v4M990.4 341.4v4M993.5 341.4v4M844.3 341.4v4M830.8 341.4v4M1014.4 341.4v4M1025 341.4v4M1032.5 341.4v4M1038.4 341.4v4M1043.1 341.4v4M1047.2 341.4v4M1050.7 341.4v4M1053.7 341.4v4M1074.6 341.4v4" stroke="#3a3a3a" stroke-width="1.3" fill="none"/>
<text x="779" y="375.7" font-size="26.8" textLength="155.1" lengthAdjust="spacingAndGlyphs" transform="rotate(-90 779 375.7)">BV786-CD45</text>
<polygon points="771.9,84.5 783.9,113 771.9,108.5 759.9,113" fill="#000"/>
<line x1="771.9" y1="106.5" x2="771.9" y2="214.8" stroke="#111" stroke-width="1.3"/>
<text x="824.2" y="402.5" font-size="26.8" textLength="152.4" lengthAdjust="spacingAndGlyphs">APC-EpCam</text>
<polygon points="1081.8,395.5 1053.3,407.5 1057.8,395.5 1053.3,383.5" fill="#000"/>
<line x1="984.5" y1="395.5" x2="1059.8" y2="395.5" stroke="#111" stroke-width="1.3"/>
<polygon points="934.5,268.4 1009.7,224.1 1070.4,225.1 1075.6,334.3 935.6,334.6" fill="none" stroke="#111" stroke-width="1.2" stroke-linejoin="round"/>
<rect x="838.8" y="122.2" width="170.5" height="98.8" fill="none" stroke="#111" stroke-width="1.2"/>
<rect x="843" y="265.7" width="52.8" height="65.3" fill="none" stroke="#111" stroke-width="1.2"/>
<text x="830.5" y="120" font-size="23" font-family="'DejaVu Sans', 'Liberation Sans', sans-serif" textLength="52.7" lengthAdjust="spacingAndGlyphs">82.4</text>
<text x="940.5" y="114" font-size="24" textLength="67.3" lengthAdjust="spacingAndGlyphs">CD45</text>
<text x="1008.4" y="95" font-size="13" textLength="9.3" lengthAdjust="spacingAndGlyphs">+</text>
<text x="879.9" y="320.9" font-size="23" font-family="'DejaVu Sans', 'Liberation Sans', sans-serif" textLength="52.8" lengthAdjust="spacingAndGlyphs">3.59</text>
<text x="1023.9" y="316.7" font-size="23" font-family="'DejaVu Sans', 'Liberation Sans', sans-serif" textLength="50.8" lengthAdjust="spacingAndGlyphs">10.5</text>
<rect x="1171.7" y="86.6" width="255.3" height="255.3" fill="none" stroke="#3a3a3a" stroke-width="1.6"/>
<text x="1150.2" y="300.6" font-size="13" font-family="'DejaVu Sans', 'Liberation Sans', sans-serif" text-anchor="end">0</text>
<text x="1149.2" y="241.9" font-size="13" font-family="'DejaVu Sans', 'Liberation Sans', sans-serif" text-anchor="end">10</text>
<text x="1159.4" y="232.9" font-size="11" font-family="'DejaVu Sans', 'Liberation Sans', sans-serif" text-anchor="end">3</text>
<text x="1149.2" y="180.8" font-size="13" font-family="'DejaVu Sans', 'Liberation Sans', sans-serif" text-anchor="end">10</text>
<text x="1159.4" y="171.8" font-size="11" font-family="'DejaVu Sans', 'Liberation Sans', sans-serif" text-anchor="end">4</text>
<text x="1149.2" y="119.5" font-size="13" font-family="'DejaVu Sans', 'Liberation Sans', sans-serif" text-anchor="end">10</text>
<text x="1159.4" y="110.5" font-size="11" font-family="'DejaVu Sans', 'Liberation Sans', sans-serif" text-anchor="end">5</text>
<text x="1211.5" y="370.7" font-size="13" font-family="'DejaVu Sans', 'Liberation Sans', sans-serif" text-anchor="middle">0</text>
<text x="1280.2" y="370.7" font-size="13" font-family="'DejaVu Sans', 'Liberation Sans', sans-serif">10</text>
<text x="1297.2" y="361.4" font-size="11" font-family="'DejaVu Sans', 'Liberation Sans', sans-serif">3</text>
<text x="1340.1" y="370.7" font-size="13" font-family="'DejaVu Sans', 'Liberation Sans', sans-serif">10</text>
<text x="1357.1" y="361.4" font-size="11" font-family="'DejaVu Sans', 'Liberation Sans', sans-serif">4</text>
<text x="1400.2" y="370.7" font-size="13" font-family="'DejaVu Sans', 'Liberation Sans', sans-serif">10</text>
<text x="1417.2" y="361.4" font-size="11" font-family="'DejaVu Sans', 'Liberation Sans', sans-serif">5</text>
<path d="M1164.7 296h7M1164.7 232.3h7M1164.7 171.2h7M1164.7 109.9h7M1167.7 282.2h4M1167.7 271h4M1167.7 262.4h4M1167.7 255.7h4M1167.7 250.2h4M1167.7 245.6h4M1167.7 241.6h4M1167.7 238.2h4M1167.7 235.1h4M1167.7 214h4M1167.7 203.3h4M1167.7 195.6h4M1167.7 189.7h4M1167.7 184.8h4M1167.7 180.7h4M1167.7 177.2h4M1167.7 174h4M1167.7 309.8h4M1167.7 321h4M1167.7 329.6h4M1167.7 336.3h4M1167.7 152.8h4M1167.7 142h4M1167.7 134.3h4M1167.7 128.4h4M1167.7 123.5h4M1167.7 119.4h4M1167.7 115.8h4M1167.7 112.7h4M1167.7 91.4h4M1211.5 341.9v7M1282.7 341.9v7M1342.6 341.9v7M1402.7 341.9v7M1229.9 341.9v4M1243.1 341.9v4M1252.4 341.9v4M1259.4 341.9v4M1265 341.9v4M1269.6 341.9v4M1273.6 341.9v4M1277 341.9v4M1280 341.9v4M1300.7 341.9v4M1311.3 341.9v4M1318.8 341.9v4M1324.6 341.9v4M1329.3 341.9v4M1333.3 341.9v4M1336.8 341.9v4M1339.9 341.9v4M1193.1 341.9v4M1179.9 341.9v4M1360.7 341.9v4M1371.3 341.9v4M1378.8 341.9v4M1384.6 341.9v4M1389.3 341.9v4M1393.4 341.9v4M1396.8 341.9v4M1399.9 341.9v4M1420.7 341.9v4" stroke="#3a3a3a" stroke-width="1.3" fill="none"/>
<text x="1131.2" y="365.3" font-size="26.8" textLength="171.7" lengthAdjust="spacingAndGlyphs" transform="rotate(-90 1131.2 365.3)">BV711-MHC-II</text>
<polygon points="1123.2,73.2 1135.2,101.7 1123.2,97.2 1111.2,101.7" fill="#000"/>
<line x1="1123.2" y1="95.2" x2="1123.2" y2="191" stroke="#111" stroke-width="1.3"/>
<text x="1172.1" y="402" font-size="26.8" textLength="151.9" lengthAdjust="spacingAndGlyphs">APC-EpCam</text>
<polygon points="1428.6,395.5 1400.1,407.5 1404.6,395.5 1400.1,383.5" fill="#000"/>
<line x1="1328.7" y1="395.5" x2="1406.6" y2="395.5" stroke="#111" stroke-width="1.3"/>
<polygon points="1347.3,135.2 1390.6,112.3 1377.2,211.8 1340.7,261.2 1323.7,187" fill="none" stroke="#111" stroke-width="1.2" stroke-linejoin="round"/>
<polygon points="1408.7,166.5 1417.7,235.4 1394.7,299.2 1373,261.2 1375.1,220" fill="none" stroke="#111" stroke-width="1.2" stroke-linejoin="round"/>
<text x="1278.2" y="120" font-size="23" font-family="'DejaVu Sans', 'Liberation Sans', sans-serif" textLength="50.7" lengthAdjust="spacingAndGlyphs">53.5</text>
<text x="1216.4" y="154" font-size="24" textLength="107.4" lengthAdjust="spacingAndGlyphs">AT2 cells</text>
<text x="1284.4" y="305.4" font-size="24" textLength="80.6" lengthAdjust="spacingAndGlyphs">Airway</text>
<text x="1275.1" y="335.3" font-size="24" textLength="99.1" lengthAdjust="spacingAndGlyphs">epithelia</text>
<text x="1369.8" y="320.9" font-size="23" font-family="'DejaVu Sans', 'Liberation Sans', sans-serif" textLength="51.7" lengthAdjust="spacingAndGlyphs">4.06</text>
<rect x="1517.9" y="86.6" width="254.9" height="255.3" fill="none" stroke="#3a3a3a" stroke-width="1.6"/>
<text x="1496.4" y="305.6" font-size="13" font-family="'DejaVu Sans', 'Liberation Sans', sans-serif" text-anchor="end">0</text>
<text x="1495.4" y="240.7" font-size="13" font-family="'DejaVu Sans', 'Liberation Sans', sans-serif" text-anchor="end">10</text>
<text x="1505.6" y="231.7" font-size="11" font-family="'DejaVu Sans', 'Liberation Sans', sans-serif" text-anchor="end">3</text>
<text x="1495.4" y="180.1" font-size="13" font-family="'DejaVu Sans', 'Liberation Sans', sans-serif" text-anchor="end">10</text>
<text x="1505.6" y="171.1" font-size="11" font-family="'DejaVu Sans', 'Liberation Sans', sans-serif" text-anchor="end">4</text>
<text x="1495.4" y="119.4" font-size="13" font-family="'DejaVu Sans', 'Liberation Sans', sans-serif" text-anchor="end">10</text>
<text x="1505.6" y="110.4" font-size="11" font-family="'DejaVu Sans', 'Liberation Sans', sans-serif" text-anchor="end">5</text>
<text x="1557.6" y="370.7" font-size="13" font-family="'DejaVu Sans', 'Liberation Sans', sans-serif" text-anchor="middle">0</text>
<text x="1626.8" y="370.7" font-size="13" font-family="'DejaVu Sans', 'Liberation Sans', sans-serif">10</text>
<text x="1643.8" y="361.4" font-size="11" font-family="'DejaVu Sans', 'Liberation Sans', sans-serif">3</text>
<text x="1686.5" y="370.7" font-size="13" font-family="'DejaVu Sans', 'Liberation Sans', sans-serif">10</text>
<text x="1703.5" y="361.4" font-size="11" font-family="'DejaVu Sans', 'Liberation Sans', sans-serif">4</text>
<text x="1746.2" y="370.7" font-size="13" font-family="'DejaVu Sans', 'Liberation Sans', sans-serif">10</text>
<text x="1763.2" y="361.4" font-size="11" font-family="'DejaVu Sans', 'Liberation Sans', sans-serif">5</text>
<path d="M1510.9 301h7M1510.9 231.1h7M1510.9 170.5h7M1510.9 109.8h7M1513.9 283.7h4M1513.9 270.9h4M1513.9 261.7h4M1513.9 254.6h4M1513.9 249h4M1513.9 244.4h4M1513.9 240.4h4M1513.9 236.9h4M1513.9 233.9h4M1513.9 212.9h4M1513.9 202.3h4M1513.9 194.7h4M1513.9 188.8h4M1513.9 184h4M1513.9 179.9h4M1513.9 176.4h4M1513.9 173.3h4M1513.9 318.3h4M1513.9 331.1h4M1513.9 340.3h4M1513.9 152.2h4M1513.9 141.5h4M1513.9 134h4M1513.9 128.1h4M1513.9 123.3h4M1513.9 119.2h4M1513.9 115.7h4M1513.9 112.6h4M1513.9 91.5h4M1557.6 341.9v7M1629.3 341.9v7M1689 341.9v7M1748.7 341.9v7M1576.4 341.9v4M1589.7 341.9v4M1599.1 341.9v4M1606.1 341.9v4M1611.6 341.9v4M1616.2 341.9v4M1620.2 341.9v4M1623.6 341.9v4M1626.6 341.9v4M1647.2 341.9v4M1657.7 341.9v4M1665.2 341.9v4M1671 341.9v4M1675.7 341.9v4M1679.7 341.9v4M1683.2 341.9v4M1686.2 341.9v4M1538.8 341.9v4M1525.5 341.9v4M1707 341.9v4M1717.5 341.9v4M1725 341.9v4M1730.8 341.9v4M1735.5 341.9v4M1739.5 341.9v4M1743 341.9v4M1746 341.9v4M1766.7 341.9v4" stroke="#3a3a3a" stroke-width="1.3" fill="none"/>
<text x="1470.1" y="365.3" font-size="26.8" textLength="155" lengthAdjust="spacingAndGlyphs" transform="rotate(-90 1470.1 365.3)">BV510-CD24</text>
<polygon points="1463,73.2 1475,101.7 1463,97.2 1451,101.7" fill="#000"/>
<line x1="1463" y1="95.2" x2="1463" y2="203.5" stroke="#111" stroke-width="1.3"/>
<text x="1519.3" y="402" font-size="26.8" textLength="150.9" lengthAdjust="spacingAndGlyphs">APC-EpCam</text>
<polygon points="1775.9,395.5 1747.4,407.5 1751.9,395.5 1747.4,383.5" fill="#000"/>
<line x1="1677" y1="395.5" x2="1753.9" y2="395.5" stroke="#111" stroke-width="1.3"/>
<polygon points="1715.1,141.8 1760.4,109.9 1758.4,164.4 1715.1,199.4" fill="none" stroke="#111" stroke-width="1.2" stroke-linejoin="round"/>
<polygon points="1717.2,211.8 1758.4,171.6 1758.4,211.8 1715.1,259.1" fill="none" stroke="#111" stroke-width="1.2" stroke-linejoin="round"/>
<text x="1687.8" y="120.1" font-size="23" font-family="'DejaVu Sans', 'Liberation Sans', sans-serif" textLength="52.1" lengthAdjust="spacingAndGlyphs">54.9</text>
<text x="1545.1" y="150" font-size="24" textLength="167.1" lengthAdjust="spacingAndGlyphs">Mature airway</text>
<text x="1612.6" y="180.9" font-size="24" textLength="99" lengthAdjust="spacingAndGlyphs">epithelia</text>
<text x="1499.8" y="242.6" font-size="24" textLength="206.2" lengthAdjust="spacingAndGlyphs">Progenitor airway</text>
<text x="1606.8" y="273.5" font-size="24" textLength="99.2" lengthAdjust="spacingAndGlyphs">epithelia</text>
<text x="1714.8" y="267.3" font-size="23" font-family="'DejaVu Sans', 'Liberation Sans', sans-serif" textLength="51.9" lengthAdjust="spacingAndGlyphs">34.4</text>
<rect x="1860" y="86.5" width="255" height="255" fill="none" stroke="#3a3a3a" stroke-width="1.6"/>
<text x="1838.5" y="291.4" font-size="13" font-family="'DejaVu Sans', 'Liberation Sans', sans-serif" text-anchor="end">0</text>
<text x="1837.5" y="247.9" font-size="13" font-family="'DejaVu Sans', 'Liberation Sans', sans-serif" text-anchor="end">10</text>
<text x="1847.7" y="238.9" font-size="11" font-family="'DejaVu Sans', 'Liberation Sans', sans-serif" text-anchor="end">3</text>
<text x="1837.5" y="183.4" font-size="13" font-family="'DejaVu Sans', 'Liberation Sans', sans-serif" text-anchor="end">10</text>
<text x="1847.7" y="174.4" font-size="11" font-family="'DejaVu Sans', 'Liberation Sans', sans-serif" text-anchor="end">4</text>
<text x="1837.5" y="118" font-size="13" font-family="'DejaVu Sans', 'Liberation Sans', sans-serif" text-anchor="end">10</text>
<text x="1847.7" y="109" font-size="11" font-family="'DejaVu Sans', 'Liberation Sans', sans-serif" text-anchor="end">5</text>
<text x="1837.5" y="344.9" font-size="13" font-family="'DejaVu Sans', 'Liberation Sans', sans-serif" text-anchor="end">−10</text>
<text x="1847.7" y="335.9" font-size="11" font-family="'DejaVu Sans', 'Liberation Sans', sans-serif" text-anchor="end">3</text>
<text x="1860.5" y="364" font-size="13" font-family="'DejaVu Sans', 'Liberation Sans', sans-serif">0</text>
<text x="1909.3" y="364" font-size="13" font-family="'DejaVu Sans', 'Liberation Sans', sans-serif" text-anchor="middle" letter-spacing="0.7">50K</text>
<text x="1957.6" y="364" font-size="13" font-family="'DejaVu Sans', 'Liberation Sans', sans-serif" text-anchor="middle" letter-spacing="0.7">100K</text>
<text x="2005.9" y="364" font-size="13" font-family="'DejaVu Sans', 'Liberation Sans', sans-serif" text-anchor="middle" letter-spacing="0.7">150K</text>
<text x="2054.2" y="364" font-size="13" font-family="'DejaVu Sans', 'Liberation Sans', sans-serif" text-anchor="middle" letter-spacing="0.7">200K</text>
<text x="2114.5" y="364" font-size="13" font-family="'DejaVu Sans', 'Liberation Sans', sans-serif" text-anchor="end" letter-spacing="0.7">250K</text>
<path d="M1853 286.8h7M1853 238.3h7M1853 173.8h7M1853 108.4h7M1853 335.3h7M1856 279.3h4M1856 272.3h4M1856 266h4M1856 260.4h4M1856 255.6h4M1856 251.3h4M1856 247.5h4M1856 244.1h4M1856 241.1h4M1856 219.3h4M1856 207.9h4M1856 199.8h4M1856 193.5h4M1856 188.3h4M1856 183.9h4M1856 180.2h4M1856 176.8h4M1856 294.3h4M1856 301.3h4M1856 307.6h4M1856 313.2h4M1856 318h4M1856 322.3h4M1856 326.1h4M1856 329.5h4M1856 332.5h4M1856 154.1h4M1856 142.6h4M1856 134.4h4M1856 128.1h4M1856 122.9h4M1856 118.5h4M1856 114.8h4M1856 111.4h4M1856 88.7h4M1856 335.3h4M1861 341.5v7M1909.3 341.5v7M1957.6 341.5v7M2005.9 341.5v7M2054.2 341.5v7M2102.5 341.5v7M1870.7 341.5v3.5M1880.3 341.5v3.5M1890 341.5v3.5M1899.6 341.5v3.5M1919 341.5v3.5M1928.6 341.5v3.5M1938.3 341.5v3.5M1947.9 341.5v3.5M1967.3 341.5v3.5M1976.9 341.5v3.5M1986.6 341.5v3.5M1996.2 341.5v3.5M2015.6 341.5v3.5M2025.2 341.5v3.5M2034.9 341.5v3.5M2044.5 341.5v3.5M2063.9 341.5v3.5M2073.5 341.5v3.5M2083.2 341.5v3.5M2092.8 341.5v3.5M2112.2 341.5v3.5" stroke="#3a3a3a" stroke-width="1.3" fill="none"/>
<text x="1818.8" y="365.3" font-size="26.8" textLength="153.7" lengthAdjust="spacingAndGlyphs" transform="rotate(-90 1818.8 365.3)">BV421-CD31</text>
<polygon points="1810.6,73.9 1822.6,102.4 1810.6,97.9 1798.6,102.4" fill="#000"/>
<line x1="1810.6" y1="95.9" x2="1810.6" y2="203" stroke="#111" stroke-width="1.3"/>
<text x="1847.2" y="401.6" font-size="26.8" textLength="80" lengthAdjust="spacingAndGlyphs">FSC-A</text>
<polygon points="2107.8,395 2079.3,407 2083.8,395 2079.3,383" fill="#000"/>
<line x1="1945.6" y1="395" x2="2085.8" y2="395" stroke="#111" stroke-width="1.3"/>
<rect x="1873.5" y="152.2" width="64.5" height="112.6" fill="none" stroke="#111" stroke-width="1.2"/>
<text x="1883.1" y="120.2" font-size="23" font-family="'DejaVu Sans', 'Liberation Sans', sans-serif" textLength="52.2" lengthAdjust="spacingAndGlyphs">59.4</text>
<text x="1942.2" y="180.5" font-size="24" textLength="131.5" lengthAdjust="spacingAndGlyphs">Endothelial</text>
<text x="1942.2" y="211.8" font-size="24" textLength="54.3" lengthAdjust="spacingAndGlyphs">cells</text>
<rect x="132.5" y="547.6" width="255.5" height="253.9" fill="none" stroke="#3a3a3a" stroke-width="1.6"/>
<text x="120" y="808" font-size="13.6" text-anchor="end" letter-spacing="0.5">0</text>
<text x="120" y="759.7" font-size="13.6" text-anchor="end" letter-spacing="0.5">50K</text>
<text x="120" y="711.4" font-size="13.6" text-anchor="end" letter-spacing="0.5">100K</text>
<text x="120" y="663.1" font-size="13.6" text-anchor="end" letter-spacing="0.5">150K</text>
<text x="120" y="614.8" font-size="13.6" text-anchor="end" letter-spacing="0.5">200K</text>
<text x="120" y="566.5" font-size="13.6" text-anchor="end" letter-spacing="0.5">250K</text>
<text x="133" y="824" font-size="13.6">0</text>
<text x="181.7" y="824" font-size="13.6" text-anchor="middle" letter-spacing="0.5">50K</text>
<text x="229.9" y="824" font-size="13.6" text-anchor="middle" letter-spacing="0.5">100K</text>
<text x="278.1" y="824" font-size="13.6" text-anchor="middle" letter-spacing="0.5">150K</text>
<text x="326.3" y="824" font-size="13.6" text-anchor="middle" letter-spacing="0.5">200K</text>
<text x="387.5" y="824" font-size="13.6" text-anchor="end" letter-spacing="0.5">250K</text>
<path d="M125.5 801h7M125.5 752.7h7M125.5 704.4h7M125.5 656.1h7M125.5 607.8h7M125.5 559.5h7M129 791.3h3.5M129 781.7h3.5M129 772h3.5M129 762.4h3.5M129 743h3.5M129 733.4h3.5M129 723.7h3.5M129 714.1h3.5M129 694.7h3.5M129 685.1h3.5M129 675.4h3.5M129 665.8h3.5M129 646.4h3.5M129 636.8h3.5M129 627.1h3.5M129 617.5h3.5M129 598.1h3.5M129 588.5h3.5M129 578.8h3.5M129 569.2h3.5M129 549.8h3.5M133.5 801.5v7M181.7 801.5v7M229.9 801.5v7M278.1 801.5v7M326.3 801.5v7M374.5 801.5v7M143.1 801.5v3.5M152.8 801.5v3.5M162.4 801.5v3.5M172.1 801.5v3.5M191.3 801.5v3.5M201 801.5v3.5M210.6 801.5v3.5M220.3 801.5v3.5M239.5 801.5v3.5M249.2 801.5v3.5M258.8 801.5v3.5M268.5 801.5v3.5M287.7 801.5v3.5M297.4 801.5v3.5M307 801.5v3.5M316.7 801.5v3.5M335.9 801.5v3.5M345.6 801.5v3.5M355.2 801.5v3.5M364.9 801.5v3.5M384.1 801.5v3.5" stroke="#3a3a3a" stroke-width="1.3" fill="none"/>
<text x="81" y="837.6" font-size="26.8" textLength="80" lengthAdjust="spacingAndGlyphs" transform="rotate(-90 81 837.6)">FSC-H</text>
<polygon points="72,558.4 84,586.9 72,582.4 60,586.9" fill="#000"/>
<line x1="72" y1="580.4" x2="72" y2="748.8" stroke="#111" stroke-width="1.3"/>
<text x="123.5" y="862" font-size="26.8" textLength="81.2" lengthAdjust="spacingAndGlyphs">FSC-A</text>
<polygon points="1755.6,855.6 1727.1,867.6 1731.6,855.6 1727.1,843.6" fill="#000"/>
<line x1="222.6" y1="855.6" x2="1733.6" y2="855.6" stroke="#111" stroke-width="1.3"/>
<polygon points="133.8,799 133.8,779.7 330.7,622.2 357.7,653.6 343.5,662.6 158.3,799.5" fill="none" stroke="#111" stroke-width="1.2" stroke-linejoin="round"/>
<text x="178.8" y="661.3" font-size="23.3" textLength="48.7" lengthAdjust="spacingAndGlyphs">90.3</text>
<rect x="479.3" y="547.2" width="254.7" height="254.8" fill="none" stroke="#3a3a3a" stroke-width="1.6"/>
<text x="457.8" y="771.6" font-size="13.6" text-anchor="end">0</text>
<text x="456.8" y="699.8" font-size="13.6" text-anchor="end">10</text>
<text x="467" y="690.8" font-size="11.6" text-anchor="end">3</text>
<text x="456.8" y="639.9" font-size="13.6" text-anchor="end">10</text>
<text x="467" y="630.9" font-size="11.6" text-anchor="end">4</text>
<text x="456.8" y="579.9" font-size="13.6" text-anchor="end">10</text>
<text x="467" y="570.9" font-size="11.6" text-anchor="end">5</text>
<text x="479.8" y="824.5" font-size="13.6">0</text>
<text x="528.6" y="824.5" font-size="13.6" text-anchor="middle" letter-spacing="0.5">50K</text>
<text x="576.9" y="824.5" font-size="13.6" text-anchor="middle" letter-spacing="0.5">100K</text>
<text x="625.2" y="824.5" font-size="13.6" text-anchor="middle" letter-spacing="0.5">150K</text>
<text x="673.5" y="824.5" font-size="13.6" text-anchor="middle" letter-spacing="0.5">200K</text>
<text x="733.5" y="824.5" font-size="13.6" text-anchor="end" letter-spacing="0.5">250K</text>
<path d="M472.3 767h7M472.3 690.2h7M472.3 630.3h7M472.3 570.3h7M475.3 745h4M475.3 730.6h4M475.3 720.9h4M475.3 713.7h4M475.3 708.1h4M475.3 703.4h4M475.3 699.5h4M475.3 696h4M475.3 693h4M475.3 672.2h4M475.3 661.7h4M475.3 654.2h4M475.3 648.4h4M475.3 643.6h4M475.3 639.6h4M475.3 636.1h4M475.3 633.1h4M475.3 789h4M475.3 612.3h4M475.3 601.7h4M475.3 594.2h4M475.3 588.4h4M475.3 583.6h4M475.3 579.6h4M475.3 576.2h4M475.3 573.1h4M475.3 552.3h4M480.3 802v7M528.6 802v7M576.9 802v7M625.2 802v7M673.5 802v7M721.8 802v7M490 802v3.5M499.6 802v3.5M509.3 802v3.5M518.9 802v3.5M538.3 802v3.5M547.9 802v3.5M557.6 802v3.5M567.2 802v3.5M586.6 802v3.5M596.2 802v3.5M605.9 802v3.5M615.5 802v3.5M634.9 802v3.5M644.5 802v3.5M654.2 802v3.5M663.8 802v3.5M683.2 802v3.5M692.8 802v3.5M702.5 802v3.5M712.1 802v3.5M731.5 802v3.5" stroke="#3a3a3a" stroke-width="1.3" fill="none"/>
<text x="438" y="838.3" font-size="26.8" textLength="201.3" lengthAdjust="spacingAndGlyphs" transform="rotate(-90 438 838.3)">UV450-LiveDead</text>
<polygon points="426.1,545.1 438.1,573.6 426.1,569.1 414.1,573.6" fill="#000"/>
<line x1="426.1" y1="567.1" x2="426.1" y2="627" stroke="#111" stroke-width="1.3"/>
<polygon points="491.6,802 494.7,750.2 562.6,688.8 626.5,679.5 700.6,685.7 700.6,802" fill="none" stroke="#111" stroke-width="1.2" stroke-linejoin="round"/>
<text x="682.8" y="783.5" font-size="23.3" textLength="46.7" lengthAdjust="spacingAndGlyphs">45.2</text>
<rect x="825" y="546.8" width="255" height="254.8" fill="none" stroke="#3a3a3a" stroke-width="1.6"/>
<text x="803.5" y="766.5" font-size="13.6" text-anchor="end">0</text>
<text x="802.5" y="701.1" font-size="13.6" text-anchor="end">10</text>
<text x="812.7" y="692.1" font-size="11.6" text-anchor="end">3</text>
<text x="802.5" y="640.4" font-size="13.6" text-anchor="end">10</text>
<text x="812.7" y="631.4" font-size="11.6" text-anchor="end">4</text>
<text x="802.5" y="579.6" font-size="13.6" text-anchor="end">10</text>
<text x="812.7" y="570.6" font-size="11.6" text-anchor="end">5</text>
<text x="825.5" y="824.1" font-size="13.6">0</text>
<text x="874.3" y="824.1" font-size="13.6" text-anchor="middle" letter-spacing="0.5">50K</text>
<text x="922.6" y="824.1" font-size="13.6" text-anchor="middle" letter-spacing="0.5">100K</text>
<text x="970.9" y="824.1" font-size="13.6" text-anchor="middle" letter-spacing="0.5">150K</text>
<text x="1019.2" y="824.1" font-size="13.6" text-anchor="middle" letter-spacing="0.5">200K</text>
<text x="1079.5" y="824.1" font-size="13.6" text-anchor="end" letter-spacing="0.5">250K</text>
<path d="M818 761.9h7M818 691.5h7M818 630.8h7M818 570h7M821 744.4h4M821 731.4h4M821 722.2h4M821 715.1h4M821 709.5h4M821 704.8h4M821 700.8h4M821 697.4h4M821 694.3h4M821 673.3h4M821 662.6h4M821 655h4M821 649.1h4M821 644.3h4M821 640.2h4M821 636.7h4M821 633.6h4M821 779.4h4M821 792.4h4M821 612.5h4M821 601.8h4M821 594.2h4M821 588.3h4M821 583.5h4M821 579.4h4M821 575.9h4M821 572.8h4M821 551.7h4M826 801.6v7M874.3 801.6v7M922.6 801.6v7M970.9 801.6v7M1019.2 801.6v7M1067.5 801.6v7M835.7 801.6v3.5M845.3 801.6v3.5M855 801.6v3.5M864.6 801.6v3.5M884 801.6v3.5M893.6 801.6v3.5M903.3 801.6v3.5M912.9 801.6v3.5M932.3 801.6v3.5M941.9 801.6v3.5M951.6 801.6v3.5M961.2 801.6v3.5M980.6 801.6v3.5M990.2 801.6v3.5M999.9 801.6v3.5M1009.5 801.6v3.5M1028.9 801.6v3.5M1038.5 801.6v3.5M1048.2 801.6v3.5M1057.8 801.6v3.5M1077.2 801.6v3.5" stroke="#3a3a3a" stroke-width="1.3" fill="none"/>
<text x="782.2" y="838.3" font-size="26.8" textLength="167.4" lengthAdjust="spacingAndGlyphs" transform="rotate(-90 782.2 838.3)">BV510-Ter119</text>
<polygon points="769.9,545.7 781.9,574.2 769.9,569.7 757.9,574.2" fill="#000"/>
<line x1="769.9" y1="567.7" x2="769.9" y2="654.8" stroke="#111" stroke-width="1.3"/>
<polygon points="831.2,651 874.9,650.1 878,685.4 863.8,722 841.9,726.4 830.7,727.8" fill="none" stroke="#111" stroke-width="1.2" stroke-linejoin="round"/>
<polygon points="830.7,727.8 868.7,742 887.9,680 910.2,637.1 1063.6,637.3 1066.3,758.8 1066.3,784.5 831.2,784.5" fill="none" stroke="#111" stroke-width="1.2" stroke-linejoin="round"/>
<text x="848.9" y="611.6" font-size="23.3" textLength="45.6" lengthAdjust="spacingAndGlyphs">19.2</text>
<text x="829.4" y="641.4" font-size="25" textLength="70.4" lengthAdjust="spacingAndGlyphs">RBCs</text>
<text x="1028.9" y="783.5" font-size="23.3" textLength="46.7" lengthAdjust="spacingAndGlyphs">81.2</text>
<rect x="1171.6" y="547.2" width="255.3" height="254.4" fill="none" stroke="#3a3a3a" stroke-width="1.6"/>
<text x="1159.1" y="808" font-size="13.6" text-anchor="end" letter-spacing="0.5">0</text>
<text x="1159.1" y="759.6" font-size="13.6" text-anchor="end" letter-spacing="0.5">50K</text>
<text x="1159.1" y="711.2" font-size="13.6" text-anchor="end" letter-spacing="0.5">100K</text>
<text x="1159.1" y="662.8" font-size="13.6" text-anchor="end" letter-spacing="0.5">150K</text>
<text x="1159.1" y="614.4" font-size="13.6" text-anchor="end" letter-spacing="0.5">200K</text>
<text x="1159.1" y="566" font-size="13.6" text-anchor="end" letter-spacing="0.5">250K</text>
<text x="1172.1" y="824.1" font-size="13.6">0</text>
<text x="1220.3" y="824.1" font-size="13.6" text-anchor="middle" letter-spacing="0.5">50K</text>
<text x="1268.6" y="824.1" font-size="13.6" text-anchor="middle" letter-spacing="0.5">100K</text>
<text x="1316.9" y="824.1" font-size="13.6" text-anchor="middle" letter-spacing="0.5">150K</text>
<text x="1365.2" y="824.1" font-size="13.6" text-anchor="middle" letter-spacing="0.5">200K</text>
<text x="1426.4" y="824.1" font-size="13.6" text-anchor="end" letter-spacing="0.5">250K</text>
<path d="M1164.6 801h7M1164.6 752.6h7M1164.6 704.2h7M1164.6 655.8h7M1164.6 607.4h7M1164.6 559h7M1168.1 791.3h3.5M1168.1 781.6h3.5M1168.1 772h3.5M1168.1 762.3h3.5M1168.1 742.9h3.5M1168.1 733.2h3.5M1168.1 723.6h3.5M1168.1 713.9h3.5M1168.1 694.5h3.5M1168.1 684.8h3.5M1168.1 675.2h3.5M1168.1 665.5h3.5M1168.1 646.1h3.5M1168.1 636.4h3.5M1168.1 626.8h3.5M1168.1 617.1h3.5M1168.1 597.7h3.5M1168.1 588h3.5M1168.1 578.4h3.5M1168.1 568.7h3.5M1168.1 549.3h3.5M1172 801.6v7M1220.3 801.6v7M1268.6 801.6v7M1316.9 801.6v7M1365.2 801.6v7M1413.5 801.6v7M1181.7 801.6v3.5M1191.3 801.6v3.5M1201 801.6v3.5M1210.6 801.6v3.5M1230 801.6v3.5M1239.6 801.6v3.5M1249.3 801.6v3.5M1258.9 801.6v3.5M1278.3 801.6v3.5M1287.9 801.6v3.5M1297.6 801.6v3.5M1307.2 801.6v3.5M1326.6 801.6v3.5M1336.2 801.6v3.5M1345.9 801.6v3.5M1355.5 801.6v3.5M1374.9 801.6v3.5M1384.5 801.6v3.5M1394.2 801.6v3.5M1403.8 801.6v3.5M1423.2 801.6v3.5" stroke="#3a3a3a" stroke-width="1.3" fill="none"/>
<text x="1124.3" y="838.3" font-size="26.8" textLength="80.9" lengthAdjust="spacingAndGlyphs" transform="rotate(-90 1124.3 838.3)">SSC-A</text>
<polygon points="1109.8,545.7 1121.8,574.2 1109.8,569.7 1097.8,574.2" fill="#000"/>
<line x1="1109.8" y1="567.7" x2="1109.8" y2="752.6" stroke="#111" stroke-width="1.3"/>
<polygon points="1210.7,777.3 1240.6,714.5 1331.2,704.2 1371.3,739.3 1319.8,788.7 1228.2,801" fill="none" stroke="#111" stroke-width="1.2" stroke-linejoin="round"/>
<text x="1376.3" y="783.5" font-size="23.3" textLength="45.5" lengthAdjust="spacingAndGlyphs">71.6</text>
<rect x="1517.8" y="547.3" width="255.2" height="254.9" fill="none" stroke="#3a3a3a" stroke-width="1.6"/>
<text x="1496.3" y="770.2" font-size="13.6" text-anchor="end">0</text>
<text x="1495.3" y="699.6" font-size="13.6" text-anchor="end">10</text>
<text x="1505.5" y="690.6" font-size="11.6" text-anchor="end">3</text>
<text x="1495.3" y="639.9" font-size="13.6" text-anchor="end">10</text>
<text x="1505.5" y="630.9" font-size="11.6" text-anchor="end">4</text>
<text x="1495.3" y="580.1" font-size="13.6" text-anchor="end">10</text>
<text x="1505.5" y="571.1" font-size="11.6" text-anchor="end">5</text>
<text x="1518.3" y="824.7" font-size="13.6">0</text>
<text x="1566.6" y="824.7" font-size="13.6" text-anchor="middle" letter-spacing="0.5">50K</text>
<text x="1614.8" y="824.7" font-size="13.6" text-anchor="middle" letter-spacing="0.5">100K</text>
<text x="1663" y="824.7" font-size="13.6" text-anchor="middle" letter-spacing="0.5">150K</text>
<text x="1711.2" y="824.7" font-size="13.6" text-anchor="middle" letter-spacing="0.5">200K</text>
<text x="1772.5" y="824.7" font-size="13.6" text-anchor="end" letter-spacing="0.5">250K</text>
<path d="M1510.8 765.6h7M1510.8 690h7M1510.8 630.3h7M1510.8 570.5h7M1513.8 744.3h4M1513.8 730.1h4M1513.8 720.5h4M1513.8 713.4h4M1513.8 707.8h4M1513.8 703.1h4M1513.8 699.2h4M1513.8 695.8h4M1513.8 692.7h4M1513.8 672.1h4M1513.8 661.5h4M1513.8 654.1h4M1513.8 648.3h4M1513.8 643.5h4M1513.8 639.5h4M1513.8 636.1h4M1513.8 633h4M1513.8 786.9h4M1513.8 801.1h4M1513.8 612.3h4M1513.8 601.7h4M1513.8 594.3h4M1513.8 588.5h4M1513.8 583.7h4M1513.8 579.7h4M1513.8 576.3h4M1513.8 573.2h4M1513.8 552.5h4M1518.4 802.2v7M1566.6 802.2v7M1614.8 802.2v7M1663 802.2v7M1711.2 802.2v7M1759.4 802.2v7M1528 802.2v3.5M1537.7 802.2v3.5M1547.3 802.2v3.5M1557 802.2v3.5M1576.2 802.2v3.5M1585.9 802.2v3.5M1595.5 802.2v3.5M1605.2 802.2v3.5M1624.4 802.2v3.5M1634.1 802.2v3.5M1643.7 802.2v3.5M1653.4 802.2v3.5M1672.6 802.2v3.5M1682.3 802.2v3.5M1691.9 802.2v3.5M1701.6 802.2v3.5M1720.8 802.2v3.5M1730.5 802.2v3.5M1740.1 802.2v3.5M1749.8 802.2v3.5M1769 802.2v3.5" stroke="#3a3a3a" stroke-width="1.3" fill="none"/>
<text x="1474.5" y="838.9" font-size="26.8" textLength="289.9" lengthAdjust="spacingAndGlyphs" transform="rotate(-90 1474.5 838.9)">APC- CD3/CD19/NK1.1</text>
<polygon points="1464.9,523.7 1476.9,552.2 1464.9,547.7 1452.9,552.2" fill="#000"/>
<rect x="1526.6" y="661.6" width="218.7" height="140.4" fill="none" stroke="#111" stroke-width="1.2"/>
<text x="1586.6" y="574.1" font-size="24" textLength="169.1" lengthAdjust="spacingAndGlyphs">Lineage dump</text>
<text x="1721.4" y="783" font-size="23.3" textLength="46.6" lengthAdjust="spacingAndGlyphs">82.7</text>
<rect x="132.6" y="923.7" width="255.3" height="255.3" fill="none" stroke="#3a3a3a" stroke-width="1.6"/>
<text x="111.1" y="1137.2" font-size="13.6" text-anchor="end">0</text>
<text x="110.1" y="1080.3" font-size="13.6" text-anchor="end">10</text>
<text x="120.3" y="1071.3" font-size="11.6" text-anchor="end">3</text>
<text x="110.1" y="1018.4" font-size="13.6" text-anchor="end">10</text>
<text x="120.3" y="1009.4" font-size="11.6" text-anchor="end">4</text>
<text x="110.1" y="956.3" font-size="13.6" text-anchor="end">10</text>
<text x="120.3" y="947.3" font-size="11.6" text-anchor="end">5</text>
<text x="173.4" y="1207.8" font-size="13.6" text-anchor="middle">0</text>
<text x="241.5" y="1207.8" font-size="13.6">10</text>
<text x="258.5" y="1198.5" font-size="11.6">3</text>
<text x="301.2" y="1207.8" font-size="13.6">10</text>
<text x="318.2" y="1198.5" font-size="11.6">4</text>
<text x="361.1" y="1207.8" font-size="13.6">10</text>
<text x="378.1" y="1198.5" font-size="11.6">5</text>
<path d="M125.6 1132.6h7M125.6 1070.7h7M125.6 1008.8h7M125.6 946.7h7M128.6 1119.9h4M128.6 1109.2h4M128.6 1100.8h4M128.6 1094.1h4M128.6 1088.7h4M128.6 1084.1h4M128.6 1080.1h4M128.6 1076.6h4M128.6 1073.5h4M128.6 1052.2h4M128.6 1041.3h4M128.6 1033.6h4M128.6 1027.6h4M128.6 1022.6h4M128.6 1018.5h4M128.6 1014.9h4M128.6 1011.7h4M128.6 1145.3h4M128.6 1156h4M128.6 1164.4h4M128.6 1171.1h4M128.6 1176.5h4M128.6 990.1h4M128.6 979.2h4M128.6 971.4h4M128.6 965.4h4M128.6 960.5h4M128.6 956.3h4M128.6 952.7h4M128.6 949.5h4M128.6 928h4M173.4 1179v7M244 1179v7M303.7 1179v7M363.6 1179v7M191.5 1179v4M204.6 1179v4M213.8 1179v4M220.8 1179v4M226.4 1179v4M231 1179v4M234.9 1179v4M238.3 1179v4M241.3 1179v4M262 1179v4M272.5 1179v4M279.9 1179v4M285.7 1179v4M290.5 1179v4M294.5 1179v4M297.9 1179v4M301 1179v4M155.3 1179v4M142.2 1179v4M321.8 1179v4M332.3 1179v4M339.8 1179v4M345.6 1179v4M350.3 1179v4M354.3 1179v4M357.8 1179v4M360.8 1179v4M381.6 1179v4" stroke="#3a3a3a" stroke-width="1.3" fill="none"/>
<text x="81.2" y="1218.3" font-size="26.8" textLength="169.4" lengthAdjust="spacingAndGlyphs" transform="rotate(-90 81.2 1218.3)">BV711-MHC-II</text>
<polygon points="71.9,937 83.9,965.5 71.9,961 59.9,965.5" fill="#000"/>
<line x1="71.9" y1="959" x2="71.9" y2="1040" stroke="#111" stroke-width="1.3"/>
<text x="125.2" y="1242.8" font-size="26.8" textLength="168.4" lengthAdjust="spacingAndGlyphs">BV605-CD11c</text>
<polygon points="373.5,1235.6 345,1247.6 349.5,1235.6 345,1223.6" fill="#000"/>
<line x1="297.3" y1="1235.6" x2="351.5" y2="1235.6" stroke="#111" stroke-width="1.3"/>
<rect x="209.8" y="930.9" width="133.2" height="71" fill="none" stroke="#111" stroke-width="1.2"/>
<text x="135.6" y="956.6" font-size="23.3" textLength="47.5" lengthAdjust="spacingAndGlyphs">4.57</text>
<text x="293.7" y="1028.7" font-size="24" textLength="65.5" lengthAdjust="spacingAndGlyphs">cDCs</text>
<rect x="479.3" y="923.7" width="254.7" height="255.3" fill="none" stroke="#3a3a3a" stroke-width="1.6"/>
<text x="457.8" y="1146.5" font-size="13.6" text-anchor="end">0</text>
<text x="456.8" y="1076.4" font-size="13.6" text-anchor="end">10</text>
<text x="467" y="1067.4" font-size="11.6" text-anchor="end">3</text>
<text x="456.8" y="1016.6" font-size="13.6" text-anchor="end">10</text>
<text x="467" y="1007.6" font-size="11.6" text-anchor="end">4</text>
<text x="456.8" y="956.8" font-size="13.6" text-anchor="end">10</text>
<text x="467" y="947.8" font-size="11.6" text-anchor="end">5</text>
<text x="536.9" y="1207.8" font-size="13.6" text-anchor="middle">0</text>
<text x="579.5" y="1207.8" font-size="13.6">10</text>
<text x="596.5" y="1198.5" font-size="11.6">3</text>
<text x="643.2" y="1207.8" font-size="13.6">10</text>
<text x="660.2" y="1198.5" font-size="11.6">4</text>
<text x="708" y="1207.8" font-size="13.6">10</text>
<text x="725" y="1198.5" font-size="11.6">5</text>
<text x="479.3" y="1207.8" font-size="13.6">−10</text>
<text x="502.8" y="1198.5" font-size="11.6">3</text>
<path d="M472.3 1141.9h7M472.3 1066.8h7M472.3 1007h7M472.3 947.2h7M475.3 1120.9h4M475.3 1106.8h4M475.3 1097.3h4M475.3 1090.2h4M475.3 1084.5h4M475.3 1079.9h4M475.3 1075.9h4M475.3 1072.5h4M475.3 1069.5h4M475.3 1048.8h4M475.3 1038.3h4M475.3 1030.8h4M475.3 1025h4M475.3 1020.3h4M475.3 1016.3h4M475.3 1012.8h4M475.3 1009.8h4M475.3 1162.9h4M475.3 1177h4M475.3 989h4M475.3 978.5h4M475.3 971h4M475.3 965.2h4M475.3 960.5h4M475.3 956.5h4M475.3 953h4M475.3 950h4M475.3 929.2h4M536.9 1179v7M582 1179v7M645.7 1179v7M710.5 1179v7M491.8 1179v7M543.5 1179v4M549.9 1179v4M555.6 1179v4M560.8 1179v4M565.3 1179v4M569.4 1179v4M573.1 1179v4M576.3 1179v4M579.3 1179v4M600.7 1179v4M611.9 1179v4M619.9 1179v4M626.2 1179v4M631.3 1179v4M635.6 1179v4M639.4 1179v4M642.7 1179v4M530.3 1179v4M523.9 1179v4M518.2 1179v4M513 1179v4M508.5 1179v4M504.4 1179v4M500.7 1179v4M497.5 1179v4M494.5 1179v4M665.2 1179v4M676.6 1179v4M684.7 1179v4M690.9 1179v4M696.1 1179v4M700.4 1179v4M704.2 1179v4M707.5 1179v4M730 1179v4M491.8 1179v4" stroke="#3a3a3a" stroke-width="1.3" fill="none"/>
<text x="438" y="1218.3" font-size="26.8" textLength="148.8" lengthAdjust="spacingAndGlyphs" transform="rotate(-90 438 1218.3)">BV785-Ly6C</text>
<polygon points="426.1,925.7 438.1,954.2 426.1,949.7 414.1,954.2" fill="#000"/>
<line x1="426.1" y1="947.7" x2="426.1" y2="1060.6" stroke="#111" stroke-width="1.3"/>
<text x="483.1" y="1242.8" font-size="26.8" textLength="169.5" lengthAdjust="spacingAndGlyphs">BV421-CD11b</text>
<polygon points="732.5,1235.6 704,1247.6 708.5,1235.6 704,1223.6" fill="#000"/>
<line x1="656.3" y1="1235.6" x2="710.5" y2="1235.6" stroke="#111" stroke-width="1.3"/>
<rect x="506.6" y="991.6" width="83.8" height="177.7" fill="none" stroke="#111" stroke-width="1.2"/>
<rect x="590.4" y="955.6" width="87.1" height="124.5" fill="none" stroke="#111" stroke-width="1.2"/>
<text x="495.1" y="956" font-size="23.3" textLength="44.3" lengthAdjust="spacingAndGlyphs">14.1</text>
<text x="682.5" y="956" font-size="23.3" textLength="47.6" lengthAdjust="spacingAndGlyphs">83.5</text>
<text x="626.3" y="1104.8" font-size="24" textLength="61.1" lengthAdjust="spacingAndGlyphs">Ly6C</text>
<text x="687.1" y="1086.3" font-size="14" textLength="29.6" lengthAdjust="spacingAndGlyphs">high</text>
<text x="607.8" y="1134.7" font-size="24" textLength="127.9" lengthAdjust="spacingAndGlyphs">monocytes</text>
<rect x="825" y="923.7" width="255" height="255.3" fill="none" stroke="#3a3a3a" stroke-width="1.6"/>
<text x="803.5" y="1125.9" font-size="13.6" text-anchor="end">0</text>
<text x="802.5" y="1086.4" font-size="13.6" text-anchor="end">10</text>
<text x="812.7" y="1077.4" font-size="11.6" text-anchor="end">3</text>
<text x="802.5" y="1021.7" font-size="13.6" text-anchor="end">10</text>
<text x="812.7" y="1012.7" font-size="11.6" text-anchor="end">4</text>
<text x="802.5" y="955.8" font-size="13.6" text-anchor="end">10</text>
<text x="812.7" y="946.8" font-size="11.6" text-anchor="end">5</text>
<text x="802.5" y="1175.4" font-size="13.6" text-anchor="end">−10</text>
<text x="812.7" y="1166.4" font-size="11.6" text-anchor="end">3</text>
<text x="865.6" y="1207.8" font-size="13.6" text-anchor="middle">0</text>
<text x="933.6" y="1207.8" font-size="13.6">10</text>
<text x="950.6" y="1198.5" font-size="11.6">3</text>
<text x="993.7" y="1207.8" font-size="13.6">10</text>
<text x="1010.7" y="1198.5" font-size="11.6">4</text>
<text x="1054.1" y="1207.8" font-size="13.6">10</text>
<text x="1071.1" y="1198.5" font-size="11.6">5</text>
<path d="M818 1121.3h7M818 1076.8h7M818 1012.1h7M818 946.2h7M818 1165.8h7M821 1114.9h4M821 1108.8h4M821 1103.1h4M821 1098.1h4M821 1093.5h4M821 1089.5h4M821 1085.8h4M821 1082.5h4M821 1079.5h4M821 1057.9h4M821 1046.5h4M821 1038.3h4M821 1031.9h4M821 1026.7h4M821 1022.3h4M821 1018.5h4M821 1015.1h4M821 1127.7h4M821 1133.8h4M821 1139.5h4M821 1144.5h4M821 1149.1h4M821 1153.1h4M821 1156.8h4M821 1160.1h4M821 1163.1h4M821 992.3h4M821 980.7h4M821 972.4h4M821 966h4M821 960.8h4M821 956.4h4M821 952.5h4M821 949.2h4M821 926.3h4M821 1165.8h4M865.6 1179v7M936.1 1179v7M996.2 1179v7M1056.6 1179v7M883.4 1179v4M896.4 1179v4M905.7 1179v4M912.7 1179v4M918.3 1179v4M922.9 1179v4M926.8 1179v4M930.3 1179v4M933.3 1179v4M954.1 1179v4M964.7 1179v4M972.3 1179v4M978.1 1179v4M982.9 1179v4M986.9 1179v4M990.4 1179v4M993.5 1179v4M847.8 1179v4M834.8 1179v4M1014.4 1179v4M1025 1179v4M1032.6 1179v4M1038.4 1179v4M1043.2 1179v4M1047.2 1179v4M1050.7 1179v4M1053.8 1179v4M1074.7 1179v4" stroke="#3a3a3a" stroke-width="1.3" fill="none"/>
<text x="782.2" y="1219.3" font-size="26.8" textLength="215.7" lengthAdjust="spacingAndGlyphs" transform="rotate(-90 782.2 1219.3)">APC-Cy7-Siglec F</text>
<polygon points="769.9,925.7 781.9,954.2 769.9,949.7 757.9,954.2" fill="#000"/>
<line x1="769.9" y1="947.7" x2="769.9" y2="996.8" stroke="#111" stroke-width="1.3"/>
<text x="824.1" y="1242.8" font-size="26.8" textLength="169.5" lengthAdjust="spacingAndGlyphs">BV605-CD11c</text>
<polygon points="1073.5,1235.6 1045,1247.6 1049.5,1235.6 1045,1223.6" fill="#000"/>
<line x1="996.3" y1="1235.6" x2="1051.5" y2="1235.6" stroke="#111" stroke-width="1.3"/>
<polygon points="831.6,1008.1 933.5,1000.9 941.3,1049.9 919,1064.7 832.2,1092.5" fill="none" stroke="#111" stroke-width="1.2" stroke-linejoin="round"/>
<polygon points="837.8,1093.5 953.1,1060.6 1021,1086.3 1025.7,1161.4 837.8,1164.5" fill="none" stroke="#111" stroke-width="1.2" stroke-linejoin="round"/>
<polygon points="972.6,1005 1019,961.8 1025.7,1030.7 1010.7,1062.6 980.9,1055.4" fill="none" stroke="#111" stroke-width="1.2" stroke-linejoin="round"/>
<text x="842.8" y="956" font-size="23.3" textLength="46.1" lengthAdjust="spacingAndGlyphs">17.6</text>
<text x="957" y="956" font-size="23.3" textLength="46.6" lengthAdjust="spacingAndGlyphs">1.45</text>
<text x="827.3" y="994.7" font-size="24" textLength="137.3" lengthAdjust="spacingAndGlyphs">Eosinophils</text>
<text x="1020.8" y="984" font-size="24" textLength="54.9" lengthAdjust="spacingAndGlyphs">AMs</text>
<text x="1030.1" y="1154.2" font-size="23.3" textLength="45.5" lengthAdjust="spacingAndGlyphs">75.5</text>
<rect x="1172" y="923.7" width="254.9" height="255.3" fill="none" stroke="#3a3a3a" stroke-width="1.6"/>
<text x="1159.5" y="1185.3" font-size="13.6" text-anchor="end" letter-spacing="0.5">0</text>
<text x="1159.5" y="1136.8" font-size="13.6" text-anchor="end" letter-spacing="0.5">50K</text>
<text x="1159.5" y="1088.4" font-size="13.6" text-anchor="end" letter-spacing="0.5">100K</text>
<text x="1159.5" y="1039.9" font-size="13.6" text-anchor="end" letter-spacing="0.5">150K</text>
<text x="1159.5" y="991.5" font-size="13.6" text-anchor="end" letter-spacing="0.5">200K</text>
<text x="1159.5" y="943" font-size="13.6" text-anchor="end" letter-spacing="0.5">250K</text>
<text x="1231.3" y="1207.8" font-size="13.6" text-anchor="middle">0</text>
<text x="1270.3" y="1207.8" font-size="13.6">10</text>
<text x="1287.3" y="1198.5" font-size="11.6">3</text>
<text x="1334.9" y="1207.8" font-size="13.6">10</text>
<text x="1351.9" y="1198.5" font-size="11.6">4</text>
<text x="1401.1" y="1207.8" font-size="13.6">10</text>
<text x="1418.1" y="1198.5" font-size="11.6">5</text>
<text x="1177.3" y="1207.8" font-size="13.6">−10</text>
<text x="1200.8" y="1198.5" font-size="11.6">3</text>
<path d="M1165 1178.3h7M1165 1129.8h7M1165 1081.4h7M1165 1032.9h7M1165 984.5h7M1165 936h7M1168.5 1168.6h3.5M1168.5 1158.9h3.5M1168.5 1149.2h3.5M1168.5 1139.5h3.5M1168.5 1120.1h3.5M1168.5 1110.5h3.5M1168.5 1100.8h3.5M1168.5 1091.1h3.5M1168.5 1071.7h3.5M1168.5 1062h3.5M1168.5 1052.3h3.5M1168.5 1042.6h3.5M1168.5 1023.2h3.5M1168.5 1013.5h3.5M1168.5 1003.8h3.5M1168.5 994.2h3.5M1168.5 974.8h3.5M1168.5 965.1h3.5M1168.5 955.4h3.5M1168.5 945.7h3.5M1168.5 926.3h3.5M1231.3 1179v7M1272.8 1179v7M1337.4 1179v7M1403.6 1179v7M1189.8 1179v7M1237 1179v4M1242.5 1179v4M1247.6 1179v4M1252.3 1179v4M1256.6 1179v4M1260.5 1179v4M1264 1179v4M1267.2 1179v4M1270.1 1179v4M1291.5 1179v4M1302.9 1179v4M1311.1 1179v4M1317.5 1179v4M1322.7 1179v4M1327.1 1179v4M1331 1179v4M1334.4 1179v4M1225.6 1179v4M1220.1 1179v4M1215 1179v4M1210.3 1179v4M1206 1179v4M1202.1 1179v4M1198.6 1179v4M1195.4 1179v4M1192.5 1179v4M1357.3 1179v4M1369 1179v4M1377.3 1179v4M1383.7 1179v4M1388.9 1179v4M1393.4 1179v4M1397.2 1179v4M1400.6 1179v4M1423.6 1179v4M1189.8 1179v4" stroke="#3a3a3a" stroke-width="1.3" fill="none"/>
<text x="1121.2" y="1218.3" font-size="26.8" textLength="78.8" lengthAdjust="spacingAndGlyphs" transform="rotate(-90 1121.2 1218.3)">FSC-A</text>
<polygon points="1112.9,925.7 1124.9,954.2 1112.9,949.7 1100.9,954.2" fill="#000"/>
<line x1="1112.9" y1="947.7" x2="1112.9" y2="1134.7" stroke="#111" stroke-width="1.3"/>
<text x="1163.1" y="1242.8" font-size="26.8" textLength="143.7" lengthAdjust="spacingAndGlyphs">PE-Siglec H</text>
<polygon points="1412.5,1235.6 1384,1247.6 1388.5,1235.6 1384,1223.6" fill="#000"/>
<line x1="1311.6" y1="1235.6" x2="1390.5" y2="1235.6" stroke="#111" stroke-width="1.3"/>
<rect x="1182.3" y="961.3" width="94.9" height="195.6" fill="none" stroke="#111" stroke-width="1.2"/>
<rect x="1284.4" y="1036.5" width="86.3" height="106.8" fill="none" stroke="#111" stroke-width="1.2"/>
<text x="1175.6" y="956" font-size="23.3" textLength="46.5" lengthAdjust="spacingAndGlyphs">99.1</text>
<text x="1296" y="1023.1" font-size="24" textLength="66.2" lengthAdjust="spacingAndGlyphs">pDCs</text>
<text x="1362.5" y="1159" font-size="23.3" textLength="47" lengthAdjust="spacingAndGlyphs">0.82</text>
<rect x="1517.8" y="923.6" width="255.2" height="254.9" fill="none" stroke="#3a3a3a" stroke-width="1.6"/>
<text x="1496.3" y="1130.6" font-size="13.6" text-anchor="end">0</text>
<text x="1495.3" y="1085.2" font-size="13.6" text-anchor="end">10</text>
<text x="1505.5" y="1076.2" font-size="11.6" text-anchor="end">3</text>
<text x="1495.3" y="1020.9" font-size="13.6" text-anchor="end">10</text>
<text x="1505.5" y="1011.9" font-size="11.6" text-anchor="end">4</text>
<text x="1495.3" y="955.7" font-size="13.6" text-anchor="end">10</text>
<text x="1505.5" y="946.7" font-size="11.6" text-anchor="end">5</text>
<text x="1495.3" y="1186" font-size="13.6" text-anchor="end">−10</text>
<text x="1505.5" y="1177" font-size="11.6" text-anchor="end">3</text>
<text x="1557.9" y="1207.3" font-size="13.6" text-anchor="middle">0</text>
<text x="1627.1" y="1207.3" font-size="13.6">10</text>
<text x="1644.1" y="1198" font-size="11.6">3</text>
<text x="1686.8" y="1207.3" font-size="13.6">10</text>
<text x="1703.8" y="1198" font-size="11.6">4</text>
<text x="1746.6" y="1207.3" font-size="13.6">10</text>
<text x="1763.6" y="1198" font-size="11.6">5</text>
<path d="M1510.8 1126h7M1510.8 1075.6h7M1510.8 1011.3h7M1510.8 946.1h7M1510.8 1176.4h7M1513.8 1117.9h4M1513.8 1110.4h4M1513.8 1103.8h4M1513.8 1098.1h4M1513.8 1093.1h4M1513.8 1088.7h4M1513.8 1084.9h4M1513.8 1081.4h4M1513.8 1078.4h4M1513.8 1056.6h4M1513.8 1045.2h4M1513.8 1037.1h4M1513.8 1030.8h4M1513.8 1025.7h4M1513.8 1021.3h4M1513.8 1017.6h4M1513.8 1014.2h4M1513.8 1134.1h4M1513.8 1141.6h4M1513.8 1148.2h4M1513.8 1153.9h4M1513.8 1158.9h4M1513.8 1163.3h4M1513.8 1167.1h4M1513.8 1170.6h4M1513.8 1173.6h4M1513.8 991.7h4M1513.8 980.2h4M1513.8 972.1h4M1513.8 965.7h4M1513.8 960.6h4M1513.8 956.2h4M1513.8 952.5h4M1513.8 949.1h4M1513.8 926.5h4M1513.8 1176.4h4M1557.9 1178.5v7M1629.6 1178.5v7M1689.3 1178.5v7M1749.1 1178.5v7M1576.7 1178.5v4M1590 1178.5v4M1599.4 1178.5v4M1606.4 1178.5v4M1611.9 1178.5v4M1616.6 1178.5v4M1620.5 1178.5v4M1623.9 1178.5v4M1626.9 1178.5v4M1647.6 1178.5v4M1658.1 1178.5v4M1665.5 1178.5v4M1671.3 1178.5v4M1676.1 1178.5v4M1680.1 1178.5v4M1683.5 1178.5v4M1686.6 1178.5v4M1539.1 1178.5v4M1525.8 1178.5v4M1707.3 1178.5v4M1717.8 1178.5v4M1725.3 1178.5v4M1731.1 1178.5v4M1735.8 1178.5v4M1739.8 1178.5v4M1743.3 1178.5v4M1746.4 1178.5v4M1767.1 1178.5v4" stroke="#3a3a3a" stroke-width="1.3" fill="none"/>
<text x="1472.5" y="1216.9" font-size="26.8" textLength="167.4" lengthAdjust="spacingAndGlyphs" transform="rotate(-90 1472.5 1216.9)">BV421-CD11b</text>
<polygon points="1464.9,926.3 1476.9,954.8 1464.9,950.3 1452.9,954.8" fill="#000"/>
<line x1="1464.9" y1="948.3" x2="1464.9" y2="1037.5" stroke="#111" stroke-width="1.3"/>
<text x="1506.7" y="1241.3" font-size="26.8" textLength="129.8" lengthAdjust="spacingAndGlyphs">FITC-Ly6G</text>
<polygon points="1755.6,1235.1 1727.1,1247.1 1731.6,1235.1 1727.1,1223.1" fill="#000"/>
<line x1="1644.4" y1="1235.1" x2="1733.6" y2="1235.1" stroke="#111" stroke-width="1.3"/>
<polygon points="1522.9,952.5 1646.5,949.6 1621.3,1133.2 1616,1148 1524,1148" fill="none" stroke="#111" stroke-width="1.2" stroke-linejoin="round"/>
<polygon points="1654.7,968.9 1705.1,949 1701.6,1029.3 1659.8,1080.7 1635.7,1024.1" fill="none" stroke="#111" stroke-width="1.2" stroke-linejoin="round"/>
<text x="1720.4" y="981.9" font-size="23.3" textLength="48.2" lengthAdjust="spacingAndGlyphs">29.8</text>
<text x="1633.9" y="1105.4" font-size="24" textLength="135.2" lengthAdjust="spacingAndGlyphs">Neutrophils</text>
<text x="1585.1" y="1158.9" font-size="23.3" textLength="47.6" lengthAdjust="spacingAndGlyphs">69.0</text>
<rect x="133.3" y="1392.2" width="254.7" height="253.7" fill="none" stroke="#3a3a3a" stroke-width="1.6"/>
<text x="120.8" y="1651.6" font-size="13" font-family="'DejaVu Sans', 'Liberation Sans', sans-serif" text-anchor="end" letter-spacing="0.7">0</text>
<text x="120.8" y="1603.6" font-size="13" font-family="'DejaVu Sans', 'Liberation Sans', sans-serif" text-anchor="end" letter-spacing="0.7">50K</text>
<text x="120.8" y="1555.6" font-size="13" font-family="'DejaVu Sans', 'Liberation Sans', sans-serif" text-anchor="end" letter-spacing="0.7">100K</text>
<text x="120.8" y="1507.6" font-size="13" font-family="'DejaVu Sans', 'Liberation Sans', sans-serif" text-anchor="end" letter-spacing="0.7">150K</text>
<text x="120.8" y="1459.6" font-size="13" font-family="'DejaVu Sans', 'Liberation Sans', sans-serif" text-anchor="end" letter-spacing="0.7">200K</text>
<text x="120.8" y="1411.6" font-size="13" font-family="'DejaVu Sans', 'Liberation Sans', sans-serif" text-anchor="end" letter-spacing="0.7">250K</text>
<text x="133.8" y="1668.4" font-size="13" font-family="'DejaVu Sans', 'Liberation Sans', sans-serif">0</text>
<text x="182.1" y="1668.4" font-size="13" font-family="'DejaVu Sans', 'Liberation Sans', sans-serif" text-anchor="middle" letter-spacing="0.7">50K</text>
<text x="230.4" y="1668.4" font-size="13" font-family="'DejaVu Sans', 'Liberation Sans', sans-serif" text-anchor="middle" letter-spacing="0.7">100K</text>
<text x="278.7" y="1668.4" font-size="13" font-family="'DejaVu Sans', 'Liberation Sans', sans-serif" text-anchor="middle" letter-spacing="0.7">150K</text>
<text x="327" y="1668.4" font-size="13" font-family="'DejaVu Sans', 'Liberation Sans', sans-serif" text-anchor="middle" letter-spacing="0.7">200K</text>
<text x="387.5" y="1668.4" font-size="13" font-family="'DejaVu Sans', 'Liberation Sans', sans-serif" text-anchor="end" letter-spacing="0.7">250K</text>
<path d="M126.3 1644.6h7M126.3 1596.6h7M126.3 1548.6h7M126.3 1500.6h7M126.3 1452.6h7M126.3 1404.6h7M129.8 1635h3.5M129.8 1625.4h3.5M129.8 1615.8h3.5M129.8 1606.2h3.5M129.8 1587h3.5M129.8 1577.4h3.5M129.8 1567.8h3.5M129.8 1558.2h3.5M129.8 1539h3.5M129.8 1529.4h3.5M129.8 1519.8h3.5M129.8 1510.2h3.5M129.8 1491h3.5M129.8 1481.4h3.5M129.8 1471.8h3.5M129.8 1462.2h3.5M129.8 1443h3.5M129.8 1433.4h3.5M129.8 1423.8h3.5M129.8 1414.2h3.5M129.8 1395h3.5M133.8 1645.9v7M182.1 1645.9v7M230.4 1645.9v7M278.7 1645.9v7M327 1645.9v7M375.3 1645.9v7M143.5 1645.9v3.5M153.1 1645.9v3.5M162.8 1645.9v3.5M172.4 1645.9v3.5M191.8 1645.9v3.5M201.4 1645.9v3.5M211.1 1645.9v3.5M220.7 1645.9v3.5M240.1 1645.9v3.5M249.7 1645.9v3.5M259.4 1645.9v3.5M269 1645.9v3.5M288.4 1645.9v3.5M298 1645.9v3.5M307.7 1645.9v3.5M317.3 1645.9v3.5M336.7 1645.9v3.5M346.3 1645.9v3.5M356 1645.9v3.5M365.6 1645.9v3.5M385 1645.9v3.5" stroke="#3a3a3a" stroke-width="1.3" fill="none"/>
<text x="80.5" y="1669.6" font-size="26.8" textLength="81.2" lengthAdjust="spacingAndGlyphs" transform="rotate(-90 80.5 1669.6)">FSC-H</text>
<polygon points="69.5,1378.8 81.5,1407.3 69.5,1402.8 57.5,1407.3" fill="#000"/>
<line x1="69.5" y1="1400.8" x2="69.5" y2="1569.2" stroke="#111" stroke-width="1.3"/>
<text x="122.2" y="1701.7" font-size="26.8" textLength="79.9" lengthAdjust="spacingAndGlyphs">FSC-A</text>
<polygon points="1087.9,1696.1 1059.4,1708.1 1063.9,1696.1 1059.4,1684.1" fill="#000"/>
<line x1="220.8" y1="1696.1" x2="1065.9" y2="1696.1" stroke="#111" stroke-width="1.3"/>
<polygon points="135.1,1623.2 339.2,1465.8 360.3,1494.6 343.5,1506.2 150.5,1642 135.1,1640" fill="none" stroke="#111" stroke-width="1.2" stroke-linejoin="round"/>
<text x="190.5" y="1508.2" font-size="23" font-family="'DejaVu Sans', 'Liberation Sans', sans-serif" textLength="51.2" lengthAdjust="spacingAndGlyphs">92.2</text>
<rect x="474.1" y="1391.9" width="254.3" height="254.3" fill="none" stroke="#3a3a3a" stroke-width="1.6"/>
<text x="452.6" y="1613.7" font-size="13" font-family="'DejaVu Sans', 'Liberation Sans', sans-serif" text-anchor="end">0</text>
<text x="451.6" y="1543.9" font-size="13" font-family="'DejaVu Sans', 'Liberation Sans', sans-serif" text-anchor="end">10</text>
<text x="461.8" y="1534.9" font-size="11" font-family="'DejaVu Sans', 'Liberation Sans', sans-serif" text-anchor="end">3</text>
<text x="451.6" y="1484.1" font-size="13" font-family="'DejaVu Sans', 'Liberation Sans', sans-serif" text-anchor="end">10</text>
<text x="461.8" y="1475.1" font-size="11" font-family="'DejaVu Sans', 'Liberation Sans', sans-serif" text-anchor="end">4</text>
<text x="451.6" y="1424.2" font-size="13" font-family="'DejaVu Sans', 'Liberation Sans', sans-serif" text-anchor="end">10</text>
<text x="461.8" y="1415.2" font-size="11" font-family="'DejaVu Sans', 'Liberation Sans', sans-serif" text-anchor="end">5</text>
<text x="474.6" y="1668.7" font-size="13" font-family="'DejaVu Sans', 'Liberation Sans', sans-serif">0</text>
<text x="522.7" y="1668.7" font-size="13" font-family="'DejaVu Sans', 'Liberation Sans', sans-serif" text-anchor="middle" letter-spacing="0.7">50K</text>
<text x="570.9" y="1668.7" font-size="13" font-family="'DejaVu Sans', 'Liberation Sans', sans-serif" text-anchor="middle" letter-spacing="0.7">100K</text>
<text x="619.1" y="1668.7" font-size="13" font-family="'DejaVu Sans', 'Liberation Sans', sans-serif" text-anchor="middle" letter-spacing="0.7">150K</text>
<text x="667.3" y="1668.7" font-size="13" font-family="'DejaVu Sans', 'Liberation Sans', sans-serif" text-anchor="middle" letter-spacing="0.7">200K</text>
<text x="727.9" y="1668.7" font-size="13" font-family="'DejaVu Sans', 'Liberation Sans', sans-serif" text-anchor="end" letter-spacing="0.7">250K</text>
<path d="M467.1 1609.1h7M467.1 1534.3h7M467.1 1474.5h7M467.1 1414.6h7M470.1 1588.4h4M470.1 1574.4h4M470.1 1564.8h4M470.1 1557.7h4M470.1 1552.1h4M470.1 1547.4h4M470.1 1543.5h4M470.1 1540.1h4M470.1 1537h4M470.1 1516.3h4M470.1 1505.8h4M470.1 1498.3h4M470.1 1492.5h4M470.1 1487.8h4M470.1 1483.8h4M470.1 1480.3h4M470.1 1477.2h4M470.1 1629.8h4M470.1 1643.8h4M470.1 1456.5h4M470.1 1445.9h4M470.1 1438.4h4M470.1 1432.6h4M470.1 1427.9h4M470.1 1423.9h4M470.1 1420.4h4M470.1 1417.3h4M470.1 1396.6h4M474.5 1646.2v7M522.7 1646.2v7M570.9 1646.2v7M619.1 1646.2v7M667.3 1646.2v7M715.5 1646.2v7M484.1 1646.2v3.5M493.8 1646.2v3.5M503.4 1646.2v3.5M513.1 1646.2v3.5M532.3 1646.2v3.5M542 1646.2v3.5M551.6 1646.2v3.5M561.3 1646.2v3.5M580.5 1646.2v3.5M590.2 1646.2v3.5M599.8 1646.2v3.5M609.5 1646.2v3.5M628.7 1646.2v3.5M638.4 1646.2v3.5M648 1646.2v3.5M657.7 1646.2v3.5M676.9 1646.2v3.5M686.6 1646.2v3.5M696.2 1646.2v3.5M705.9 1646.2v3.5M725.1 1646.2v3.5" stroke="#3a3a3a" stroke-width="1.3" fill="none"/>
<text x="433" y="1670.1" font-size="26.8" textLength="202.4" lengthAdjust="spacingAndGlyphs" transform="rotate(-90 433 1670.1)">UV450-LiveDead</text>
<polygon points="425.1,1377.5 437.1,1406 425.1,1401.5 413.1,1406" fill="#000"/>
<line x1="425.1" y1="1399.5" x2="425.1" y2="1456.8" stroke="#111" stroke-width="1.3"/>
<polygon points="496.8,1639.6 495.7,1577.8 525.6,1562.8 581.2,1518.5 595.6,1516.5 699.5,1514.4 699.5,1639.6" fill="none" stroke="#111" stroke-width="1.2" stroke-linejoin="round"/>
<text x="670.6" y="1626.6" font-size="23" font-family="'DejaVu Sans', 'Liberation Sans', sans-serif" textLength="51.8" lengthAdjust="spacingAndGlyphs">68.2</text>
<rect x="842.5" y="1391.9" width="254.3" height="254.3" fill="none" stroke="#3a3a3a" stroke-width="1.6"/>
<text x="830" y="1652.1" font-size="13" font-family="'DejaVu Sans', 'Liberation Sans', sans-serif" text-anchor="end" letter-spacing="0.7">0</text>
<text x="830" y="1603.8" font-size="13" font-family="'DejaVu Sans', 'Liberation Sans', sans-serif" text-anchor="end" letter-spacing="0.7">50K</text>
<text x="830" y="1555.5" font-size="13" font-family="'DejaVu Sans', 'Liberation Sans', sans-serif" text-anchor="end" letter-spacing="0.7">100K</text>
<text x="830" y="1507.2" font-size="13" font-family="'DejaVu Sans', 'Liberation Sans', sans-serif" text-anchor="end" letter-spacing="0.7">150K</text>
<text x="830" y="1458.9" font-size="13" font-family="'DejaVu Sans', 'Liberation Sans', sans-serif" text-anchor="end" letter-spacing="0.7">200K</text>
<text x="830" y="1410.6" font-size="13" font-family="'DejaVu Sans', 'Liberation Sans', sans-serif" text-anchor="end" letter-spacing="0.7">250K</text>
<text x="843" y="1668.7" font-size="13" font-family="'DejaVu Sans', 'Liberation Sans', sans-serif">0</text>
<text x="891" y="1668.7" font-size="13" font-family="'DejaVu Sans', 'Liberation Sans', sans-serif" text-anchor="middle" letter-spacing="0.7">50K</text>
<text x="939.1" y="1668.7" font-size="13" font-family="'DejaVu Sans', 'Liberation Sans', sans-serif" text-anchor="middle" letter-spacing="0.7">100K</text>
<text x="987.2" y="1668.7" font-size="13" font-family="'DejaVu Sans', 'Liberation Sans', sans-serif" text-anchor="middle" letter-spacing="0.7">150K</text>
<text x="1035.3" y="1668.7" font-size="13" font-family="'DejaVu Sans', 'Liberation Sans', sans-serif" text-anchor="middle" letter-spacing="0.7">200K</text>
<text x="1096.3" y="1668.7" font-size="13" font-family="'DejaVu Sans', 'Liberation Sans', sans-serif" text-anchor="end" letter-spacing="0.7">250K</text>
<path d="M835.5 1645.1h7M835.5 1596.8h7M835.5 1548.5h7M835.5 1500.2h7M835.5 1451.9h7M835.5 1403.6h7M839 1635.4h3.5M839 1625.8h3.5M839 1616.1h3.5M839 1606.5h3.5M839 1587.1h3.5M839 1577.5h3.5M839 1567.8h3.5M839 1558.2h3.5M839 1538.8h3.5M839 1529.2h3.5M839 1519.5h3.5M839 1509.9h3.5M839 1490.5h3.5M839 1480.9h3.5M839 1471.2h3.5M839 1461.6h3.5M839 1442.2h3.5M839 1432.6h3.5M839 1422.9h3.5M839 1413.3h3.5M839 1393.9h3.5M842.9 1646.2v7M891 1646.2v7M939.1 1646.2v7M987.2 1646.2v7M1035.3 1646.2v7M1083.4 1646.2v7M852.5 1646.2v3.5M862.1 1646.2v3.5M871.8 1646.2v3.5M881.4 1646.2v3.5M900.6 1646.2v3.5M910.2 1646.2v3.5M919.9 1646.2v3.5M929.5 1646.2v3.5M948.7 1646.2v3.5M958.3 1646.2v3.5M968 1646.2v3.5M977.6 1646.2v3.5M996.8 1646.2v3.5M1006.4 1646.2v3.5M1016.1 1646.2v3.5M1025.7 1646.2v3.5M1044.9 1646.2v3.5M1054.5 1646.2v3.5M1064.2 1646.2v3.5M1073.8 1646.2v3.5M1093 1646.2v3.5" stroke="#3a3a3a" stroke-width="1.3" fill="none"/>
<text x="788.4" y="1670.1" font-size="26.8" textLength="83" lengthAdjust="spacingAndGlyphs" transform="rotate(-90 788.4 1670.1)">SSC-A</text>
<polygon points="780.8,1377.5 792.8,1406 780.8,1401.5 768.8,1406" fill="#000"/>
<line x1="780.8" y1="1399.5" x2="780.8" y2="1578.2" stroke="#111" stroke-width="1.3"/>
<rect x="885.1" y="1612.2" width="63.2" height="29.4" fill="none" stroke="#111" stroke-width="1.2"/>
<text x="996.6" y="1626.6" font-size="23" font-family="'DejaVu Sans', 'Liberation Sans', sans-serif" textLength="52.8" lengthAdjust="spacingAndGlyphs">60.9</text>
<rect x="1206.6" y="1391.9" width="254.7" height="254.3" fill="none" stroke="#3a3a3a" stroke-width="1.6"/>
<text x="1185.1" y="1592.1" font-size="13" font-family="'DejaVu Sans', 'Liberation Sans', sans-serif" text-anchor="end">0</text>
<text x="1184.1" y="1553.9" font-size="13" font-family="'DejaVu Sans', 'Liberation Sans', sans-serif" text-anchor="end">10</text>
<text x="1194.3" y="1544.9" font-size="11" font-family="'DejaVu Sans', 'Liberation Sans', sans-serif" text-anchor="end">3</text>
<text x="1184.1" y="1489.3" font-size="13" font-family="'DejaVu Sans', 'Liberation Sans', sans-serif" text-anchor="end">10</text>
<text x="1194.3" y="1480.3" font-size="11" font-family="'DejaVu Sans', 'Liberation Sans', sans-serif" text-anchor="end">4</text>
<text x="1184.1" y="1423.2" font-size="13" font-family="'DejaVu Sans', 'Liberation Sans', sans-serif" text-anchor="end">10</text>
<text x="1194.3" y="1414.2" font-size="11" font-family="'DejaVu Sans', 'Liberation Sans', sans-serif" text-anchor="end">5</text>
<text x="1184.1" y="1640.3" font-size="13" font-family="'DejaVu Sans', 'Liberation Sans', sans-serif" text-anchor="end">−10</text>
<text x="1194.3" y="1631.3" font-size="11" font-family="'DejaVu Sans', 'Liberation Sans', sans-serif" text-anchor="end">3</text>
<text x="1249.3" y="1675" font-size="13" font-family="'DejaVu Sans', 'Liberation Sans', sans-serif" text-anchor="middle">0</text>
<text x="1313.8" y="1675" font-size="13" font-family="'DejaVu Sans', 'Liberation Sans', sans-serif">10</text>
<text x="1330.8" y="1665.7" font-size="11" font-family="'DejaVu Sans', 'Liberation Sans', sans-serif">3</text>
<text x="1374.2" y="1675" font-size="13" font-family="'DejaVu Sans', 'Liberation Sans', sans-serif">10</text>
<text x="1391.2" y="1665.7" font-size="11" font-family="'DejaVu Sans', 'Liberation Sans', sans-serif">4</text>
<text x="1434.7" y="1675" font-size="13" font-family="'DejaVu Sans', 'Liberation Sans', sans-serif">10</text>
<text x="1451.7" y="1665.7" font-size="11" font-family="'DejaVu Sans', 'Liberation Sans', sans-serif">5</text>
<path d="M1199.6 1587.5h7M1199.6 1544.3h7M1199.6 1479.7h7M1199.6 1413.6h7M1199.6 1630.7h7M1202.6 1581.4h4M1202.6 1575.6h4M1202.6 1570.2h4M1202.6 1565.3h4M1202.6 1560.8h4M1202.6 1556.9h4M1202.6 1553.3h4M1202.6 1550h4M1202.6 1547.1h4M1202.6 1525.5h4M1202.6 1514.1h4M1202.6 1505.9h4M1202.6 1499.5h4M1202.6 1494.3h4M1202.6 1489.9h4M1202.6 1486.1h4M1202.6 1482.7h4M1202.6 1593.6h4M1202.6 1599.4h4M1202.6 1604.8h4M1202.6 1609.7h4M1202.6 1614.2h4M1202.6 1618.1h4M1202.6 1621.7h4M1202.6 1625h4M1202.6 1627.9h4M1202.6 1459.8h4M1202.6 1448.2h4M1202.6 1439.9h4M1202.6 1433.5h4M1202.6 1428.3h4M1202.6 1423.8h4M1202.6 1420h4M1202.6 1416.6h4M1202.6 1393.7h4M1202.6 1630.7h4M1249.3 1646.2v7M1316.3 1646.2v7M1376.7 1646.2v7M1437.2 1646.2v7M1265 1646.2v4M1277.1 1646.2v4M1286.1 1646.2v4M1293 1646.2v4M1298.5 1646.2v4M1303.1 1646.2v4M1307.1 1646.2v4M1310.5 1646.2v4M1313.5 1646.2v4M1334.4 1646.2v4M1345 1646.2v4M1352.6 1646.2v4M1358.4 1646.2v4M1363.2 1646.2v4M1367.3 1646.2v4M1370.8 1646.2v4M1373.9 1646.2v4M1233.6 1646.2v4M1221.5 1646.2v4M1212.5 1646.2v4M1394.9 1646.2v4M1405.6 1646.2v4M1413.1 1646.2v4M1419 1646.2v4M1423.8 1646.2v4M1427.8 1646.2v4M1431.4 1646.2v4M1434.5 1646.2v4M1455.5 1646.2v4" stroke="#3a3a3a" stroke-width="1.3" fill="none"/>
<text x="1153.5" y="1671.1" font-size="26.8" textLength="133.4" lengthAdjust="spacingAndGlyphs" transform="rotate(-90 1153.5 1671.1)">APC-CD19</text>
<polygon points="1145.7,1377.5 1157.7,1406 1145.7,1401.5 1133.7,1406" fill="#000"/>
<line x1="1145.7" y1="1399.5" x2="1145.7" y2="1529.8" stroke="#111" stroke-width="1.3"/>
<text x="1203.7" y="1702.8" font-size="26.8" textLength="120" lengthAdjust="spacingAndGlyphs">FITC-CD3</text>
<polygon points="1460.3,1696 1431.8,1708 1436.3,1696 1431.8,1684" fill="#000"/>
<line x1="1333.7" y1="1696" x2="1438.3" y2="1696" stroke="#111" stroke-width="1.3"/>
<rect x="1222.5" y="1471.6" width="58.7" height="81.5" fill="none" stroke="#111" stroke-width="1.2"/>
<rect x="1229.3" y="1566.9" width="49.8" height="51.1" fill="none" stroke="#111" stroke-width="1.2"/>
<rect x="1300.7" y="1557.2" width="78.3" height="62.6" fill="none" stroke="#111" stroke-width="1.2"/>
<text x="1227.5" y="1426.9" font-size="23" font-family="'DejaVu Sans', 'Liberation Sans', sans-serif" textLength="52.3" lengthAdjust="spacingAndGlyphs">30.1</text>
<text x="1255.7" y="1461.9" font-size="24" textLength="79.2" lengthAdjust="spacingAndGlyphs">B cells</text>
<text x="1229.5" y="1625.6" font-size="23" font-family="'DejaVu Sans', 'Liberation Sans', sans-serif" textLength="52.8" lengthAdjust="spacingAndGlyphs">28.8</text>
<text x="1403.5" y="1592.6" font-size="23" font-family="'DejaVu Sans', 'Liberation Sans', sans-serif" textLength="52.7" lengthAdjust="spacingAndGlyphs">39.0</text>
<rect x="473.7" y="1750.5" width="254.8" height="254.6" fill="none" stroke="#3a3a3a" stroke-width="1.6"/>
<text x="452.2" y="1951.1" font-size="13" font-family="'DejaVu Sans', 'Liberation Sans', sans-serif" text-anchor="end">0</text>
<text x="451.2" y="1912.1" font-size="13" font-family="'DejaVu Sans', 'Liberation Sans', sans-serif" text-anchor="end">10</text>
<text x="461.4" y="1903.1" font-size="11" font-family="'DejaVu Sans', 'Liberation Sans', sans-serif" text-anchor="end">3</text>
<text x="451.2" y="1847.8" font-size="13" font-family="'DejaVu Sans', 'Liberation Sans', sans-serif" text-anchor="end">10</text>
<text x="461.4" y="1838.8" font-size="11" font-family="'DejaVu Sans', 'Liberation Sans', sans-serif" text-anchor="end">4</text>
<text x="451.2" y="1782.1" font-size="13" font-family="'DejaVu Sans', 'Liberation Sans', sans-serif" text-anchor="end">10</text>
<text x="461.4" y="1773.1" font-size="11" font-family="'DejaVu Sans', 'Liberation Sans', sans-serif" text-anchor="end">5</text>
<text x="451.2" y="2000.1" font-size="13" font-family="'DejaVu Sans', 'Liberation Sans', sans-serif" text-anchor="end">−10</text>
<text x="461.4" y="1991.1" font-size="11" font-family="'DejaVu Sans', 'Liberation Sans', sans-serif" text-anchor="end">3</text>
<text x="474.2" y="2027.6" font-size="13" font-family="'DejaVu Sans', 'Liberation Sans', sans-serif">0</text>
<text x="522.7" y="2027.6" font-size="13" font-family="'DejaVu Sans', 'Liberation Sans', sans-serif" text-anchor="middle" letter-spacing="0.7">50K</text>
<text x="570.7" y="2027.6" font-size="13" font-family="'DejaVu Sans', 'Liberation Sans', sans-serif" text-anchor="middle" letter-spacing="0.7">100K</text>
<text x="618.7" y="2027.6" font-size="13" font-family="'DejaVu Sans', 'Liberation Sans', sans-serif" text-anchor="middle" letter-spacing="0.7">150K</text>
<text x="666.7" y="2027.6" font-size="13" font-family="'DejaVu Sans', 'Liberation Sans', sans-serif" text-anchor="middle" letter-spacing="0.7">200K</text>
<text x="728" y="2027.6" font-size="13" font-family="'DejaVu Sans', 'Liberation Sans', sans-serif" text-anchor="end" letter-spacing="0.7">250K</text>
<path d="M466.7 1946.5h7M466.7 1902.5h7M466.7 1838.2h7M466.7 1772.5h7M466.7 1990.5h7M469.7 1940.2h4M469.7 1934.2h4M469.7 1928.6h4M469.7 1923.6h4M469.7 1919.1h4M469.7 1915.1h4M469.7 1911.5h4M469.7 1908.2h4M469.7 1905.3h4M469.7 1883.8h4M469.7 1872.4h4M469.7 1864.2h4M469.7 1857.9h4M469.7 1852.7h4M469.7 1848.3h4M469.7 1844.5h4M469.7 1841.2h4M469.7 1952.8h4M469.7 1958.8h4M469.7 1964.4h4M469.7 1969.4h4M469.7 1973.9h4M469.7 1977.9h4M469.7 1981.5h4M469.7 1984.8h4M469.7 1987.7h4M469.7 1818.4h4M469.7 1806.9h4M469.7 1798.7h4M469.7 1792.3h4M469.7 1787.1h4M469.7 1782.7h4M469.7 1778.9h4M469.7 1775.5h4M469.7 1752.8h4M469.7 1990.5h4M474.7 2005.1v7M522.7 2005.1v7M570.7 2005.1v7M618.7 2005.1v7M666.7 2005.1v7M714.7 2005.1v7M484.3 2005.1v3.5M493.9 2005.1v3.5M503.5 2005.1v3.5M513.1 2005.1v3.5M532.3 2005.1v3.5M541.9 2005.1v3.5M551.5 2005.1v3.5M561.1 2005.1v3.5M580.3 2005.1v3.5M589.9 2005.1v3.5M599.5 2005.1v3.5M609.1 2005.1v3.5M628.3 2005.1v3.5M637.9 2005.1v3.5M647.5 2005.1v3.5M657.1 2005.1v3.5M676.3 2005.1v3.5M685.9 2005.1v3.5M695.5 2005.1v3.5M705.1 2005.1v3.5M724.3 2005.1v3.5" stroke="#3a3a3a" stroke-width="1.3" fill="none"/>
<text x="423" y="2022.9" font-size="26.8" textLength="246.7" lengthAdjust="spacingAndGlyphs" transform="rotate(-90 423 2022.9)">Pacific Blue--TCRγδ</text>
<polygon points="414.6,1743.7 426.6,1772.2 414.6,1767.7 402.6,1772.2" fill="#000"/>
<line x1="414.6" y1="1765.7" x2="414.6" y2="1776" stroke="#111" stroke-width="1.3"/>
<text x="477.1" y="2070" font-size="26.8" textLength="79.3" lengthAdjust="spacingAndGlyphs">FSC-A</text>
<polygon points="733.1,2064.2 704.6,2076.2 709.1,2064.2 704.6,2052.2" fill="#000"/>
<line x1="565.3" y1="2064.2" x2="711.1" y2="2064.2" stroke="#111" stroke-width="1.3"/>
<rect x="505.6" y="1820.9" width="75.1" height="74.5" fill="none" stroke="#111" stroke-width="1.2"/>
<text x="515.1" y="1784.2" font-size="23" font-family="'DejaVu Sans', 'Liberation Sans', sans-serif" textLength="50.3" lengthAdjust="spacingAndGlyphs">15.5</text>
<text x="585.7" y="1814.3" font-size="24" textLength="108.4" lengthAdjust="spacingAndGlyphs">γδ T cells</text>
<rect x="842.3" y="1750.5" width="254.5" height="254.6" fill="none" stroke="#3a3a3a" stroke-width="1.6"/>
<text x="820.8" y="1968.6" font-size="13" font-family="'DejaVu Sans', 'Liberation Sans', sans-serif" text-anchor="end">0</text>
<text x="819.8" y="1903.4" font-size="13" font-family="'DejaVu Sans', 'Liberation Sans', sans-serif" text-anchor="end">10</text>
<text x="830" y="1894.4" font-size="11" font-family="'DejaVu Sans', 'Liberation Sans', sans-serif" text-anchor="end">3</text>
<text x="819.8" y="1843.2" font-size="13" font-family="'DejaVu Sans', 'Liberation Sans', sans-serif" text-anchor="end">10</text>
<text x="830" y="1834.2" font-size="11" font-family="'DejaVu Sans', 'Liberation Sans', sans-serif" text-anchor="end">4</text>
<text x="819.8" y="1782.8" font-size="13" font-family="'DejaVu Sans', 'Liberation Sans', sans-serif" text-anchor="end">10</text>
<text x="830" y="1773.8" font-size="11" font-family="'DejaVu Sans', 'Liberation Sans', sans-serif" text-anchor="end">5</text>
<text x="902.6" y="2033.9" font-size="13" font-family="'DejaVu Sans', 'Liberation Sans', sans-serif" text-anchor="middle">0</text>
<text x="941" y="2033.9" font-size="13" font-family="'DejaVu Sans', 'Liberation Sans', sans-serif">10</text>
<text x="958" y="2024.6" font-size="11" font-family="'DejaVu Sans', 'Liberation Sans', sans-serif">3</text>
<text x="1005.1" y="2033.9" font-size="13" font-family="'DejaVu Sans', 'Liberation Sans', sans-serif">10</text>
<text x="1022.1" y="2024.6" font-size="11" font-family="'DejaVu Sans', 'Liberation Sans', sans-serif">4</text>
<text x="1070.8" y="2033.9" font-size="13" font-family="'DejaVu Sans', 'Liberation Sans', sans-serif">10</text>
<text x="1087.8" y="2024.6" font-size="11" font-family="'DejaVu Sans', 'Liberation Sans', sans-serif">5</text>
<text x="849.2" y="2033.9" font-size="13" font-family="'DejaVu Sans', 'Liberation Sans', sans-serif">−10</text>
<text x="872.7" y="2024.6" font-size="11" font-family="'DejaVu Sans', 'Liberation Sans', sans-serif">3</text>
<path d="M835.3 1964h7M835.3 1893.8h7M835.3 1833.6h7M835.3 1773.2h7M838.3 1946.4h4M838.3 1933.5h4M838.3 1924.2h4M838.3 1917.2h4M838.3 1911.6h4M838.3 1907h4M838.3 1903.1h4M838.3 1899.6h4M838.3 1896.6h4M838.3 1875.8h4M838.3 1865.1h4M838.3 1857.6h4M838.3 1851.8h4M838.3 1847h4M838.3 1842.9h4M838.3 1839.4h4M838.3 1836.4h4M838.3 1981.6h4M838.3 1994.5h4M838.3 2003.8h4M838.3 1815.4h4M838.3 1804.8h4M838.3 1797.2h4M838.3 1791.4h4M838.3 1786.6h4M838.3 1782.6h4M838.3 1779.1h4M838.3 1776h4M838.3 1755.1h4M902.6 2005.1v7M943.5 2005.1v7M1007.6 2005.1v7M1073.3 2005.1v7M861.7 2005.1v7M908.2 2005.1v4M913.6 2005.1v4M918.6 2005.1v4M923.3 2005.1v4M927.5 2005.1v4M931.3 2005.1v4M934.8 2005.1v4M937.9 2005.1v4M940.8 2005.1v4M962 2005.1v4M973.4 2005.1v4M981.5 2005.1v4M987.8 2005.1v4M993 2005.1v4M997.4 2005.1v4M1001.2 2005.1v4M1004.6 2005.1v4M897 2005.1v4M891.6 2005.1v4M886.6 2005.1v4M881.9 2005.1v4M877.7 2005.1v4M873.9 2005.1v4M870.4 2005.1v4M867.3 2005.1v4M864.4 2005.1v4M1027.3 2005.1v4M1038.9 2005.1v4M1047.1 2005.1v4M1053.5 2005.1v4M1058.7 2005.1v4M1063.1 2005.1v4M1066.9 2005.1v4M1070.3 2005.1v4M1093.1 2005.1v4M861.7 2005.1v4" stroke="#3a3a3a" stroke-width="1.3" fill="none"/>
<text x="788.4" y="2022.9" font-size="26.8" textLength="141.7" lengthAdjust="spacingAndGlyphs" transform="rotate(-90 788.4 2022.9)">BV510-CD8</text>
<polygon points="780.8,1744.3 792.8,1772.8 780.8,1768.3 768.8,1772.8" fill="#000"/>
<line x1="780.8" y1="1766.3" x2="780.8" y2="1863" stroke="#111" stroke-width="1.3"/>
<text x="830.3" y="2070" font-size="26.8" textLength="140.6" lengthAdjust="spacingAndGlyphs">BV605-CD4</text>
<polygon points="1086.9,2064.2 1058.4,2076.2 1062.9,2064.2 1058.4,2052.2" fill="#000"/>
<line x1="984" y1="2064.2" x2="1064.9" y2="2064.2" stroke="#111" stroke-width="1.3"/>
<rect x="873.8" y="1827.5" width="61.8" height="59.3" fill="none" stroke="#111" stroke-width="1.2"/>
<rect x="869.1" y="1927.5" width="57.8" height="61.2" fill="none" stroke="#111" stroke-width="1.2"/>
<rect x="926.9" y="1927.5" width="81.8" height="60.5" fill="none" stroke="#111" stroke-width="1.2"/>
<text x="870.6" y="1792" font-size="23" font-family="'DejaVu Sans', 'Liberation Sans', sans-serif" textLength="52.7" lengthAdjust="spacingAndGlyphs">47.5</text>
<text x="861.9" y="1820.5" font-size="24" textLength="54.3" lengthAdjust="spacingAndGlyphs">CD8</text>
<text x="915.9" y="1800" font-size="13" textLength="8.8" lengthAdjust="spacingAndGlyphs">+</text>
<text x="929.2" y="1820.5" font-size="24" textLength="78.6" lengthAdjust="spacingAndGlyphs">T cells</text>
<text x="941.6" y="1914.5" font-size="24" textLength="52.8" lengthAdjust="spacingAndGlyphs">CD4</text>
<text x="993.9" y="1894" font-size="13" textLength="8.8" lengthAdjust="spacingAndGlyphs">+</text>
<text x="1008.5" y="1914.5" font-size="24" textLength="78.2" lengthAdjust="spacingAndGlyphs">T cells</text>
<text x="847.6" y="1964" font-size="23" font-family="'DejaVu Sans', 'Liberation Sans', sans-serif" textLength="52.5" lengthAdjust="spacingAndGlyphs">8.49</text>
<text x="1039.4" y="1960.5" font-size="23" font-family="'DejaVu Sans', 'Liberation Sans', sans-serif" textLength="52.7" lengthAdjust="spacingAndGlyphs">40.8</text>
<rect x="1206.6" y="1750.5" width="254.7" height="254.6" fill="none" stroke="#3a3a3a" stroke-width="1.6"/>
<text x="1185.1" y="1951.1" font-size="13" font-family="'DejaVu Sans', 'Liberation Sans', sans-serif" text-anchor="end">0</text>
<text x="1184.1" y="1912.1" font-size="13" font-family="'DejaVu Sans', 'Liberation Sans', sans-serif" text-anchor="end">10</text>
<text x="1194.3" y="1903.1" font-size="11" font-family="'DejaVu Sans', 'Liberation Sans', sans-serif" text-anchor="end">3</text>
<text x="1184.1" y="1847.8" font-size="13" font-family="'DejaVu Sans', 'Liberation Sans', sans-serif" text-anchor="end">10</text>
<text x="1194.3" y="1838.8" font-size="11" font-family="'DejaVu Sans', 'Liberation Sans', sans-serif" text-anchor="end">4</text>
<text x="1184.1" y="1782.1" font-size="13" font-family="'DejaVu Sans', 'Liberation Sans', sans-serif" text-anchor="end">10</text>
<text x="1194.3" y="1773.1" font-size="11" font-family="'DejaVu Sans', 'Liberation Sans', sans-serif" text-anchor="end">5</text>
<text x="1184.1" y="2000.1" font-size="13" font-family="'DejaVu Sans', 'Liberation Sans', sans-serif" text-anchor="end">−10</text>
<text x="1194.3" y="1991.1" font-size="11" font-family="'DejaVu Sans', 'Liberation Sans', sans-serif" text-anchor="end">3</text>
<text x="1249.3" y="2033.9" font-size="13" font-family="'DejaVu Sans', 'Liberation Sans', sans-serif" text-anchor="middle">0</text>
<text x="1313.8" y="2033.9" font-size="13" font-family="'DejaVu Sans', 'Liberation Sans', sans-serif">10</text>
<text x="1330.8" y="2024.6" font-size="11" font-family="'DejaVu Sans', 'Liberation Sans', sans-serif">3</text>
<text x="1374.2" y="2033.9" font-size="13" font-family="'DejaVu Sans', 'Liberation Sans', sans-serif">10</text>
<text x="1391.2" y="2024.6" font-size="11" font-family="'DejaVu Sans', 'Liberation Sans', sans-serif">4</text>
<text x="1434.7" y="2033.9" font-size="13" font-family="'DejaVu Sans', 'Liberation Sans', sans-serif">10</text>
<text x="1451.7" y="2024.6" font-size="11" font-family="'DejaVu Sans', 'Liberation Sans', sans-serif">5</text>
<path d="M1199.6 1946.5h7M1199.6 1902.5h7M1199.6 1838.2h7M1199.6 1772.5h7M1199.6 1990.5h7M1202.6 1940.2h4M1202.6 1934.2h4M1202.6 1928.6h4M1202.6 1923.6h4M1202.6 1919.1h4M1202.6 1915.1h4M1202.6 1911.5h4M1202.6 1908.2h4M1202.6 1905.3h4M1202.6 1883.8h4M1202.6 1872.4h4M1202.6 1864.2h4M1202.6 1857.9h4M1202.6 1852.7h4M1202.6 1848.3h4M1202.6 1844.5h4M1202.6 1841.2h4M1202.6 1952.8h4M1202.6 1958.8h4M1202.6 1964.4h4M1202.6 1969.4h4M1202.6 1973.9h4M1202.6 1977.9h4M1202.6 1981.5h4M1202.6 1984.8h4M1202.6 1987.7h4M1202.6 1818.4h4M1202.6 1806.9h4M1202.6 1798.7h4M1202.6 1792.3h4M1202.6 1787.1h4M1202.6 1782.7h4M1202.6 1778.9h4M1202.6 1775.5h4M1202.6 1752.8h4M1202.6 1990.5h4M1249.3 2005.1v7M1316.3 2005.1v7M1376.7 2005.1v7M1437.2 2005.1v7M1265 2005.1v4M1277.1 2005.1v4M1286.1 2005.1v4M1293 2005.1v4M1298.5 2005.1v4M1303.1 2005.1v4M1307.1 2005.1v4M1310.5 2005.1v4M1313.5 2005.1v4M1334.4 2005.1v4M1345 2005.1v4M1352.6 2005.1v4M1358.4 2005.1v4M1363.2 2005.1v4M1367.3 2005.1v4M1370.8 2005.1v4M1373.9 2005.1v4M1233.6 2005.1v4M1221.5 2005.1v4M1212.5 2005.1v4M1394.9 2005.1v4M1405.6 2005.1v4M1413.1 2005.1v4M1419 2005.1v4M1423.8 2005.1v4M1427.8 2005.1v4M1431.4 2005.1v4M1434.5 2005.1v4M1455.5 2005.1v4" stroke="#3a3a3a" stroke-width="1.3" fill="none"/>
<text x="1152.5" y="2022.9" font-size="26.8" textLength="115.9" lengthAdjust="spacingAndGlyphs" transform="rotate(-90 1152.5 2022.9)">PE-NK1.1</text>
<polygon points="1144.3,1744.3 1156.3,1772.8 1144.3,1768.3 1132.3,1772.8" fill="#000"/>
<line x1="1144.3" y1="1766.3" x2="1144.3" y2="1899.1" stroke="#111" stroke-width="1.3"/>
<text x="1203.7" y="2070" font-size="26.8" textLength="120" lengthAdjust="spacingAndGlyphs">FITC-CD3</text>
<polygon points="1460.3,2064.2 1431.8,2076.2 1436.3,2064.2 1431.8,2052.2" fill="#000"/>
<line x1="1332.6" y1="2064.2" x2="1438.3" y2="2064.2" stroke="#111" stroke-width="1.3"/>
<rect x="1224.1" y="1825" width="58.1" height="71.4" fill="none" stroke="#111" stroke-width="1.2"/>
<text x="1228.5" y="1785.5" font-size="23" font-family="'DejaVu Sans', 'Liberation Sans', sans-serif" textLength="51.7" lengthAdjust="spacingAndGlyphs">72.1</text>
<text x="1305.3" y="1859" font-size="24" textLength="97.5" lengthAdjust="spacingAndGlyphs">NK cells</text>
<polyline points="390,194 491,194" fill="none" stroke="#333" stroke-width="1.2" stroke-dasharray="4.2 3.3"/>
<polygon points="491,194 472,202.7 476,194 472,185.3" fill="#000"/>
<polyline points="682,282.8 819.3,282.8" fill="none" stroke="#333" stroke-width="1.2" stroke-dasharray="4.2 3.3"/>
<polygon points="819.3,282.8 800.3,291.5 804.3,282.8 800.3,274.1" fill="#000"/>
<polyline points="1062,287.5 1201,287.5" fill="none" stroke="#333" stroke-width="1.2" stroke-dasharray="4.2 3.3"/>
<polygon points="1201,287.5 1182,296.2 1186,287.5 1182,278.8" fill="#000"/>
<polyline points="1411,193.6 1544.3,193.6" fill="none" stroke="#333" stroke-width="1.2" stroke-dasharray="4.2 3.3"/>
<polygon points="1544.3,193.6 1525.3,202.3 1529.3,193.6 1525.3,184.9" fill="#000"/>
<polyline points="904.7,267.3 1224.8,38.2 1994.6,38.2 1994.6,128" fill="none" stroke="#333" stroke-width="1.2" stroke-dasharray="4.2 3.3"/>
<polygon points="1994.6,128 1985.9,109 1994.6,113 2003.3,109" fill="#000"/>
<polyline points="388,654.8 486.6,654.8" fill="none" stroke="#333" stroke-width="1.2" stroke-dasharray="4.2 3.3"/>
<polygon points="486.6,654.8 467.6,663.5 471.6,654.8 467.6,646.1" fill="#000"/>
<polyline points="685.2,793.4 837.7,793.4" fill="none" stroke="#333" stroke-width="1.2" stroke-dasharray="4.2 3.3"/>
<polygon points="837.7,793.4 818.7,802.1 822.7,793.4 818.7,784.7" fill="#000"/>
<polyline points="1055.8,686.3 1207.6,686.3" fill="none" stroke="#333" stroke-width="1.2" stroke-dasharray="4.2 3.3"/>
<polygon points="1207.6,686.3 1188.6,695 1192.6,686.3 1188.6,677.6" fill="#000"/>
<polyline points="1374.4,731.6 1504.4,731.6" fill="none" stroke="#333" stroke-width="1.2" stroke-dasharray="4.2 3.3"/>
<polygon points="1504.4,731.6 1485.4,740.3 1489.4,731.6 1485.4,722.9" fill="#000"/>
<polyline points="1685.6,780 1685.6,932.5" fill="none" stroke="#333" stroke-width="1.2" stroke-dasharray="4.2 3.3"/>
<polygon points="1685.6,932.5 1676.9,913.5 1685.6,917.5 1694.3,913.5" fill="#000"/>
<polyline points="1524,1033.4 1400.1,1033.4" fill="none" stroke="#333" stroke-width="1.2" stroke-dasharray="4.2 3.3"/>
<polygon points="1400.1,1033.4 1419.1,1024.7 1415.1,1033.4 1419.1,1042.1" fill="#000"/>
<polyline points="1201.5,1115.1 1048.8,1115.1" fill="none" stroke="#333" stroke-width="1.2" stroke-dasharray="4.2 3.3"/>
<polygon points="1048.8,1115.1 1067.8,1106.4 1063.8,1115.1 1067.8,1123.8" fill="#000"/>
<polyline points="837.8,1157.7 691.3,1157.7" fill="none" stroke="#333" stroke-width="1.2" stroke-dasharray="4.2 3.3"/>
<polygon points="691.3,1157.7 710.3,1149 706.3,1157.7 710.3,1166.4" fill="#000"/>
<polyline points="512.2,1061.6 360.1,1061.6" fill="none" stroke="#333" stroke-width="1.2" stroke-dasharray="4.2 3.3"/>
<polygon points="360.1,1061.6 379.1,1052.9 375.1,1061.6 379.1,1070.3" fill="#000"/>
<polyline points="684.1,1569 855.7,1569" fill="none" stroke="#333" stroke-width="1.2" stroke-dasharray="4.2 3.3"/>
<polygon points="855.7,1569 836.7,1577.7 840.7,1569 836.7,1560.3" fill="#000"/>
<polyline points="932.5,1637.5 1221.5,1637.5" fill="none" stroke="#333" stroke-width="1.2" stroke-dasharray="4.2 3.3"/>
<polygon points="1221.5,1637.5 1202.5,1646.2 1206.5,1637.5 1202.5,1628.8" fill="#000"/>
<polyline points="1300.7,1608 1038.5,1804.4" fill="none" stroke="#333" stroke-width="1.2" stroke-dasharray="4.2 3.3"/>
<polygon points="1038.5,1804.4 1048.5,1786 1050.5,1795.4 1058.9,1800" fill="#000"/>
<polyline points="1266.3,1627.6 1266.3,1815.7" fill="none" stroke="#333" stroke-width="1.2" stroke-dasharray="4.2 3.3"/>
<polygon points="1266.3,1815.7 1257.6,1796.7 1266.3,1800.7 1275,1796.7" fill="#000"/>
<polyline points="871.8,1981.5 681.6,1981.5" fill="none" stroke="#333" stroke-width="1.2" stroke-dasharray="4.2 3.3"/>
<polygon points="681.6,1981.5 700.6,1972.8 696.6,1981.5 700.6,1990.2" fill="#000"/>
</svg>
</body></html>
